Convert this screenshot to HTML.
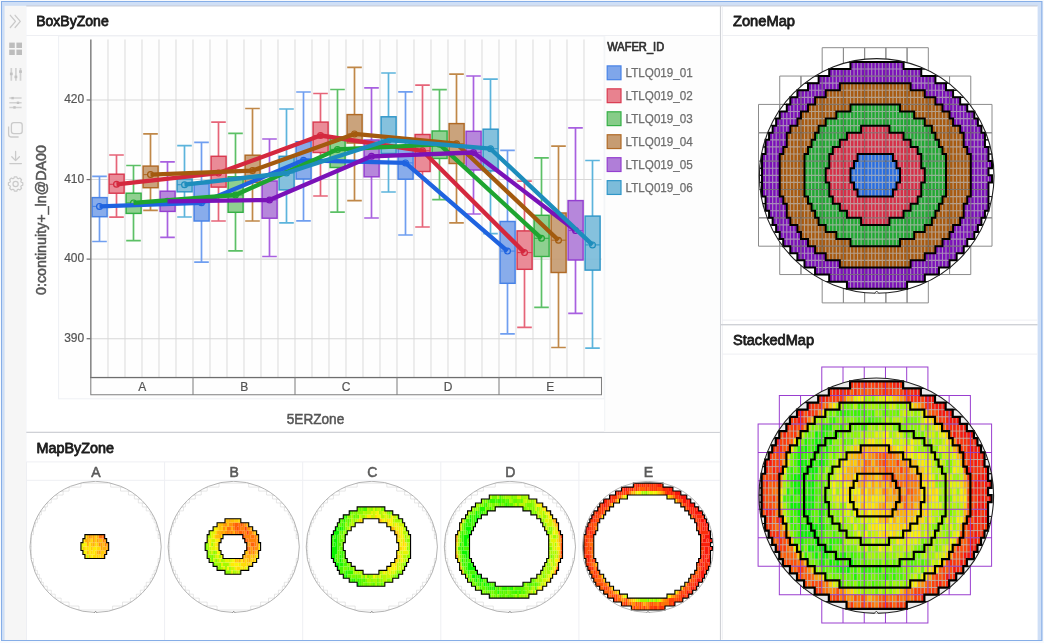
<!DOCTYPE html>
<html><head><meta charset="utf-8"><title>Dashboard</title>
<style>html,body{margin:0;padding:0;background:#f6f9fd;overflow:hidden}svg{display:block;filter:blur(0.4px)}text{font-family:"Liberation Sans",sans-serif}</style></head><body>
<svg width="1044" height="643" viewBox="0 0 1044 643">
<rect x="0" y="0" width="1044" height="643" fill="#f8fafd"/>
<rect x="1" y="1" width="1041.5" height="640" fill="#86aee7"/>
<rect x="2" y="2" width="1039.3" height="638" fill="#cfdff6"/>
<rect x="4.6" y="5.8" width="22" height="634.2" fill="#f6f6f6"/>
<rect x="26.3" y="6" width="1011.3" height="634" fill="#ffffff"/>
<rect x="26.3" y="5.4" width="1011.3" height="1.1" fill="#c9ced8"/>
<rect x="719.9" y="6" width="1.1" height="634" fill="#cfd1d6"/>
<rect x="721.8" y="6.5" width="1" height="633" fill="#eeeff3"/>
<rect x="26.3" y="431.7" width="693.6" height="1.3" fill="#cfd1d6"/>
<rect x="721" y="324" width="316.6" height="1.4" fill="#cfd1d6"/>
<rect x="722" y="319.6" width="315.6" height="1" fill="#eeeff3"/>
<rect x="26.3" y="35" width="693.6" height="1" fill="#eeeff3"/>
<rect x="722" y="35" width="315.6" height="1" fill="#eeeff3"/>
<rect x="722" y="353.6" width="315.6" height="1" fill="#eeeff3"/>
<rect x="26.3" y="461.4" width="693.6" height="1" fill="#eeeff3"/>
<text x="36.2" y="25.8" font-size="14" fill="#1c1c1c" stroke="#1c1c1c" stroke-width="0.8" stroke-linejoin="round" textLength="72.5" lengthAdjust="spacingAndGlyphs">BoxByZone</text>
<text x="733" y="25.8" font-size="14" fill="#1c1c1c" stroke="#1c1c1c" stroke-width="0.8" stroke-linejoin="round" textLength="62" lengthAdjust="spacingAndGlyphs">ZoneMap</text>
<text x="733" y="344.6" font-size="14" fill="#1c1c1c" stroke="#1c1c1c" stroke-width="0.8" stroke-linejoin="round" textLength="81" lengthAdjust="spacingAndGlyphs">StackedMap</text>
<text x="36.5" y="453.2" font-size="14" fill="#1c1c1c" stroke="#1c1c1c" stroke-width="0.8" stroke-linejoin="round" textLength="77.5" lengthAdjust="spacingAndGlyphs">MapByZone</text>
<g fill="none" stroke="#cacaca" stroke-width="1.3" stroke-linecap="round" stroke-linejoin="round"><path d="M10.3 15.3 L15.5 21.4 L10.3 27.5 M15.1 15.3 L20.3 21.4 L15.1 27.5"/></g>
<g fill="#bdbdbd"><rect x="9.2" y="42.6" width="5.6" height="5.4"/><rect x="16.4" y="42.6" width="5.6" height="5.4"/><rect x="9.2" y="49.6" width="5.6" height="5.4"/><rect x="16.4" y="49.6" width="5.6" height="5.4"/></g>
<g stroke="#d2d2d2" stroke-width="1.7" fill="none"><path d="M11.3 68 V80.8 M15.9 68 V80.8 M20.5 68 V80.8"/></g>
<g fill="#c2c2c2"><rect x="9.9" y="72.6" width="2.8" height="2.6"/><rect x="14.5" y="75.6" width="2.8" height="2.6"/><rect x="19.1" y="70.3" width="2.8" height="2.6"/></g>
<g stroke="#d2d2d2" stroke-width="1.5" fill="none"><path d="M9.3 98.1 H21.6 M9.3 102.8 H21.6 M9.3 107.4 H21.6"/></g>
<g fill="#c2c2c2"><rect x="11.4" y="96.9" width="2.4" height="2.4"/><rect x="16.8" y="101.6" width="2.4" height="2.4"/><rect x="13.3" y="106.2" width="2.4" height="2.4"/></g>
<g fill="none" stroke="#cacaca" stroke-width="1.3" stroke-linejoin="round"><rect x="11.4" y="122.6" width="10.8" height="11" rx="2.4"/><path d="M8.6 126.6 V134.6 Q8.6 137 11 137 H18.6"/></g>
<g fill="none" stroke="#cacaca" stroke-width="1.3" stroke-linecap="round" stroke-linejoin="round"><path d="M15.6 151.5 V160.5 M11.8 156.8 L15.6 160.6 L19.4 156.8 M9.8 163.6 H21.4"/></g>
<g fill="none" stroke="#cacaca" stroke-width="1.2" stroke-linejoin="round"><path d="M22.79 182.76 L22.79 185.24 L21.24 185.74 L20.82 186.75 L21.56 188.21 L19.81 189.96 L18.35 189.22 L17.35 189.64 L16.84 191.19 L14.36 191.19 L13.86 189.64 L12.85 189.22 L11.39 189.96 L9.64 188.21 L10.38 186.75 L9.96 185.75 L8.41 185.24 L8.41 182.76 L9.96 182.26 L10.38 181.25 L9.64 179.79 L11.39 178.04 L12.85 178.78 L13.85 178.36 L14.36 176.81 L16.84 176.81 L17.34 178.36 L18.35 178.78 L19.81 178.04 L21.56 179.79 L20.82 181.25 L21.24 182.25Z"/><circle cx="15.6" cy="184" r="2.6"/></g>
<rect x="58.6" y="36" width="545.6" height="362.8" fill="#fefefe" stroke="#eef0f4" stroke-width="1"/>
<rect x="604.2" y="36" width="115.6" height="395.6" fill="#fdfdfd"/>
<rect x="604.2" y="36" width="1" height="395" fill="#f1f3f6"/>
<path d="M108 39.5V377.5M125 39.5V377.5M142 39.5V377.5M159 39.5V377.5M176 39.5V377.5M193 39.5V377.5M210 39.5V377.5M227 39.5V377.5M244 39.5V377.5M261 39.5V377.5M278 39.5V377.5M295 39.5V377.5M312 39.5V377.5M329 39.5V377.5M346 39.5V377.5M363 39.5V377.5M380 39.5V377.5M397 39.5V377.5M414 39.5V377.5M431 39.5V377.5M448 39.5V377.5M465 39.5V377.5M482 39.5V377.5M499 39.5V377.5M516 39.5V377.5M533 39.5V377.5M550 39.5V377.5M567 39.5V377.5M584 39.5V377.5" stroke="#dcdcdc" stroke-width="1.05" fill="none"/>
<path d="M91.0 100H601.5M91.0 179.57H601.5M91.0 259.14H601.5M91.0 338.71H601.5" stroke="#d8d8d8" stroke-width="1.05" fill="none"/>
<path d="M99.5 176.3V197.6M99.5 216.7V241.5M92.2 176.3H106.8M92.2 241.5H106.8" stroke="#6f9ef0" stroke-width="1.7" fill="none"/>
<path d="M116.5 155V174.2M116.5 193.2V217.1M109.2 155H123.8M109.2 217.1H123.8" stroke="#e66478" stroke-width="1.7" fill="none"/>
<path d="M133.5 165.5V193.2M133.5 213.4V240.7M126.2 165.5H140.8M126.2 240.7H140.8" stroke="#5cc066" stroke-width="1.7" fill="none"/>
<path d="M150.5 133.8V166.1M150.5 187.7V210.4M143.2 133.8H157.8M143.2 210.4H157.8" stroke="#c08848" stroke-width="1.7" fill="none"/>
<path d="M167.5 161.9V191.2M167.5 211.4V237.3M160.2 161.9H174.8M160.2 237.3H174.8" stroke="#a860e0" stroke-width="1.7" fill="none"/>
<path d="M184.5 145.7V179M184.5 191.8V217M177.2 145.7H191.8M177.2 217H191.8" stroke="#5cb4dc" stroke-width="1.7" fill="none"/>
<path d="M201.5 142.3V183.8M201.5 221V262.1M194.2 142.3H208.8M194.2 262.1H208.8" stroke="#6f9ef0" stroke-width="1.7" fill="none"/>
<path d="M218.5 122.2V156.3M218.5 187.1V221M211.2 122.2H225.8M211.2 221H225.8" stroke="#e66478" stroke-width="1.7" fill="none"/>
<path d="M235.5 133.4V176.8M235.5 212.3V250.9M228.2 133.4H242.8M228.2 250.9H242.8" stroke="#5cc066" stroke-width="1.7" fill="none"/>
<path d="M252.5 108.5V155.2M252.5 182.4V221M245.2 108.5H259.8M245.2 221H259.8" stroke="#c08848" stroke-width="1.7" fill="none"/>
<path d="M269.5 139V181M269.5 218.2V256.5M262.2 139H276.8M262.2 256.5H276.8" stroke="#a860e0" stroke-width="1.7" fill="none"/>
<path d="M286.5 109V156.3M286.5 189.9V222.9M279.2 109H293.8M279.2 222.9H293.8" stroke="#5cb4dc" stroke-width="1.7" fill="none"/>
<path d="M303.5 92V141.7M303.5 179V220.9M296.2 92H310.8M296.2 220.9H310.8" stroke="#6f9ef0" stroke-width="1.7" fill="none"/>
<path d="M320.5 93.5V122.1M320.5 152.5V196M313.2 93.5H327.8M313.2 196H327.8" stroke="#e66478" stroke-width="1.7" fill="none"/>
<path d="M337.5 89.5V137M337.5 167.5V212.2M330.2 89.5H344.8M330.2 212.2H344.8" stroke="#5cc066" stroke-width="1.7" fill="none"/>
<path d="M354.5 67.4V114.6M354.5 143V200.7M347.2 67.4H361.8M347.2 200.7H361.8" stroke="#c08848" stroke-width="1.7" fill="none"/>
<path d="M371.5 87.9V140M371.5 176.8V218M364.2 87.9H378.8M364.2 218H378.8" stroke="#a860e0" stroke-width="1.7" fill="none"/>
<path d="M388.5 73V116.8M388.5 153.5V192M381.2 73H395.8M381.2 192H395.8" stroke="#5cb4dc" stroke-width="1.7" fill="none"/>
<path d="M405.5 91.9V145.7M405.5 179.2V235M398.2 91.9H412.8M398.2 235H412.8" stroke="#6f9ef0" stroke-width="1.7" fill="none"/>
<path d="M422.5 85.1V134.5M422.5 171.5V227M415.2 85.1H429.8M415.2 227H429.8" stroke="#e66478" stroke-width="1.7" fill="none"/>
<path d="M439.5 89.6V131M439.5 158.5V199.6M432.2 89.6H446.8M432.2 199.6H446.8" stroke="#5cc066" stroke-width="1.7" fill="none"/>
<path d="M456.5 74.2V123.6M456.5 163.5V222.9M449.2 74.2H463.8M449.2 222.9H463.8" stroke="#c08848" stroke-width="1.7" fill="none"/>
<path d="M473.5 76V131.3M473.5 170V214M466.2 76H480.8M466.2 214H480.8" stroke="#a860e0" stroke-width="1.7" fill="none"/>
<path d="M490.5 79.2V129.2M490.5 170.9V233.6M483.2 79.2H497.8M483.2 233.6H497.8" stroke="#5cb4dc" stroke-width="1.7" fill="none"/>
<path d="M507.5 150.4V221.5M507.5 283.3V333.9M500.2 150.4H514.8M500.2 333.9H514.8" stroke="#6f9ef0" stroke-width="1.7" fill="none"/>
<path d="M524.5 181.1V230.9M524.5 269.3V327.3M517.2 181.1H531.8M517.2 327.3H531.8" stroke="#e66478" stroke-width="1.7" fill="none"/>
<path d="M541.5 157.8V215.3M541.5 256.5V307.4M534.2 157.8H548.8M534.2 307.4H548.8" stroke="#5cc066" stroke-width="1.7" fill="none"/>
<path d="M558.5 146.1V213M558.5 272.5V347.5M551.2 146.1H565.8M551.2 347.5H565.8" stroke="#c08848" stroke-width="1.7" fill="none"/>
<path d="M575.5 127.9V200.6M575.5 260V313.3M568.2 127.9H582.8M568.2 313.3H582.8" stroke="#a860e0" stroke-width="1.7" fill="none"/>
<path d="M592.5 160.5V216.1M592.5 270.1V348.2M585.2 160.5H599.8M585.2 348.2H599.8" stroke="#5cb4dc" stroke-width="1.7" fill="none"/>
<rect x="92.1" y="197.6" width="15" height="19.1" fill="#7fa6ea" fill-opacity="0.93" stroke="#4782e6" stroke-width="1.45"/>
<path d="M92.1 206.4H107.1" stroke="#4782e6" stroke-width="1.1"/>
<rect x="109.1" y="174.2" width="15" height="19" fill="#e8828f" fill-opacity="0.93" stroke="#d93a50" stroke-width="1.45"/>
<path d="M109.1 184.3H124.1" stroke="#d93a50" stroke-width="1.1"/>
<rect x="126.1" y="193.2" width="15" height="20.2" fill="#86cc88" fill-opacity="0.93" stroke="#35b046" stroke-width="1.45"/>
<path d="M126.1 202.9H141.1" stroke="#35b046" stroke-width="1.1"/>
<rect x="143.1" y="166.1" width="15" height="21.6" fill="#c69c72" fill-opacity="0.93" stroke="#b06a26" stroke-width="1.45"/>
<path d="M143.1 174.6H158.1" stroke="#b06a26" stroke-width="1.1"/>
<rect x="160.1" y="191.2" width="15" height="20.2" fill="#b07ed8" fill-opacity="0.93" stroke="#943fd0" stroke-width="1.45"/>
<path d="M160.1 201.3H175.1" stroke="#943fd0" stroke-width="1.1"/>
<rect x="177.1" y="179" width="15" height="12.8" fill="#7cbcda" fill-opacity="0.93" stroke="#3096c8" stroke-width="1.45"/>
<path d="M177.1 184.7H192.1" stroke="#3096c8" stroke-width="1.1"/>
<rect x="194.1" y="183.8" width="15" height="37.2" fill="#7fa6ea" fill-opacity="0.93" stroke="#4782e6" stroke-width="1.45"/>
<path d="M194.1 202.8H209.1" stroke="#4782e6" stroke-width="1.1"/>
<rect x="211.1" y="156.3" width="15" height="30.8" fill="#e8828f" fill-opacity="0.93" stroke="#d93a50" stroke-width="1.45"/>
<path d="M211.1 173.1H226.1" stroke="#d93a50" stroke-width="1.1"/>
<rect x="228.1" y="176.8" width="15" height="35.5" fill="#86cc88" fill-opacity="0.93" stroke="#35b046" stroke-width="1.45"/>
<path d="M228.1 195H243.1" stroke="#35b046" stroke-width="1.1"/>
<rect x="245.1" y="155.2" width="15" height="27.2" fill="#c69c72" fill-opacity="0.93" stroke="#b06a26" stroke-width="1.45"/>
<path d="M245.1 170.6H260.1" stroke="#b06a26" stroke-width="1.1"/>
<rect x="262.1" y="181" width="15" height="37.2" fill="#b07ed8" fill-opacity="0.93" stroke="#943fd0" stroke-width="1.45"/>
<path d="M262.1 200H277.1" stroke="#943fd0" stroke-width="1.1"/>
<rect x="279.1" y="156.3" width="15" height="33.6" fill="#7cbcda" fill-opacity="0.93" stroke="#3096c8" stroke-width="1.45"/>
<path d="M279.1 173H294.1" stroke="#3096c8" stroke-width="1.1"/>
<rect x="296.1" y="141.7" width="15" height="37.3" fill="#7fa6ea" fill-opacity="0.93" stroke="#4782e6" stroke-width="1.45"/>
<path d="M296.1 160.3H311.1" stroke="#4782e6" stroke-width="1.1"/>
<rect x="313.1" y="122.1" width="15" height="30.4" fill="#e8828f" fill-opacity="0.93" stroke="#d93a50" stroke-width="1.45"/>
<path d="M313.1 135.5H328.1" stroke="#d93a50" stroke-width="1.1"/>
<rect x="330.1" y="137" width="15" height="30.5" fill="#86cc88" fill-opacity="0.93" stroke="#35b046" stroke-width="1.45"/>
<path d="M330.1 149.4H345.1" stroke="#35b046" stroke-width="1.1"/>
<rect x="347.1" y="114.6" width="15" height="28.4" fill="#c69c72" fill-opacity="0.93" stroke="#b06a26" stroke-width="1.45"/>
<path d="M347.1 133.9H362.1" stroke="#b06a26" stroke-width="1.1"/>
<rect x="364.1" y="140" width="15" height="36.8" fill="#b07ed8" fill-opacity="0.93" stroke="#943fd0" stroke-width="1.45"/>
<path d="M364.1 156.3H379.1" stroke="#943fd0" stroke-width="1.1"/>
<rect x="381.1" y="116.8" width="15" height="36.7" fill="#7cbcda" fill-opacity="0.93" stroke="#3096c8" stroke-width="1.45"/>
<path d="M381.1 140H396.1" stroke="#3096c8" stroke-width="1.1"/>
<rect x="398.1" y="145.7" width="15" height="33.5" fill="#7fa6ea" fill-opacity="0.93" stroke="#4782e6" stroke-width="1.45"/>
<path d="M398.1 162.9H413.1" stroke="#4782e6" stroke-width="1.1"/>
<rect x="415.1" y="134.5" width="15" height="37" fill="#e8828f" fill-opacity="0.93" stroke="#d93a50" stroke-width="1.45"/>
<path d="M415.1 150.8H430.1" stroke="#d93a50" stroke-width="1.1"/>
<rect x="432.1" y="131" width="15" height="27.5" fill="#86cc88" fill-opacity="0.93" stroke="#35b046" stroke-width="1.45"/>
<path d="M432.1 144.3H447.1" stroke="#35b046" stroke-width="1.1"/>
<rect x="449.1" y="123.6" width="15" height="39.9" fill="#c69c72" fill-opacity="0.93" stroke="#b06a26" stroke-width="1.45"/>
<path d="M449.1 143.7H464.1" stroke="#b06a26" stroke-width="1.1"/>
<rect x="466.1" y="131.3" width="15" height="38.7" fill="#b07ed8" fill-opacity="0.93" stroke="#943fd0" stroke-width="1.45"/>
<path d="M466.1 152.5H481.1" stroke="#943fd0" stroke-width="1.1"/>
<rect x="483.1" y="129.2" width="15" height="41.7" fill="#7cbcda" fill-opacity="0.93" stroke="#3096c8" stroke-width="1.45"/>
<path d="M483.1 148.7H498.1" stroke="#3096c8" stroke-width="1.1"/>
<rect x="500.1" y="221.5" width="15" height="61.8" fill="#7fa6ea" fill-opacity="0.93" stroke="#4782e6" stroke-width="1.45"/>
<path d="M500.1 251.1H515.1" stroke="#4782e6" stroke-width="1.1"/>
<rect x="517.1" y="230.9" width="15" height="38.4" fill="#e8828f" fill-opacity="0.93" stroke="#d93a50" stroke-width="1.45"/>
<path d="M517.1 252.6H532.1" stroke="#d93a50" stroke-width="1.1"/>
<rect x="534.1" y="215.3" width="15" height="41.2" fill="#86cc88" fill-opacity="0.93" stroke="#35b046" stroke-width="1.45"/>
<path d="M534.1 238.3H549.1" stroke="#35b046" stroke-width="1.1"/>
<rect x="551.1" y="213" width="15" height="59.5" fill="#c69c72" fill-opacity="0.93" stroke="#b06a26" stroke-width="1.45"/>
<path d="M551.1 240.2H566.1" stroke="#b06a26" stroke-width="1.1"/>
<rect x="568.1" y="200.6" width="15" height="59.4" fill="#b07ed8" fill-opacity="0.93" stroke="#943fd0" stroke-width="1.45"/>
<path d="M568.1 230.5H583.1" stroke="#943fd0" stroke-width="1.1"/>
<rect x="585.1" y="216.1" width="15" height="54" fill="#7cbcda" fill-opacity="0.93" stroke="#3096c8" stroke-width="1.45"/>
<path d="M585.1 244.9H600.1" stroke="#3096c8" stroke-width="1.1"/>
<circle cx="99.5" cy="206.4" r="2.9" fill="#7fa6ea" stroke="#1f63e0" stroke-width="1.2"/>
<circle cx="201.5" cy="202.8" r="2.9" fill="#7fa6ea" stroke="#1f63e0" stroke-width="1.2"/>
<circle cx="303.5" cy="160.3" r="2.9" fill="#7fa6ea" stroke="#1f63e0" stroke-width="1.2"/>
<circle cx="405.5" cy="162.9" r="2.9" fill="#7fa6ea" stroke="#1f63e0" stroke-width="1.2"/>
<circle cx="507.5" cy="251.1" r="2.9" fill="#7fa6ea" stroke="#1f63e0" stroke-width="1.2"/>
<circle cx="116.5" cy="184.3" r="2.9" fill="#e8828f" stroke="#d4283e" stroke-width="1.2"/>
<circle cx="218.5" cy="173.1" r="2.9" fill="#e8828f" stroke="#d4283e" stroke-width="1.2"/>
<circle cx="320.5" cy="135.5" r="2.9" fill="#e8828f" stroke="#d4283e" stroke-width="1.2"/>
<circle cx="422.5" cy="150.8" r="2.9" fill="#e8828f" stroke="#d4283e" stroke-width="1.2"/>
<circle cx="524.5" cy="252.6" r="2.9" fill="#e8828f" stroke="#d4283e" stroke-width="1.2"/>
<circle cx="133.5" cy="202.9" r="2.9" fill="#86cc88" stroke="#1ea530" stroke-width="1.2"/>
<circle cx="235.5" cy="195" r="2.9" fill="#86cc88" stroke="#1ea530" stroke-width="1.2"/>
<circle cx="337.5" cy="149.4" r="2.9" fill="#86cc88" stroke="#1ea530" stroke-width="1.2"/>
<circle cx="439.5" cy="144.3" r="2.9" fill="#86cc88" stroke="#1ea530" stroke-width="1.2"/>
<circle cx="541.5" cy="238.3" r="2.9" fill="#86cc88" stroke="#1ea530" stroke-width="1.2"/>
<circle cx="150.5" cy="174.6" r="2.9" fill="#c69c72" stroke="#a35a0e" stroke-width="1.2"/>
<circle cx="252.5" cy="170.6" r="2.9" fill="#c69c72" stroke="#a35a0e" stroke-width="1.2"/>
<circle cx="354.5" cy="133.9" r="2.9" fill="#c69c72" stroke="#a35a0e" stroke-width="1.2"/>
<circle cx="456.5" cy="143.7" r="2.9" fill="#c69c72" stroke="#a35a0e" stroke-width="1.2"/>
<circle cx="558.5" cy="240.2" r="2.9" fill="#c69c72" stroke="#a35a0e" stroke-width="1.2"/>
<circle cx="167.5" cy="201.3" r="2.9" fill="#b07ed8" stroke="#7a12b8" stroke-width="1.2"/>
<circle cx="269.5" cy="200" r="2.9" fill="#b07ed8" stroke="#7a12b8" stroke-width="1.2"/>
<circle cx="371.5" cy="156.3" r="2.9" fill="#b07ed8" stroke="#7a12b8" stroke-width="1.2"/>
<circle cx="473.5" cy="152.5" r="2.9" fill="#b07ed8" stroke="#7a12b8" stroke-width="1.2"/>
<circle cx="575.5" cy="230.5" r="2.9" fill="#b07ed8" stroke="#7a12b8" stroke-width="1.2"/>
<circle cx="184.5" cy="184.7" r="2.9" fill="#7cbcda" stroke="#1d8dbc" stroke-width="1.2"/>
<circle cx="286.5" cy="173" r="2.9" fill="#7cbcda" stroke="#1d8dbc" stroke-width="1.2"/>
<circle cx="388.5" cy="140" r="2.9" fill="#7cbcda" stroke="#1d8dbc" stroke-width="1.2"/>
<circle cx="490.5" cy="148.7" r="2.9" fill="#7cbcda" stroke="#1d8dbc" stroke-width="1.2"/>
<circle cx="592.5" cy="244.9" r="2.9" fill="#7cbcda" stroke="#1d8dbc" stroke-width="1.2"/>
<path d="M99.5 206.4L201.5 202.8L303.5 160.3L405.5 162.9L507.5 251.1" stroke="#1f63e0" stroke-width="4.3" fill="none" stroke-linejoin="round" stroke-linecap="butt"/>
<path d="M116.5 184.3L218.5 173.1L320.5 135.5L422.5 150.8L524.5 252.6" stroke="#d4283e" stroke-width="4.3" fill="none" stroke-linejoin="round" stroke-linecap="butt"/>
<path d="M133.5 202.9L235.5 195L337.5 149.4L439.5 144.3L541.5 238.3" stroke="#1ea530" stroke-width="4.3" fill="none" stroke-linejoin="round" stroke-linecap="butt"/>
<path d="M150.5 174.6L252.5 170.6L354.5 133.9L456.5 143.7L558.5 240.2" stroke="#a35a0e" stroke-width="4.3" fill="none" stroke-linejoin="round" stroke-linecap="butt"/>
<path d="M167.5 201.3L269.5 200L371.5 156.3L473.5 152.5L575.5 230.5" stroke="#7a12b8" stroke-width="4.3" fill="none" stroke-linejoin="round" stroke-linecap="butt"/>
<path d="M184.5 184.7L286.5 173L388.5 140L490.5 148.7L592.5 244.9" stroke="#1d8dbc" stroke-width="4.3" fill="none" stroke-linejoin="round" stroke-linecap="butt"/>
<rect x="90.2" y="39.5" width="1.3" height="338.5" fill="#6e6e6e"/>
<rect x="90.2" y="376.9" width="511.8" height="1.3" fill="#6e6e6e"/>
<path d="M90.8 377.5V394.7H601.5V377.5M193 377.5V394.7M295 377.5V394.7M397 377.5V394.7M499 377.5V394.7" stroke="#808080" stroke-width="1.05" fill="none"/>
<text x="142.2" y="391" font-size="12" fill="#555" stroke="#555" stroke-width="0.2" text-anchor="middle">A</text>
<text x="244.2" y="391" font-size="12" fill="#555" stroke="#555" stroke-width="0.2" text-anchor="middle">B</text>
<text x="346.2" y="391" font-size="12" fill="#555" stroke="#555" stroke-width="0.2" text-anchor="middle">C</text>
<text x="448.2" y="391" font-size="12" fill="#555" stroke="#555" stroke-width="0.2" text-anchor="middle">D</text>
<text x="550.2" y="391" font-size="12" fill="#555" stroke="#555" stroke-width="0.2" text-anchor="middle">E</text>
<rect x="86.6" y="99.4" width="3.9" height="1.2" fill="#6e6e6e"/>
<text x="84.2" y="103.1" font-size="12" fill="#555" stroke="#555" stroke-width="0.2" text-anchor="end" textLength="20" lengthAdjust="spacingAndGlyphs">420</text>
<rect x="86.6" y="178.97" width="3.9" height="1.2" fill="#6e6e6e"/>
<text x="84.2" y="182.67" font-size="12" fill="#555" stroke="#555" stroke-width="0.2" text-anchor="end" textLength="20" lengthAdjust="spacingAndGlyphs">410</text>
<rect x="86.6" y="258.54" width="3.9" height="1.2" fill="#6e6e6e"/>
<text x="84.2" y="262.24" font-size="12" fill="#555" stroke="#555" stroke-width="0.2" text-anchor="end" textLength="20" lengthAdjust="spacingAndGlyphs">400</text>
<rect x="86.6" y="338.11" width="3.9" height="1.2" fill="#6e6e6e"/>
<text x="84.2" y="341.81" font-size="12" fill="#555" stroke="#555" stroke-width="0.2" text-anchor="end" textLength="20" lengthAdjust="spacingAndGlyphs">390</text>
<text x="315.5" y="424.4" font-size="14" fill="#555" stroke="#555" stroke-width="0.5" text-anchor="middle" textLength="57.5" lengthAdjust="spacingAndGlyphs">5ERZone</text>
<text transform="translate(46.2 220) rotate(-90)" font-size="14" fill="#555" stroke="#555" stroke-width="0.5" text-anchor="middle" textLength="150" lengthAdjust="spacingAndGlyphs">0:continuity+_ln@DA00</text>
<text x="607.2" y="50.8" font-size="12" fill="#303030" stroke="#303030" stroke-width="0.7" stroke-linejoin="round" textLength="57" lengthAdjust="spacingAndGlyphs">WAFER_ID</text>
<rect x="607.2" y="65.9" width="13.8" height="13.8" fill="#7fa6ea" stroke="#4782e6" stroke-width="1.2"/>
<text x="625.6" y="77" font-size="12" fill="#6e6e6e" stroke="#6e6e6e" stroke-width="0.25" textLength="67.2" lengthAdjust="spacingAndGlyphs">LTLQ019_01</text>
<rect x="607.2" y="88.85" width="13.8" height="13.8" fill="#e8828f" stroke="#d93a50" stroke-width="1.2"/>
<text x="625.6" y="99.95" font-size="12" fill="#6e6e6e" stroke="#6e6e6e" stroke-width="0.25" textLength="67.2" lengthAdjust="spacingAndGlyphs">LTLQ019_02</text>
<rect x="607.2" y="111.8" width="13.8" height="13.8" fill="#86cc88" stroke="#35b046" stroke-width="1.2"/>
<text x="625.6" y="122.9" font-size="12" fill="#6e6e6e" stroke="#6e6e6e" stroke-width="0.25" textLength="67.2" lengthAdjust="spacingAndGlyphs">LTLQ019_03</text>
<rect x="607.2" y="134.75" width="13.8" height="13.8" fill="#c69c72" stroke="#b06a26" stroke-width="1.2"/>
<text x="625.6" y="145.85" font-size="12" fill="#6e6e6e" stroke="#6e6e6e" stroke-width="0.25" textLength="67.2" lengthAdjust="spacingAndGlyphs">LTLQ019_04</text>
<rect x="607.2" y="157.7" width="13.8" height="13.8" fill="#b07ed8" stroke="#943fd0" stroke-width="1.2"/>
<text x="625.6" y="168.8" font-size="12" fill="#6e6e6e" stroke="#6e6e6e" stroke-width="0.25" textLength="67.2" lengthAdjust="spacingAndGlyphs">LTLQ019_05</text>
<rect x="607.2" y="180.65" width="13.8" height="13.8" fill="#7cbcda" stroke="#3096c8" stroke-width="1.2"/>
<text x="625.6" y="191.75" font-size="12" fill="#6e6e6e" stroke="#6e6e6e" stroke-width="0.25" textLength="67.2" lengthAdjust="spacingAndGlyphs">LTLQ019_06</text>
<defs>
<clipPath id="cw"><circle cx="876.7" cy="175.9" r="117.3"/></clipPath>
<clipPath id="cd"><path d="M850.48 61.88h53.07v7.09h-53.07zM829.26 68.97h91.98v7.09h-91.98zM818.64 76.06h116.75v7.09h-116.75zM808.03 83.14h137.98v7.09h-137.98zM797.42 90.23h155.67v7.09h-155.67zM790.34 97.32h169.82v7.09h-169.82zM786.8 104.41h180.43v7.09h-180.43zM779.73 111.5h194.58v7.09h-194.58zM776.19 118.59h201.66v7.09h-201.66zM772.65 125.68h208.73v7.09h-208.73zM769.11 132.77h215.81v7.09h-215.81zM765.58 139.86h219.35v7.09h-219.35zM765.58 146.94h222.89v7.09h-222.89zM762.04 154.03h226.42v7.09h-226.42zM762.04 161.12h229.96v7.09h-229.96zM762.04 168.21h226.42v7.09h-226.42zM762.04 175.3h229.96v7.09h-229.96zM762.04 182.39h226.42v7.09h-226.42zM762.04 189.48h226.42v7.09h-226.42zM765.58 196.57h222.89v7.09h-222.89zM765.58 203.66h222.89v7.09h-222.89zM769.11 210.74h215.81v7.09h-215.81zM772.65 217.83h208.73v7.09h-208.73zM776.19 224.92h201.66v7.09h-201.66zM779.73 232.01h194.58v7.09h-194.58zM783.27 239.1h183.97v7.09h-183.97zM790.34 246.19h173.36v7.09h-173.36zM797.42 253.28h159.2v7.09h-159.2zM804.49 260.37h145.05v7.09h-145.05zM815.11 267.46h123.83v7.09h-123.83zM829.26 274.54h95.52v7.09h-95.52zM846.95 281.63h60.14v7.09h-60.14z"/></clipPath>
<path id="outl" d="M850.48 61.88h53.07M829.26 68.97h21.23M903.55 68.97h17.69M818.64 76.06h10.61M921.24 76.06h14.15M808.03 83.14h10.61M839.87 83.14h70.76M935.39 83.14h10.61M797.42 90.23h10.61M825.72 90.23h14.15M910.63 90.23h14.15M946.01 90.23h7.08M790.34 97.32h7.08M815.11 97.32h10.61M924.78 97.32h10.61M953.08 97.32h7.08M786.8 104.41h3.54M808.03 104.41h7.08M850.48 104.41h49.53M935.39 104.41h7.08M960.16 104.41h7.08M779.73 111.5h7.08M800.95 111.5h7.08M836.33 111.5h14.15M900.02 111.5h14.15M942.47 111.5h7.08M967.23 111.5h7.08M776.19 118.59h3.54M797.42 118.59h3.54M825.72 118.59h10.61M914.17 118.59h10.61M949.55 118.59h3.54M974.31 118.59h3.54M772.65 125.68h3.54M790.34 125.68h7.08M818.64 125.68h7.08M861.1 125.68h28.3M924.78 125.68h7.08M953.08 125.68h7.08M977.85 125.68h3.54M769.11 132.77h3.54M786.8 132.77h3.54M815.11 132.77h3.54M846.95 132.77h14.15M889.4 132.77h14.15M931.86 132.77h3.54M960.16 132.77h3.54M981.39 132.77h3.54M765.58 139.86h3.54M811.57 139.86h3.54M839.87 139.86h7.08M903.55 139.86h7.08M935.39 139.86h3.54M783.27 146.94h3.54M808.03 146.94h3.54M832.8 146.94h7.08M910.63 146.94h7.08M938.93 146.94h3.54M963.7 146.94h3.54M984.92 146.94h3.54M762.04 154.03h3.54M779.73 154.03h3.54M804.49 154.03h3.54M829.26 154.03h3.54M857.56 154.03h35.38M917.7 154.03h3.54M942.47 154.03h3.54M967.23 154.03h3.54M854.02 161.12h3.54M892.94 161.12h3.54M988.46 161.12h3.54M825.72 168.21h3.54M850.48 168.21h3.54M896.48 168.21h3.54M921.24 168.21h3.54M988.46 168.21h3.54M988.46 175.3h3.54M825.72 182.39h3.54M850.48 182.39h3.54M896.48 182.39h3.54M921.24 182.39h3.54M988.46 182.39h3.54M854.02 189.48h3.54M892.94 189.48h3.54M762.04 196.57h3.54M779.73 196.57h3.54M804.49 196.57h3.54M829.26 196.57h3.54M857.56 196.57h35.38M917.7 196.57h3.54M942.47 196.57h3.54M967.23 196.57h3.54M783.27 203.66h3.54M808.03 203.66h3.54M832.8 203.66h7.08M910.63 203.66h7.08M938.93 203.66h3.54M963.7 203.66h3.54M765.58 210.74h3.54M811.57 210.74h3.54M839.87 210.74h7.08M903.55 210.74h7.08M935.39 210.74h3.54M984.92 210.74h3.54M769.11 217.83h3.54M786.8 217.83h3.54M815.11 217.83h3.54M846.95 217.83h14.15M889.4 217.83h14.15M931.86 217.83h3.54M960.16 217.83h3.54M981.39 217.83h3.54M772.65 224.92h3.54M790.34 224.92h7.08M818.64 224.92h7.08M861.1 224.92h28.3M924.78 224.92h7.08M953.08 224.92h7.08M977.85 224.92h3.54M776.19 232.01h3.54M797.42 232.01h3.54M825.72 232.01h10.61M914.17 232.01h10.61M949.55 232.01h3.54M974.31 232.01h3.54M779.73 239.1h3.54M800.95 239.1h7.08M836.33 239.1h14.15M900.02 239.1h14.15M942.47 239.1h7.08M967.23 239.1h7.08M783.27 246.19h7.08M808.03 246.19h7.08M850.48 246.19h49.53M935.39 246.19h7.08M963.7 246.19h3.54M790.34 253.28h7.08M815.11 253.28h10.61M924.78 253.28h10.61M956.62 253.28h7.08M797.42 260.37h7.08M825.72 260.37h14.15M910.63 260.37h14.15M949.55 260.37h7.08M804.49 267.46h10.61M839.87 267.46h70.76M938.93 267.46h10.61M815.11 274.54h14.15M924.78 274.54h14.15M829.26 281.63h17.69M907.09 281.63h17.69M846.95 288.72h60.14M762.04 154.03v42.53M765.58 139.86v14.18M765.58 196.57v14.18M769.11 132.77v7.09M769.11 210.74v7.09M772.65 125.68v7.09M772.65 217.83v7.09M776.19 118.59v7.09M776.19 224.92v7.09M779.73 111.5v7.09M779.73 154.03v42.53M779.73 232.01v7.09M783.27 146.94v7.09M783.27 196.57v7.09M783.27 239.1v7.09M786.8 104.41v7.09M786.8 132.77v14.18M786.8 203.66v14.18M790.34 97.32v7.09M790.34 125.68v7.09M790.34 217.83v7.09M790.34 246.19v7.09M797.42 90.23v7.09M797.42 118.59v7.09M797.42 224.92v7.09M797.42 253.28v7.09M800.95 111.5v7.09M800.95 232.01v7.09M804.49 154.03v42.53M804.49 260.37v7.09M808.03 83.14v7.09M808.03 104.41v7.09M808.03 146.94v7.09M808.03 196.57v7.09M808.03 239.1v7.09M811.57 139.86v7.09M811.57 203.66v7.09M815.11 97.32v7.09M815.11 132.77v7.09M815.11 210.74v7.09M815.11 246.19v7.09M815.11 267.46v7.09M818.64 76.06v7.09M818.64 125.68v7.09M818.64 217.83v7.09M825.72 90.23v7.09M825.72 118.59v7.09M825.72 168.21v14.18M825.72 224.92v7.09M825.72 253.28v7.09M829.26 68.97v7.09M829.26 154.03v14.18M829.26 182.39v14.18M829.26 274.54v7.09M832.8 146.94v7.09M832.8 196.57v7.09M836.33 111.5v7.09M836.33 232.01v7.09M839.87 83.14v7.09M839.87 139.86v7.09M839.87 203.66v7.09M839.87 260.37v7.09M846.95 132.77v7.09M846.95 210.74v7.09M846.95 281.63v7.09M850.48 61.88v7.09M850.48 104.41v7.09M850.48 168.21v14.18M850.48 239.1v7.09M854.02 161.12v7.09M854.02 182.39v7.09M857.56 154.03v7.09M857.56 189.48v7.09M861.1 125.68v7.09M861.1 217.83v7.09M889.4 125.68v7.09M889.4 217.83v7.09M892.94 154.03v7.09M892.94 189.48v7.09M896.48 161.12v7.09M896.48 182.39v7.09M900.02 104.41v7.09M900.02 168.21v14.18M900.02 239.1v7.09M903.55 61.88v7.09M903.55 132.77v7.09M903.55 210.74v7.09M907.09 281.63v7.09M910.63 83.14v7.09M910.63 139.86v7.09M910.63 203.66v7.09M910.63 260.37v7.09M914.17 111.5v7.09M914.17 232.01v7.09M917.7 146.94v7.09M917.7 196.57v7.09M921.24 68.97v7.09M921.24 154.03v14.18M921.24 182.39v14.18M924.78 90.23v7.09M924.78 118.59v7.09M924.78 168.21v14.18M924.78 224.92v7.09M924.78 253.28v7.09M924.78 274.54v7.09M931.86 125.68v7.09M931.86 217.83v7.09M935.39 76.06v7.09M935.39 97.32v7.09M935.39 132.77v7.09M935.39 210.74v7.09M935.39 246.19v7.09M938.93 139.86v7.09M938.93 203.66v7.09M938.93 267.46v7.09M942.47 104.41v7.09M942.47 146.94v7.09M942.47 196.57v7.09M942.47 239.1v7.09M946.01 83.14v7.09M946.01 154.03v42.53M949.55 111.5v7.09M949.55 232.01v7.09M949.55 260.37v7.09M953.08 90.23v7.09M953.08 118.59v7.09M953.08 224.92v7.09M956.62 253.28v7.09M960.16 97.32v7.09M960.16 125.68v7.09M960.16 217.83v7.09M963.7 132.77v14.18M963.7 203.66v14.18M963.7 246.19v7.09M967.23 104.41v7.09M967.23 146.94v7.09M967.23 196.57v7.09M967.23 239.1v7.09M970.77 154.03v42.53M974.31 111.5v7.09M974.31 232.01v7.09M977.85 118.59v7.09M977.85 224.92v7.09M981.39 125.68v7.09M981.39 217.83v7.09M984.92 132.77v14.18M984.92 210.74v7.09M988.46 146.94v14.18M988.46 168.21v7.09M988.46 182.39v28.36M992 161.12v7.09M992 175.3v7.09"/>
<path id="grid" d="M758.5 47.7v255.2M762.04 47.7v255.2M765.58 47.7v255.2M769.11 47.7v255.2M772.65 47.7v255.2M776.19 47.7v255.2M779.73 47.7v255.2M783.27 47.7v255.2M786.8 47.7v255.2M790.34 47.7v255.2M793.88 47.7v255.2M797.42 47.7v255.2M800.95 47.7v255.2M804.49 47.7v255.2M808.03 47.7v255.2M811.57 47.7v255.2M815.11 47.7v255.2M818.64 47.7v255.2M822.18 47.7v255.2M825.72 47.7v255.2M829.26 47.7v255.2M832.8 47.7v255.2M836.33 47.7v255.2M839.87 47.7v255.2M843.41 47.7v255.2M846.95 47.7v255.2M850.48 47.7v255.2M854.02 47.7v255.2M857.56 47.7v255.2M861.1 47.7v255.2M864.64 47.7v255.2M868.17 47.7v255.2M871.71 47.7v255.2M875.25 47.7v255.2M878.79 47.7v255.2M882.33 47.7v255.2M885.86 47.7v255.2M889.4 47.7v255.2M892.94 47.7v255.2M896.48 47.7v255.2M900.02 47.7v255.2M903.55 47.7v255.2M907.09 47.7v255.2M910.63 47.7v255.2M914.17 47.7v255.2M917.7 47.7v255.2M921.24 47.7v255.2M924.78 47.7v255.2M928.32 47.7v255.2M931.86 47.7v255.2M935.39 47.7v255.2M938.93 47.7v255.2M942.47 47.7v255.2M946.01 47.7v255.2M949.55 47.7v255.2M953.08 47.7v255.2M956.62 47.7v255.2M960.16 47.7v255.2M963.7 47.7v255.2M967.23 47.7v255.2M970.77 47.7v255.2M974.31 47.7v255.2M977.85 47.7v255.2M981.39 47.7v255.2M984.92 47.7v255.2M988.46 47.7v255.2M992 47.7v255.2M758.5 47.7h233.5M758.5 54.79h233.5M758.5 61.88h233.5M758.5 68.97h233.5M758.5 76.06h233.5M758.5 83.14h233.5M758.5 90.23h233.5M758.5 97.32h233.5M758.5 104.41h233.5M758.5 111.5h233.5M758.5 118.59h233.5M758.5 125.68h233.5M758.5 132.77h233.5M758.5 139.86h233.5M758.5 146.94h233.5M758.5 154.03h233.5M758.5 161.12h233.5M758.5 168.21h233.5M758.5 175.3h233.5M758.5 182.39h233.5M758.5 189.48h233.5M758.5 196.57h233.5M758.5 203.66h233.5M758.5 210.74h233.5M758.5 217.83h233.5M758.5 224.92h233.5M758.5 232.01h233.5M758.5 239.1h233.5M758.5 246.19h233.5M758.5 253.28h233.5M758.5 260.37h233.5M758.5 267.46h233.5M758.5 274.54h233.5M758.5 281.63h233.5M758.5 288.72h233.5M758.5 295.81h233.5M758.5 302.9h233.5"/>
<path id="ret" d="M822.18 47.7h21.23v28.36h-21.23zM843.41 47.7h21.23v28.36h-21.23zM864.64 47.7h21.23v28.36h-21.23zM885.86 47.7h21.23v28.36h-21.23zM907.09 47.7h21.23v28.36h-21.23zM779.73 76.06h21.23v28.36h-21.23zM800.95 76.06h21.23v28.36h-21.23zM822.18 76.06h21.23v28.36h-21.23zM843.41 76.06h21.23v28.36h-21.23zM864.64 76.06h21.23v28.36h-21.23zM885.86 76.06h21.23v28.36h-21.23zM907.09 76.06h21.23v28.36h-21.23zM928.32 76.06h21.23v28.36h-21.23zM949.55 76.06h21.23v28.36h-21.23zM758.5 104.41h21.23v28.36h-21.23zM779.73 104.41h21.23v28.36h-21.23zM800.95 104.41h21.23v28.36h-21.23zM822.18 104.41h21.23v28.36h-21.23zM843.41 104.41h21.23v28.36h-21.23zM864.64 104.41h21.23v28.36h-21.23zM885.86 104.41h21.23v28.36h-21.23zM907.09 104.41h21.23v28.36h-21.23zM928.32 104.41h21.23v28.36h-21.23zM949.55 104.41h21.23v28.36h-21.23zM970.77 104.41h21.23v28.36h-21.23zM758.5 132.77h21.23v28.36h-21.23zM779.73 132.77h21.23v28.36h-21.23zM800.95 132.77h21.23v28.36h-21.23zM822.18 132.77h21.23v28.36h-21.23zM843.41 132.77h21.23v28.36h-21.23zM864.64 132.77h21.23v28.36h-21.23zM885.86 132.77h21.23v28.36h-21.23zM907.09 132.77h21.23v28.36h-21.23zM928.32 132.77h21.23v28.36h-21.23zM949.55 132.77h21.23v28.36h-21.23zM970.77 132.77h21.23v28.36h-21.23zM758.5 161.12h21.23v28.36h-21.23zM779.73 161.12h21.23v28.36h-21.23zM800.95 161.12h21.23v28.36h-21.23zM822.18 161.12h21.23v28.36h-21.23zM843.41 161.12h21.23v28.36h-21.23zM864.64 161.12h21.23v28.36h-21.23zM885.86 161.12h21.23v28.36h-21.23zM907.09 161.12h21.23v28.36h-21.23zM928.32 161.12h21.23v28.36h-21.23zM949.55 161.12h21.23v28.36h-21.23zM970.77 161.12h21.23v28.36h-21.23zM758.5 189.48h21.23v28.36h-21.23zM779.73 189.48h21.23v28.36h-21.23zM800.95 189.48h21.23v28.36h-21.23zM822.18 189.48h21.23v28.36h-21.23zM843.41 189.48h21.23v28.36h-21.23zM864.64 189.48h21.23v28.36h-21.23zM885.86 189.48h21.23v28.36h-21.23zM907.09 189.48h21.23v28.36h-21.23zM928.32 189.48h21.23v28.36h-21.23zM949.55 189.48h21.23v28.36h-21.23zM970.77 189.48h21.23v28.36h-21.23zM758.5 217.83h21.23v28.36h-21.23zM779.73 217.83h21.23v28.36h-21.23zM800.95 217.83h21.23v28.36h-21.23zM822.18 217.83h21.23v28.36h-21.23zM843.41 217.83h21.23v28.36h-21.23zM864.64 217.83h21.23v28.36h-21.23zM885.86 217.83h21.23v28.36h-21.23zM907.09 217.83h21.23v28.36h-21.23zM928.32 217.83h21.23v28.36h-21.23zM949.55 217.83h21.23v28.36h-21.23zM970.77 217.83h21.23v28.36h-21.23zM779.73 246.19h21.23v28.36h-21.23zM800.95 246.19h21.23v28.36h-21.23zM822.18 246.19h21.23v28.36h-21.23zM843.41 246.19h21.23v28.36h-21.23zM864.64 246.19h21.23v28.36h-21.23zM885.86 246.19h21.23v28.36h-21.23zM907.09 246.19h21.23v28.36h-21.23zM928.32 246.19h21.23v28.36h-21.23zM949.55 246.19h21.23v28.36h-21.23zM822.18 274.54h21.23v28.36h-21.23zM843.41 274.54h21.23v28.36h-21.23zM864.64 274.54h21.23v28.36h-21.23zM885.86 274.54h21.23v28.36h-21.23zM907.09 274.54h21.23v28.36h-21.23z"/>
<path id="part" d="M846.95 54.79h60.14v7.09h-60.14zM825.72 61.88h24.77v7.09h-24.77zM903.55 61.88h24.77v7.09h-24.77zM815.11 68.97h14.15v7.09h-14.15zM921.24 68.97h17.69v7.09h-17.69zM804.49 76.06h14.15v7.09h-14.15zM935.39 76.06h14.15v7.09h-14.15zM793.88 83.14h14.15v7.09h-14.15zM946.01 83.14h14.15v7.09h-14.15zM786.8 90.23h10.61v7.09h-10.61zM953.08 90.23h14.15v7.09h-14.15zM783.27 97.32h7.08v7.09h-7.08zM960.16 97.32h10.61v7.09h-10.61zM776.19 104.41h10.61v7.09h-10.61zM967.23 104.41h10.61v7.09h-10.61zM772.65 111.5h7.08v7.09h-7.08zM974.31 111.5h7.08v7.09h-7.08zM769.11 118.59h7.08v7.09h-7.08zM977.85 118.59h7.08v7.09h-7.08zM765.58 125.68h7.08v7.09h-7.08zM981.39 125.68h7.08v7.09h-7.08zM762.04 132.77h7.08v7.09h-7.08zM984.92 132.77h3.54v7.09h-3.54zM762.04 139.86h3.54v7.09h-3.54zM984.92 139.86h7.08v7.09h-7.08zM758.5 146.94h7.08v7.09h-7.08zM988.46 146.94h3.54v7.09h-3.54zM758.5 154.03h3.54v7.09h-3.54zM988.46 154.03h3.54v7.09h-3.54zM758.5 161.12h3.54v7.09h-3.54zM758.5 168.21h3.54v7.09h-3.54zM758.5 175.3h3.54v7.09h-3.54zM758.5 182.39h3.54v7.09h-3.54zM758.5 189.48h3.54v7.09h-3.54zM758.5 196.57h7.08v7.09h-7.08zM988.46 196.57h3.54v7.09h-3.54zM762.04 203.66h3.54v7.09h-3.54zM988.46 203.66h3.54v7.09h-3.54zM762.04 210.74h7.08v7.09h-7.08zM984.92 210.74h7.08v7.09h-7.08zM765.58 217.83h7.08v7.09h-7.08zM981.39 217.83h7.08v7.09h-7.08zM769.11 224.92h7.08v7.09h-7.08zM977.85 224.92h7.08v7.09h-7.08zM772.65 232.01h7.08v7.09h-7.08zM974.31 232.01h7.08v7.09h-7.08zM776.19 239.1h7.08v7.09h-7.08zM967.23 239.1h10.61v7.09h-10.61zM779.73 246.19h10.61v7.09h-10.61zM963.7 246.19h7.08v7.09h-7.08zM786.8 253.28h10.61v7.09h-10.61zM956.62 253.28h10.61v7.09h-10.61zM793.88 260.37h10.61v7.09h-10.61zM949.55 260.37h10.61v7.09h-10.61zM800.95 267.46h14.15v7.09h-14.15zM938.93 267.46h14.15v7.09h-14.15zM811.57 274.54h17.69v7.09h-17.69zM924.78 274.54h17.69v7.09h-17.69zM825.72 281.63h21.23v7.09h-21.23zM907.09 281.63h21.23v7.09h-21.23zM843.41 288.72h67.22v7.09h-67.22z"/>
<path id="notch" d="M874.5 293.5 L876.7 291 L878.9 293.5"/>
</defs>
<g>
<use href="#ret" fill="none" stroke="#8c8c8c" stroke-width="1"/>
<circle cx="876.7" cy="175.9" r="117.3" fill="#fff"/>
<g clip-path="url(#cw)"><use href="#part" fill="#fff" stroke="#000" stroke-width="0.9"/></g>
<path d="M857.56 154.03h35.38v7.09h-35.38zM854.02 161.12h42.45v7.09h-42.45zM850.48 168.21h49.53v7.09h-49.53zM850.48 175.3h49.53v7.09h-49.53zM854.02 182.39h42.45v7.09h-42.45zM857.56 189.48h35.38v7.09h-35.38z" fill="#2a6ee0"/>
<path d="M861.1 125.68h28.3v7.09h-28.3zM846.95 132.77h56.61v7.09h-56.61zM839.87 139.86h70.76v7.09h-70.76zM832.8 146.94h84.91v7.09h-84.91zM829.26 154.03h28.3v7.09h-28.3zM892.94 154.03h28.3v7.09h-28.3zM829.26 161.12h24.77v7.09h-24.77zM896.48 161.12h24.77v7.09h-24.77zM825.72 168.21h24.77v7.09h-24.77zM900.02 168.21h24.77v7.09h-24.77zM825.72 175.3h24.77v7.09h-24.77zM900.02 175.3h24.77v7.09h-24.77zM829.26 182.39h24.77v7.09h-24.77zM896.48 182.39h24.77v7.09h-24.77zM829.26 189.48h28.3v7.09h-28.3zM892.94 189.48h28.3v7.09h-28.3zM832.8 196.57h84.91v7.09h-84.91zM839.87 203.66h70.76v7.09h-70.76zM846.95 210.74h56.61v7.09h-56.61zM861.1 217.83h28.3v7.09h-28.3z" fill="#d62f47"/>
<path d="M850.48 104.41h49.53v7.09h-49.53zM836.33 111.5h77.83v7.09h-77.83zM825.72 118.59h99.06v7.09h-99.06zM818.64 125.68h42.45v7.09h-42.45zM889.4 125.68h42.45v7.09h-42.45zM815.11 132.77h31.84v7.09h-31.84zM903.55 132.77h31.84v7.09h-31.84zM811.57 139.86h28.3v7.09h-28.3zM910.63 139.86h28.3v7.09h-28.3zM808.03 146.94h24.77v7.09h-24.77zM917.7 146.94h24.77v7.09h-24.77zM804.49 154.03h24.77v7.09h-24.77zM921.24 154.03h24.77v7.09h-24.77zM804.49 161.12h24.77v7.09h-24.77zM921.24 161.12h24.77v7.09h-24.77zM804.49 168.21h21.23v7.09h-21.23zM924.78 168.21h21.23v7.09h-21.23zM804.49 175.3h21.23v7.09h-21.23zM924.78 175.3h21.23v7.09h-21.23zM804.49 182.39h24.77v7.09h-24.77zM921.24 182.39h24.77v7.09h-24.77zM804.49 189.48h24.77v7.09h-24.77zM921.24 189.48h24.77v7.09h-24.77zM808.03 196.57h24.77v7.09h-24.77zM917.7 196.57h24.77v7.09h-24.77zM811.57 203.66h28.3v7.09h-28.3zM910.63 203.66h28.3v7.09h-28.3zM815.11 210.74h31.84v7.09h-31.84zM903.55 210.74h31.84v7.09h-31.84zM818.64 217.83h42.45v7.09h-42.45zM889.4 217.83h42.45v7.09h-42.45zM825.72 224.92h99.06v7.09h-99.06zM836.33 232.01h77.83v7.09h-77.83zM850.48 239.1h49.53v7.09h-49.53z" fill="#22a833"/>
<path d="M839.87 83.14h70.76v7.09h-70.76zM825.72 90.23h99.06v7.09h-99.06zM815.11 97.32h120.29v7.09h-120.29zM808.03 104.41h42.45v7.09h-42.45zM900.02 104.41h42.45v7.09h-42.45zM800.95 111.5h35.38v7.09h-35.38zM914.17 111.5h35.38v7.09h-35.38zM797.42 118.59h28.3v7.09h-28.3zM924.78 118.59h28.3v7.09h-28.3zM790.34 125.68h28.3v7.09h-28.3zM931.86 125.68h28.3v7.09h-28.3zM786.8 132.77h28.3v7.09h-28.3zM935.39 132.77h28.3v7.09h-28.3zM786.8 139.86h24.77v7.09h-24.77zM938.93 139.86h24.77v7.09h-24.77zM783.27 146.94h24.77v7.09h-24.77zM942.47 146.94h24.77v7.09h-24.77zM779.73 154.03h24.77v7.09h-24.77zM946.01 154.03h24.77v7.09h-24.77zM779.73 161.12h24.77v7.09h-24.77zM946.01 161.12h24.77v7.09h-24.77zM779.73 168.21h24.77v7.09h-24.77zM946.01 168.21h24.77v7.09h-24.77zM779.73 175.3h24.77v7.09h-24.77zM946.01 175.3h24.77v7.09h-24.77zM779.73 182.39h24.77v7.09h-24.77zM946.01 182.39h24.77v7.09h-24.77zM779.73 189.48h24.77v7.09h-24.77zM946.01 189.48h24.77v7.09h-24.77zM783.27 196.57h24.77v7.09h-24.77zM942.47 196.57h24.77v7.09h-24.77zM786.8 203.66h24.77v7.09h-24.77zM938.93 203.66h24.77v7.09h-24.77zM786.8 210.74h28.3v7.09h-28.3zM935.39 210.74h28.3v7.09h-28.3zM790.34 217.83h28.3v7.09h-28.3zM931.86 217.83h28.3v7.09h-28.3zM797.42 224.92h28.3v7.09h-28.3zM924.78 224.92h28.3v7.09h-28.3zM800.95 232.01h35.38v7.09h-35.38zM914.17 232.01h35.38v7.09h-35.38zM808.03 239.1h42.45v7.09h-42.45zM900.02 239.1h42.45v7.09h-42.45zM815.11 246.19h120.29v7.09h-120.29zM825.72 253.28h99.06v7.09h-99.06zM839.87 260.37h70.76v7.09h-70.76z" fill="#a85a10"/>
<path d="M850.48 61.88h53.07v7.09h-53.07zM829.26 68.97h91.98v7.09h-91.98zM818.64 76.06h116.75v7.09h-116.75zM808.03 83.14h31.84v7.09h-31.84zM910.63 83.14h35.38v7.09h-35.38zM797.42 90.23h28.3v7.09h-28.3zM924.78 90.23h28.3v7.09h-28.3zM790.34 97.32h24.77v7.09h-24.77zM935.39 97.32h24.77v7.09h-24.77zM786.8 104.41h21.23v7.09h-21.23zM942.47 104.41h24.77v7.09h-24.77zM779.73 111.5h21.23v7.09h-21.23zM949.55 111.5h24.77v7.09h-24.77zM776.19 118.59h21.23v7.09h-21.23zM953.08 118.59h24.77v7.09h-24.77zM772.65 125.68h17.69v7.09h-17.69zM960.16 125.68h21.23v7.09h-21.23zM769.11 132.77h17.69v7.09h-17.69zM963.7 132.77h21.23v7.09h-21.23zM765.58 139.86h21.23v7.09h-21.23zM963.7 139.86h21.23v7.09h-21.23zM765.58 146.94h17.69v7.09h-17.69zM967.23 146.94h21.23v7.09h-21.23zM762.04 154.03h17.69v7.09h-17.69zM970.77 154.03h17.69v7.09h-17.69zM762.04 161.12h17.69v7.09h-17.69zM970.77 161.12h21.23v7.09h-21.23zM762.04 168.21h17.69v7.09h-17.69zM970.77 168.21h17.69v7.09h-17.69zM762.04 175.3h17.69v7.09h-17.69zM970.77 175.3h21.23v7.09h-21.23zM762.04 182.39h17.69v7.09h-17.69zM970.77 182.39h17.69v7.09h-17.69zM762.04 189.48h17.69v7.09h-17.69zM970.77 189.48h17.69v7.09h-17.69zM765.58 196.57h17.69v7.09h-17.69zM967.23 196.57h21.23v7.09h-21.23zM765.58 203.66h21.23v7.09h-21.23zM963.7 203.66h24.77v7.09h-24.77zM769.11 210.74h17.69v7.09h-17.69zM963.7 210.74h21.23v7.09h-21.23zM772.65 217.83h17.69v7.09h-17.69zM960.16 217.83h21.23v7.09h-21.23zM776.19 224.92h21.23v7.09h-21.23zM953.08 224.92h24.77v7.09h-24.77zM779.73 232.01h21.23v7.09h-21.23zM949.55 232.01h24.77v7.09h-24.77zM783.27 239.1h24.77v7.09h-24.77zM942.47 239.1h24.77v7.09h-24.77zM790.34 246.19h24.77v7.09h-24.77zM935.39 246.19h28.3v7.09h-28.3zM797.42 253.28h28.3v7.09h-28.3zM924.78 253.28h31.84v7.09h-31.84zM804.49 260.37h35.38v7.09h-35.38zM910.63 260.37h38.92v7.09h-38.92zM815.11 267.46h123.83v7.09h-123.83zM829.26 274.54h95.52v7.09h-95.52zM846.95 281.63h60.14v7.09h-60.14z" fill="#7b10b8"/>
<g clip-path="url(#cd)"><use href="#grid" fill="none" stroke="#bcbcbc" stroke-opacity="0.70" stroke-width="1.15"/><use href="#ret" fill="none" stroke="#303030" stroke-opacity="0.25" stroke-width="0.9"/></g>
<use href="#outl" fill="none" stroke="#000" stroke-width="2" stroke-linecap="square"/>
<circle cx="876.7" cy="175.9" r="117.3" fill="none" stroke="#222" stroke-width="1.1"/>
<use href="#notch" fill="#fff" stroke="#333" stroke-width="0.9"/>
</g>
<g transform="translate(-0.4 319.35) translate(758.5 47.7) scale(1 1.0033) translate(-758.5 -47.7)">
<use href="#ret" fill="none" stroke="#9a3fd0" stroke-width="1"/>
<circle cx="876.7" cy="175.9" r="117.3" fill="#fff"/>
<g clip-path="url(#cw)"><use href="#part" fill="#ececec" stroke="#000" stroke-width="0.9"/></g>
<path d="M815.11 111.5h3.54v7.09h-3.54zM815.11 118.59h3.54v7.09h-3.54zM804.49 125.68h3.54v7.09h-3.54zM815.11 125.68h3.54v7.09h-3.54zM797.42 139.86h10.61v7.09h-10.61zM811.57 139.86h3.54v7.09h-3.54zM818.64 139.86h3.54v7.09h-3.54zM800.95 146.94h3.54v7.09h-3.54zM808.03 146.94h10.61v7.09h-10.61zM793.88 154.03h14.15v7.09h-14.15zM811.57 154.03h3.54v7.09h-3.54zM793.88 161.12h7.08v7.09h-7.08zM808.03 161.12h7.08v7.09h-7.08zM793.88 168.21h7.08v7.09h-7.08zM811.57 168.21h3.54v7.09h-3.54zM804.49 175.3h10.61v7.09h-10.61zM790.34 182.39h10.61v7.09h-10.61zM804.49 182.39h10.61v7.09h-10.61zM797.42 189.48h3.54v7.09h-3.54zM804.49 189.48h7.08v7.09h-7.08zM808.03 196.57h3.54v7.09h-3.54zM818.64 196.57h3.54v7.09h-3.54zM800.95 203.66h7.08v7.09h-7.08zM811.57 203.66h7.08v7.09h-7.08zM800.95 210.74h17.69v7.09h-17.69zM815.11 217.83h3.54v7.09h-3.54zM808.03 224.92h7.08v7.09h-7.08zM822.18 224.92h3.54v7.09h-3.54zM829.26 224.92h3.54v7.09h-3.54zM815.11 232.01h3.54v7.09h-3.54zM822.18 232.01h3.54v7.09h-3.54zM829.26 239.1h3.54v7.09h-3.54zM836.33 239.1h3.54v7.09h-3.54zM850.48 239.1h3.54v7.09h-3.54zM846.95 246.19h3.54v7.09h-3.54z" fill="#0bf400"/>
<path d="M822.18 104.41h10.61v7.09h-10.61zM822.18 111.5h3.54v7.09h-3.54zM804.49 118.59h3.54v7.09h-3.54zM818.64 118.59h3.54v7.09h-3.54zM829.26 118.59h3.54v7.09h-3.54zM825.72 125.68h3.54v7.09h-3.54zM797.42 132.77h3.54v7.09h-3.54zM822.18 139.86h3.54v7.09h-3.54zM804.49 146.94h3.54v7.09h-3.54zM786.8 168.21h3.54v7.09h-3.54zM808.03 168.21h3.54v7.09h-3.54zM790.34 175.3h3.54v7.09h-3.54zM818.64 189.48h3.54v7.09h-3.54zM790.34 196.57h3.54v7.09h-3.54zM797.42 196.57h3.54v7.09h-3.54zM808.03 203.66h3.54v7.09h-3.54zM818.64 203.66h7.08v7.09h-7.08zM800.95 217.83h3.54v7.09h-3.54zM829.26 217.83h3.54v7.09h-3.54zM818.64 224.92h3.54v7.09h-3.54zM825.72 232.01h3.54v7.09h-3.54zM843.41 232.01h3.54v7.09h-3.54zM822.18 239.1h3.54v7.09h-3.54zM839.87 246.19h3.54v7.09h-3.54zM878.79 246.19h3.54v7.09h-3.54zM854.02 253.28h3.54v7.09h-3.54z" fill="#21f500"/>
<path d="M839.87 90.23h10.61v7.09h-10.61zM854.02 90.23h7.08v7.09h-7.08zM832.8 97.32h3.54v7.09h-3.54zM868.17 97.32h3.54v7.09h-3.54zM839.87 104.41h3.54v7.09h-3.54zM825.72 111.5h3.54v7.09h-3.54zM811.57 118.59h3.54v7.09h-3.54zM797.42 125.68h7.08v7.09h-7.08zM811.57 125.68h3.54v7.09h-3.54zM818.64 125.68h3.54v7.09h-3.54zM800.95 132.77h7.08v7.09h-7.08zM811.57 132.77h3.54v7.09h-3.54zM822.18 132.77h3.54v7.09h-3.54zM815.11 139.86h3.54v7.09h-3.54zM790.34 146.94h3.54v7.09h-3.54zM797.42 146.94h3.54v7.09h-3.54zM790.34 154.03h3.54v7.09h-3.54zM790.34 161.12h3.54v7.09h-3.54zM804.49 161.12h3.54v7.09h-3.54zM800.95 168.21h7.08v7.09h-7.08zM800.95 182.39h3.54v7.09h-3.54zM822.18 182.39h3.54v7.09h-3.54zM793.88 189.48h3.54v7.09h-3.54zM800.95 189.48h3.54v7.09h-3.54zM822.18 189.48h3.54v7.09h-3.54zM811.57 196.57h3.54v7.09h-3.54zM793.88 203.66h3.54v7.09h-3.54zM797.42 210.74h3.54v7.09h-3.54zM832.8 217.83h10.61v7.09h-10.61zM800.95 224.92h3.54v7.09h-3.54zM815.11 224.92h3.54v7.09h-3.54zM825.72 224.92h3.54v7.09h-3.54zM804.49 232.01h3.54v7.09h-3.54zM839.87 232.01h3.54v7.09h-3.54zM850.48 232.01h3.54v7.09h-3.54zM818.64 239.1h3.54v7.09h-3.54zM832.8 239.1h3.54v7.09h-3.54zM846.95 239.1h3.54v7.09h-3.54zM836.33 246.19h3.54v7.09h-3.54zM843.41 246.19h3.54v7.09h-3.54zM854.02 246.19h3.54v7.09h-3.54zM861.1 246.19h10.61v7.09h-10.61zM875.25 246.19h3.54v7.09h-3.54zM885.86 253.28h3.54v7.09h-3.54zM892.94 253.28h3.54v7.09h-3.54z" fill="#37f600"/>
<path d="M857.56 83.14h3.54v7.09h-3.54zM836.33 90.23h3.54v7.09h-3.54zM850.48 90.23h3.54v7.09h-3.54zM861.1 90.23h7.08v7.09h-7.08zM871.71 90.23h3.54v7.09h-3.54zM829.26 97.32h3.54v7.09h-3.54zM857.56 97.32h3.54v7.09h-3.54zM871.71 97.32h3.54v7.09h-3.54zM861.1 104.41h7.08v7.09h-7.08zM818.64 111.5h3.54v7.09h-3.54zM832.8 111.5h7.08v7.09h-7.08zM808.03 118.59h3.54v7.09h-3.54zM822.18 118.59h7.08v7.09h-7.08zM808.03 125.68h3.54v7.09h-3.54zM793.88 132.77h3.54v7.09h-3.54zM808.03 132.77h3.54v7.09h-3.54zM815.11 132.77h3.54v7.09h-3.54zM825.72 132.77h3.54v7.09h-3.54zM793.88 139.86h3.54v7.09h-3.54zM808.03 139.86h3.54v7.09h-3.54zM825.72 139.86h3.54v7.09h-3.54zM822.18 146.94h3.54v7.09h-3.54zM786.8 154.03h3.54v7.09h-3.54zM808.03 154.03h3.54v7.09h-3.54zM815.11 154.03h3.54v7.09h-3.54zM800.95 161.12h3.54v7.09h-3.54zM815.11 161.12h3.54v7.09h-3.54zM815.11 168.21h7.08v7.09h-7.08zM783.27 175.3h7.08v7.09h-7.08zM793.88 175.3h10.61v7.09h-10.61zM815.11 175.3h3.54v7.09h-3.54zM818.64 182.39h3.54v7.09h-3.54zM825.72 182.39h3.54v7.09h-3.54zM790.34 189.48h3.54v7.09h-3.54zM811.57 189.48h3.54v7.09h-3.54zM800.95 196.57h7.08v7.09h-7.08zM822.18 196.57h3.54v7.09h-3.54zM829.26 196.57h3.54v7.09h-3.54zM790.34 203.66h3.54v7.09h-3.54zM797.42 203.66h3.54v7.09h-3.54zM825.72 203.66h7.08v7.09h-7.08zM818.64 210.74h7.08v7.09h-7.08zM832.8 210.74h3.54v7.09h-3.54zM804.49 217.83h10.61v7.09h-10.61zM818.64 217.83h7.08v7.09h-7.08zM811.57 232.01h3.54v7.09h-3.54zM832.8 232.01h7.08v7.09h-7.08zM854.02 232.01h3.54v7.09h-3.54zM861.1 232.01h3.54v7.09h-3.54zM839.87 239.1h3.54v7.09h-3.54zM854.02 239.1h3.54v7.09h-3.54zM900.02 239.1h3.54v7.09h-3.54zM910.63 239.1h3.54v7.09h-3.54zM921.24 239.1h3.54v7.09h-3.54zM822.18 246.19h3.54v7.09h-3.54zM832.8 246.19h3.54v7.09h-3.54zM871.71 246.19h3.54v7.09h-3.54zM885.86 246.19h10.61v7.09h-10.61zM861.1 253.28h3.54v7.09h-3.54zM868.17 253.28h3.54v7.09h-3.54zM878.79 253.28h7.08v7.09h-7.08zM900.02 253.28h3.54v7.09h-3.54zM839.87 260.37h3.54v7.09h-3.54zM857.56 260.37h3.54v7.09h-3.54zM871.71 260.37h3.54v7.09h-3.54z" fill="#4df700"/>
<path d="M829.26 90.23h3.54v7.09h-3.54zM868.17 90.23h3.54v7.09h-3.54zM882.33 90.23h7.08v7.09h-7.08zM896.48 90.23h3.54v7.09h-3.54zM864.64 97.32h3.54v7.09h-3.54zM875.25 97.32h7.08v7.09h-7.08zM854.02 104.41h3.54v7.09h-3.54zM808.03 111.5h3.54v7.09h-3.54zM829.26 111.5h3.54v7.09h-3.54zM843.41 118.59h3.54v7.09h-3.54zM850.48 118.59h3.54v7.09h-3.54zM822.18 125.68h3.54v7.09h-3.54zM832.8 125.68h3.54v7.09h-3.54zM818.64 132.77h3.54v7.09h-3.54zM832.8 132.77h3.54v7.09h-3.54zM786.8 146.94h3.54v7.09h-3.54zM793.88 146.94h3.54v7.09h-3.54zM829.26 146.94h3.54v7.09h-3.54zM818.64 154.03h3.54v7.09h-3.54zM825.72 154.03h3.54v7.09h-3.54zM818.64 161.12h7.08v7.09h-7.08zM790.34 168.21h3.54v7.09h-3.54zM818.64 175.3h7.08v7.09h-7.08zM786.8 182.39h3.54v7.09h-3.54zM815.11 182.39h3.54v7.09h-3.54zM815.11 189.48h3.54v7.09h-3.54zM825.72 189.48h3.54v7.09h-3.54zM793.88 196.57h3.54v7.09h-3.54zM815.11 196.57h3.54v7.09h-3.54zM839.87 203.66h3.54v7.09h-3.54zM793.88 210.74h3.54v7.09h-3.54zM793.88 217.83h7.08v7.09h-7.08zM825.72 217.83h3.54v7.09h-3.54zM832.8 224.92h7.08v7.09h-7.08zM846.95 224.92h3.54v7.09h-3.54zM921.24 224.92h3.54v7.09h-3.54zM818.64 232.01h3.54v7.09h-3.54zM829.26 232.01h3.54v7.09h-3.54zM846.95 232.01h3.54v7.09h-3.54zM857.56 232.01h3.54v7.09h-3.54zM917.7 232.01h3.54v7.09h-3.54zM815.11 239.1h3.54v7.09h-3.54zM825.72 239.1h3.54v7.09h-3.54zM843.41 239.1h3.54v7.09h-3.54zM857.56 239.1h3.54v7.09h-3.54zM864.64 239.1h3.54v7.09h-3.54zM878.79 239.1h3.54v7.09h-3.54zM885.86 239.1h3.54v7.09h-3.54zM892.94 239.1h3.54v7.09h-3.54zM907.09 239.1h3.54v7.09h-3.54zM914.17 239.1h3.54v7.09h-3.54zM825.72 246.19h7.08v7.09h-7.08zM850.48 246.19h3.54v7.09h-3.54zM896.48 246.19h7.08v7.09h-7.08zM910.63 246.19h3.54v7.09h-3.54zM921.24 246.19h3.54v7.09h-3.54zM825.72 253.28h3.54v7.09h-3.54zM832.8 253.28h3.54v7.09h-3.54zM839.87 253.28h3.54v7.09h-3.54zM846.95 253.28h7.08v7.09h-7.08zM857.56 253.28h3.54v7.09h-3.54zM864.64 253.28h3.54v7.09h-3.54zM875.25 253.28h3.54v7.09h-3.54zM889.4 253.28h3.54v7.09h-3.54zM896.48 253.28h3.54v7.09h-3.54zM850.48 260.37h3.54v7.09h-3.54zM861.1 260.37h7.08v7.09h-7.08zM875.25 260.37h7.08v7.09h-7.08zM889.4 260.37h3.54v7.09h-3.54z" fill="#63f800"/>
<path d="M843.41 83.14h10.61v7.09h-10.61zM861.1 83.14h3.54v7.09h-3.54zM878.79 83.14h3.54v7.09h-3.54zM889.4 90.23h7.08v7.09h-7.08zM822.18 97.32h3.54v7.09h-3.54zM836.33 97.32h3.54v7.09h-3.54zM843.41 97.32h7.08v7.09h-7.08zM854.02 97.32h3.54v7.09h-3.54zM861.1 97.32h3.54v7.09h-3.54zM889.4 97.32h3.54v7.09h-3.54zM907.09 97.32h10.61v7.09h-10.61zM811.57 104.41h3.54v7.09h-3.54zM818.64 104.41h3.54v7.09h-3.54zM832.8 104.41h7.08v7.09h-7.08zM843.41 104.41h3.54v7.09h-3.54zM850.48 104.41h3.54v7.09h-3.54zM857.56 104.41h3.54v7.09h-3.54zM892.94 104.41h14.15v7.09h-14.15zM910.63 104.41h3.54v7.09h-3.54zM917.7 104.41h3.54v7.09h-3.54zM804.49 111.5h3.54v7.09h-3.54zM811.57 111.5h3.54v7.09h-3.54zM839.87 111.5h3.54v7.09h-3.54zM846.95 111.5h3.54v7.09h-3.54zM907.09 111.5h3.54v7.09h-3.54zM914.17 111.5h3.54v7.09h-3.54zM921.24 111.5h3.54v7.09h-3.54zM800.95 118.59h3.54v7.09h-3.54zM846.95 118.59h3.54v7.09h-3.54zM921.24 118.59h3.54v7.09h-3.54zM928.32 118.59h3.54v7.09h-3.54zM829.26 125.68h3.54v7.09h-3.54zM836.33 125.68h3.54v7.09h-3.54zM790.34 132.77h3.54v7.09h-3.54zM938.93 132.77h3.54v7.09h-3.54zM790.34 139.86h3.54v7.09h-3.54zM946.01 139.86h3.54v7.09h-3.54zM818.64 146.94h3.54v7.09h-3.54zM786.8 161.12h3.54v7.09h-3.54zM825.72 168.21h3.54v7.09h-3.54zM825.72 175.3h3.54v7.09h-3.54zM786.8 189.48h3.54v7.09h-3.54zM836.33 189.48h3.54v7.09h-3.54zM949.55 189.48h3.54v7.09h-3.54zM825.72 196.57h3.54v7.09h-3.54zM836.33 196.57h3.54v7.09h-3.54zM832.8 203.66h3.54v7.09h-3.54zM935.39 203.66h3.54v7.09h-3.54zM942.47 203.66h3.54v7.09h-3.54zM825.72 210.74h7.08v7.09h-7.08zM836.33 210.74h7.08v7.09h-7.08zM921.24 217.83h3.54v7.09h-3.54zM804.49 224.92h3.54v7.09h-3.54zM839.87 224.92h7.08v7.09h-7.08zM850.48 224.92h7.08v7.09h-7.08zM861.1 224.92h3.54v7.09h-3.54zM868.17 224.92h3.54v7.09h-3.54zM917.7 224.92h3.54v7.09h-3.54zM935.39 224.92h3.54v7.09h-3.54zM808.03 232.01h3.54v7.09h-3.54zM864.64 232.01h3.54v7.09h-3.54zM885.86 232.01h3.54v7.09h-3.54zM914.17 232.01h3.54v7.09h-3.54zM808.03 239.1h7.08v7.09h-7.08zM861.1 239.1h3.54v7.09h-3.54zM868.17 239.1h3.54v7.09h-3.54zM875.25 239.1h3.54v7.09h-3.54zM917.7 239.1h3.54v7.09h-3.54zM924.78 239.1h3.54v7.09h-3.54zM857.56 246.19h3.54v7.09h-3.54zM882.33 246.19h3.54v7.09h-3.54zM836.33 253.28h3.54v7.09h-3.54zM843.41 253.28h3.54v7.09h-3.54zM871.71 253.28h3.54v7.09h-3.54zM903.55 253.28h3.54v7.09h-3.54zM917.7 253.28h3.54v7.09h-3.54zM846.95 260.37h3.54v7.09h-3.54zM868.17 260.37h3.54v7.09h-3.54zM882.33 260.37h3.54v7.09h-3.54zM875.25 267.46h3.54v7.09h-3.54z" fill="#79f900"/>
<path d="M871.71 76.06h3.54v7.09h-3.54zM864.64 83.14h3.54v7.09h-3.54zM882.33 83.14h7.08v7.09h-7.08zM896.48 83.14h3.54v7.09h-3.54zM832.8 90.23h3.54v7.09h-3.54zM878.79 90.23h3.54v7.09h-3.54zM914.17 90.23h3.54v7.09h-3.54zM825.72 97.32h3.54v7.09h-3.54zM839.87 97.32h3.54v7.09h-3.54zM850.48 97.32h3.54v7.09h-3.54zM882.33 97.32h3.54v7.09h-3.54zM903.55 97.32h3.54v7.09h-3.54zM917.7 97.32h3.54v7.09h-3.54zM815.11 104.41h3.54v7.09h-3.54zM846.95 104.41h3.54v7.09h-3.54zM875.25 104.41h3.54v7.09h-3.54zM882.33 104.41h3.54v7.09h-3.54zM914.17 104.41h3.54v7.09h-3.54zM924.78 104.41h3.54v7.09h-3.54zM843.41 111.5h3.54v7.09h-3.54zM850.48 111.5h10.61v7.09h-10.61zM903.55 111.5h3.54v7.09h-3.54zM910.63 111.5h3.54v7.09h-3.54zM917.7 111.5h3.54v7.09h-3.54zM832.8 118.59h7.08v7.09h-7.08zM793.88 125.68h3.54v7.09h-3.54zM843.41 125.68h3.54v7.09h-3.54zM928.32 125.68h3.54v7.09h-3.54zM935.39 125.68h3.54v7.09h-3.54zM829.26 139.86h3.54v7.09h-3.54zM935.39 139.86h3.54v7.09h-3.54zM949.55 139.86h3.54v7.09h-3.54zM942.47 146.94h10.61v7.09h-10.61zM822.18 154.03h3.54v7.09h-3.54zM935.39 154.03h3.54v7.09h-3.54zM825.72 161.12h3.54v7.09h-3.54zM938.93 161.12h7.08v7.09h-7.08zM822.18 168.21h3.54v7.09h-3.54zM938.93 175.3h3.54v7.09h-3.54zM946.01 175.3h7.08v7.09h-7.08zM829.26 182.39h3.54v7.09h-3.54zM839.87 182.39h3.54v7.09h-3.54zM942.47 182.39h3.54v7.09h-3.54zM829.26 189.48h7.08v7.09h-7.08zM938.93 189.48h7.08v7.09h-7.08zM786.8 196.57h3.54v7.09h-3.54zM843.41 196.57h3.54v7.09h-3.54zM942.47 196.57h3.54v7.09h-3.54zM836.33 203.66h3.54v7.09h-3.54zM850.48 203.66h3.54v7.09h-3.54zM931.86 203.66h3.54v7.09h-3.54zM790.34 210.74h3.54v7.09h-3.54zM846.95 210.74h7.08v7.09h-7.08zM946.01 210.74h3.54v7.09h-3.54zM861.1 217.83h10.61v7.09h-10.61zM924.78 217.83h7.08v7.09h-7.08zM935.39 217.83h3.54v7.09h-3.54zM914.17 224.92h3.54v7.09h-3.54zM875.25 232.01h3.54v7.09h-3.54zM892.94 232.01h3.54v7.09h-3.54zM903.55 232.01h7.08v7.09h-7.08zM871.71 239.1h3.54v7.09h-3.54zM889.4 239.1h3.54v7.09h-3.54zM896.48 239.1h3.54v7.09h-3.54zM928.32 239.1h3.54v7.09h-3.54zM815.11 246.19h3.54v7.09h-3.54zM903.55 246.19h7.08v7.09h-7.08zM829.26 253.28h3.54v7.09h-3.54zM907.09 253.28h3.54v7.09h-3.54zM843.41 260.37h3.54v7.09h-3.54zM854.02 260.37h3.54v7.09h-3.54zM896.48 260.37h3.54v7.09h-3.54zM903.55 260.37h3.54v7.09h-3.54zM882.33 267.46h3.54v7.09h-3.54zM889.4 267.46h3.54v7.09h-3.54z" fill="#8efa00"/>
<path d="M864.64 76.06h3.54v7.09h-3.54zM868.17 83.14h10.61v7.09h-10.61zM900.02 83.14h7.08v7.09h-7.08zM825.72 90.23h3.54v7.09h-3.54zM875.25 90.23h3.54v7.09h-3.54zM907.09 90.23h3.54v7.09h-3.54zM917.7 90.23h3.54v7.09h-3.54zM815.11 97.32h7.08v7.09h-7.08zM871.71 104.41h3.54v7.09h-3.54zM907.09 104.41h3.54v7.09h-3.54zM864.64 111.5h3.54v7.09h-3.54zM889.4 111.5h3.54v7.09h-3.54zM935.39 111.5h3.54v7.09h-3.54zM797.42 118.59h3.54v7.09h-3.54zM839.87 118.59h3.54v7.09h-3.54zM857.56 118.59h7.08v7.09h-7.08zM907.09 118.59h3.54v7.09h-3.54zM935.39 118.59h7.08v7.09h-7.08zM917.7 125.68h10.61v7.09h-10.61zM931.86 125.68h3.54v7.09h-3.54zM829.26 132.77h3.54v7.09h-3.54zM836.33 132.77h3.54v7.09h-3.54zM832.8 139.86h3.54v7.09h-3.54zM825.72 146.94h3.54v7.09h-3.54zM938.93 146.94h3.54v7.09h-3.54zM829.26 154.03h3.54v7.09h-3.54zM942.47 154.03h3.54v7.09h-3.54zM953.08 154.03h7.08v7.09h-7.08zM783.27 161.12h3.54v7.09h-3.54zM935.39 161.12h3.54v7.09h-3.54zM946.01 161.12h3.54v7.09h-3.54zM829.26 168.21h3.54v7.09h-3.54zM836.33 168.21h3.54v7.09h-3.54zM942.47 168.21h3.54v7.09h-3.54zM956.62 168.21h3.54v7.09h-3.54zM829.26 175.3h3.54v7.09h-3.54zM942.47 175.3h3.54v7.09h-3.54zM783.27 182.39h3.54v7.09h-3.54zM832.8 182.39h3.54v7.09h-3.54zM843.41 182.39h3.54v7.09h-3.54zM949.55 182.39h3.54v7.09h-3.54zM956.62 182.39h3.54v7.09h-3.54zM839.87 189.48h3.54v7.09h-3.54zM850.48 189.48h3.54v7.09h-3.54zM946.01 189.48h3.54v7.09h-3.54zM953.08 189.48h3.54v7.09h-3.54zM832.8 196.57h3.54v7.09h-3.54zM854.02 196.57h3.54v7.09h-3.54zM935.39 196.57h3.54v7.09h-3.54zM953.08 196.57h3.54v7.09h-3.54zM843.41 203.66h7.08v7.09h-7.08zM857.56 203.66h10.61v7.09h-10.61zM946.01 203.66h3.54v7.09h-3.54zM953.08 203.66h3.54v7.09h-3.54zM843.41 210.74h3.54v7.09h-3.54zM861.1 210.74h3.54v7.09h-3.54zM868.17 210.74h3.54v7.09h-3.54zM935.39 210.74h3.54v7.09h-3.54zM942.47 210.74h3.54v7.09h-3.54zM949.55 210.74h3.54v7.09h-3.54zM843.41 217.83h3.54v7.09h-3.54zM850.48 217.83h3.54v7.09h-3.54zM857.56 217.83h3.54v7.09h-3.54zM875.25 217.83h3.54v7.09h-3.54zM885.86 217.83h3.54v7.09h-3.54zM942.47 217.83h7.08v7.09h-7.08zM871.71 224.92h7.08v7.09h-7.08zM892.94 224.92h3.54v7.09h-3.54zM928.32 224.92h3.54v7.09h-3.54zM938.93 224.92h3.54v7.09h-3.54zM868.17 232.01h7.08v7.09h-7.08zM878.79 232.01h7.08v7.09h-7.08zM889.4 232.01h3.54v7.09h-3.54zM910.63 232.01h3.54v7.09h-3.54zM921.24 232.01h3.54v7.09h-3.54zM928.32 232.01h7.08v7.09h-7.08zM882.33 239.1h3.54v7.09h-3.54zM903.55 239.1h3.54v7.09h-3.54zM818.64 246.19h3.54v7.09h-3.54zM914.17 246.19h3.54v7.09h-3.54zM910.63 253.28h3.54v7.09h-3.54zM885.86 260.37h3.54v7.09h-3.54zM892.94 260.37h3.54v7.09h-3.54zM900.02 260.37h3.54v7.09h-3.54zM861.1 267.46h14.15v7.09h-14.15z" fill="#a4f901"/>
<path d="M868.17 76.06h3.54v7.09h-3.54zM836.33 83.14h7.08v7.09h-7.08zM854.02 83.14h3.54v7.09h-3.54zM907.09 83.14h3.54v7.09h-3.54zM900.02 90.23h3.54v7.09h-3.54zM910.63 90.23h3.54v7.09h-3.54zM885.86 97.32h3.54v7.09h-3.54zM892.94 97.32h10.61v7.09h-10.61zM808.03 104.41h3.54v7.09h-3.54zM868.17 104.41h3.54v7.09h-3.54zM885.86 104.41h7.08v7.09h-7.08zM928.32 104.41h3.54v7.09h-3.54zM861.1 111.5h3.54v7.09h-3.54zM868.17 111.5h7.08v7.09h-7.08zM892.94 111.5h3.54v7.09h-3.54zM924.78 111.5h3.54v7.09h-3.54zM892.94 118.59h7.08v7.09h-7.08zM839.87 125.68h3.54v7.09h-3.54zM846.95 125.68h3.54v7.09h-3.54zM914.17 125.68h3.54v7.09h-3.54zM839.87 132.77h7.08v7.09h-7.08zM935.39 132.77h3.54v7.09h-3.54zM942.47 139.86h3.54v7.09h-3.54zM832.8 146.94h3.54v7.09h-3.54zM931.86 146.94h7.08v7.09h-7.08zM783.27 154.03h3.54v7.09h-3.54zM832.8 154.03h3.54v7.09h-3.54zM783.27 168.21h3.54v7.09h-3.54zM938.93 168.21h3.54v7.09h-3.54zM946.01 168.21h7.08v7.09h-7.08zM946.01 182.39h3.54v7.09h-3.54zM953.08 182.39h3.54v7.09h-3.54zM783.27 189.48h3.54v7.09h-3.54zM931.86 189.48h7.08v7.09h-7.08zM960.16 189.48h3.54v7.09h-3.54zM846.95 196.57h3.54v7.09h-3.54zM857.56 196.57h3.54v7.09h-3.54zM924.78 196.57h3.54v7.09h-3.54zM949.55 196.57h3.54v7.09h-3.54zM921.24 203.66h3.54v7.09h-3.54zM928.32 203.66h3.54v7.09h-3.54zM854.02 210.74h3.54v7.09h-3.54zM921.24 210.74h3.54v7.09h-3.54zM928.32 210.74h3.54v7.09h-3.54zM938.93 210.74h3.54v7.09h-3.54zM846.95 217.83h3.54v7.09h-3.54zM854.02 217.83h3.54v7.09h-3.54zM878.79 217.83h3.54v7.09h-3.54zM889.4 217.83h7.08v7.09h-7.08zM917.7 217.83h3.54v7.09h-3.54zM931.86 217.83h3.54v7.09h-3.54zM938.93 217.83h3.54v7.09h-3.54zM857.56 224.92h3.54v7.09h-3.54zM885.86 224.92h3.54v7.09h-3.54zM896.48 224.92h7.08v7.09h-7.08zM910.63 224.92h3.54v7.09h-3.54zM924.78 224.92h3.54v7.09h-3.54zM931.86 224.92h3.54v7.09h-3.54zM800.95 232.01h3.54v7.09h-3.54zM896.48 232.01h7.08v7.09h-7.08zM924.78 232.01h3.54v7.09h-3.54zM935.39 239.1h3.54v7.09h-3.54zM917.7 246.19h3.54v7.09h-3.54zM907.09 260.37h3.54v7.09h-3.54zM857.56 267.46h3.54v7.09h-3.54zM878.79 267.46h3.54v7.09h-3.54zM885.86 267.46h3.54v7.09h-3.54zM892.94 267.46h3.54v7.09h-3.54z" fill="#b9f702"/>
<path d="M875.25 76.06h3.54v7.09h-3.54zM889.4 83.14h7.08v7.09h-7.08zM903.55 90.23h3.54v7.09h-3.54zM921.24 97.32h3.54v7.09h-3.54zM878.79 104.41h3.54v7.09h-3.54zM921.24 104.41h3.54v7.09h-3.54zM931.86 104.41h3.54v7.09h-3.54zM800.95 111.5h3.54v7.09h-3.54zM878.79 111.5h3.54v7.09h-3.54zM900.02 111.5h3.54v7.09h-3.54zM928.32 111.5h7.08v7.09h-7.08zM854.02 118.59h3.54v7.09h-3.54zM864.64 118.59h3.54v7.09h-3.54zM875.25 118.59h7.08v7.09h-7.08zM903.55 118.59h3.54v7.09h-3.54zM914.17 118.59h7.08v7.09h-7.08zM924.78 118.59h3.54v7.09h-3.54zM931.86 118.59h3.54v7.09h-3.54zM942.47 118.59h3.54v7.09h-3.54zM850.48 125.68h3.54v7.09h-3.54zM946.01 125.68h7.08v7.09h-7.08zM914.17 132.77h3.54v7.09h-3.54zM924.78 132.77h10.61v7.09h-10.61zM942.47 132.77h10.61v7.09h-10.61zM931.86 139.86h3.54v7.09h-3.54zM953.08 139.86h3.54v7.09h-3.54zM938.93 154.03h3.54v7.09h-3.54zM949.55 154.03h3.54v7.09h-3.54zM960.16 154.03h3.54v7.09h-3.54zM829.26 161.12h3.54v7.09h-3.54zM836.33 161.12h7.08v7.09h-7.08zM832.8 175.3h3.54v7.09h-3.54zM956.62 175.3h3.54v7.09h-3.54zM836.33 182.39h3.54v7.09h-3.54zM928.32 182.39h3.54v7.09h-3.54zM960.16 182.39h3.54v7.09h-3.54zM843.41 189.48h3.54v7.09h-3.54zM861.1 189.48h3.54v7.09h-3.54zM956.62 189.48h3.54v7.09h-3.54zM839.87 196.57h3.54v7.09h-3.54zM868.17 196.57h3.54v7.09h-3.54zM931.86 196.57h3.54v7.09h-3.54zM938.93 196.57h3.54v7.09h-3.54zM786.8 203.66h3.54v7.09h-3.54zM924.78 203.66h3.54v7.09h-3.54zM938.93 203.66h3.54v7.09h-3.54zM956.62 203.66h3.54v7.09h-3.54zM871.71 210.74h7.08v7.09h-7.08zM900.02 210.74h3.54v7.09h-3.54zM931.86 210.74h3.54v7.09h-3.54zM882.33 217.83h3.54v7.09h-3.54zM903.55 217.83h3.54v7.09h-3.54zM910.63 217.83h3.54v7.09h-3.54zM797.42 224.92h3.54v7.09h-3.54zM864.64 224.92h3.54v7.09h-3.54zM882.33 224.92h3.54v7.09h-3.54zM903.55 224.92h7.08v7.09h-7.08zM942.47 224.92h3.54v7.09h-3.54zM935.39 232.01h7.08v7.09h-7.08zM931.86 239.1h3.54v7.09h-3.54zM924.78 246.19h3.54v7.09h-3.54zM914.17 253.28h3.54v7.09h-3.54zM836.33 260.37h3.54v7.09h-3.54zM854.02 267.46h3.54v7.09h-3.54zM896.48 267.46h3.54v7.09h-3.54z" fill="#cff603"/>
<path d="M854.02 76.06h3.54v7.09h-3.54zM878.79 76.06h7.08v7.09h-7.08zM889.4 76.06h3.54v7.09h-3.54zM921.24 90.23h3.54v7.09h-3.54zM875.25 111.5h3.54v7.09h-3.54zM882.33 111.5h3.54v7.09h-3.54zM896.48 111.5h3.54v7.09h-3.54zM938.93 111.5h3.54v7.09h-3.54zM900.02 118.59h3.54v7.09h-3.54zM900.02 125.68h3.54v7.09h-3.54zM938.93 125.68h7.08v7.09h-7.08zM921.24 132.77h3.54v7.09h-3.54zM953.08 132.77h3.54v7.09h-3.54zM786.8 139.86h3.54v7.09h-3.54zM836.33 139.86h7.08v7.09h-7.08zM917.7 139.86h3.54v7.09h-3.54zM924.78 139.86h3.54v7.09h-3.54zM938.93 139.86h3.54v7.09h-3.54zM956.62 139.86h3.54v7.09h-3.54zM836.33 146.94h7.08v7.09h-7.08zM924.78 146.94h3.54v7.09h-3.54zM956.62 146.94h7.08v7.09h-7.08zM836.33 154.03h3.54v7.09h-3.54zM931.86 154.03h3.54v7.09h-3.54zM946.01 154.03h3.54v7.09h-3.54zM928.32 161.12h3.54v7.09h-3.54zM949.55 161.12h10.61v7.09h-10.61zM839.87 168.21h3.54v7.09h-3.54zM850.48 168.21h3.54v7.09h-3.54zM953.08 168.21h3.54v7.09h-3.54zM836.33 175.3h7.08v7.09h-7.08zM850.48 175.3h3.54v7.09h-3.54zM953.08 175.3h3.54v7.09h-3.54zM850.48 182.39h3.54v7.09h-3.54zM924.78 182.39h3.54v7.09h-3.54zM931.86 182.39h10.61v7.09h-10.61zM846.95 189.48h3.54v7.09h-3.54zM928.32 189.48h3.54v7.09h-3.54zM850.48 196.57h3.54v7.09h-3.54zM861.1 196.57h7.08v7.09h-7.08zM871.71 196.57h3.54v7.09h-3.54zM946.01 196.57h3.54v7.09h-3.54zM854.02 203.66h3.54v7.09h-3.54zM868.17 203.66h3.54v7.09h-3.54zM885.86 203.66h3.54v7.09h-3.54zM949.55 203.66h3.54v7.09h-3.54zM857.56 210.74h3.54v7.09h-3.54zM896.48 210.74h3.54v7.09h-3.54zM924.78 210.74h3.54v7.09h-3.54zM953.08 210.74h3.54v7.09h-3.54zM871.71 217.83h3.54v7.09h-3.54zM900.02 217.83h3.54v7.09h-3.54zM914.17 217.83h3.54v7.09h-3.54zM953.08 217.83h3.54v7.09h-3.54zM889.4 224.92h3.54v7.09h-3.54zM946.01 224.92h3.54v7.09h-3.54zM942.47 232.01h3.54v7.09h-3.54zM832.8 260.37h3.54v7.09h-3.54z" fill="#e4f504"/>
<path d="M857.56 76.06h7.08v7.09h-7.08zM924.78 97.32h7.08v7.09h-7.08zM885.86 111.5h3.54v7.09h-3.54zM942.47 111.5h3.54v7.09h-3.54zM885.86 118.59h7.08v7.09h-7.08zM910.63 118.59h3.54v7.09h-3.54zM896.48 125.68h3.54v7.09h-3.54zM910.63 125.68h3.54v7.09h-3.54zM907.09 132.77h7.08v7.09h-7.08zM928.32 139.86h3.54v7.09h-3.54zM783.27 146.94h3.54v7.09h-3.54zM928.32 146.94h3.54v7.09h-3.54zM953.08 146.94h3.54v7.09h-3.54zM928.32 154.03h3.54v7.09h-3.54zM832.8 161.12h3.54v7.09h-3.54zM843.41 161.12h3.54v7.09h-3.54zM832.8 168.21h3.54v7.09h-3.54zM854.02 168.21h7.08v7.09h-7.08zM928.32 168.21h3.54v7.09h-3.54zM960.16 168.21h3.54v7.09h-3.54zM779.73 175.3h3.54v7.09h-3.54zM843.41 175.3h3.54v7.09h-3.54zM921.24 175.3h3.54v7.09h-3.54zM935.39 175.3h3.54v7.09h-3.54zM846.95 182.39h3.54v7.09h-3.54zM854.02 182.39h7.08v7.09h-7.08zM854.02 189.48h3.54v7.09h-3.54zM868.17 189.48h3.54v7.09h-3.54zM917.7 189.48h3.54v7.09h-3.54zM875.25 196.57h3.54v7.09h-3.54zM956.62 196.57h7.08v7.09h-7.08zM878.79 203.66h7.08v7.09h-7.08zM914.17 203.66h3.54v7.09h-3.54zM864.64 210.74h3.54v7.09h-3.54zM889.4 210.74h3.54v7.09h-3.54zM910.63 210.74h7.08v7.09h-7.08zM956.62 210.74h3.54v7.09h-3.54zM949.55 217.83h3.54v7.09h-3.54zM878.79 224.92h3.54v7.09h-3.54zM949.55 224.92h3.54v7.09h-3.54zM938.93 239.1h3.54v7.09h-3.54zM928.32 246.19h3.54v7.09h-3.54zM822.18 253.28h3.54v7.09h-3.54zM921.24 253.28h7.08v7.09h-7.08zM910.63 260.37h3.54v7.09h-3.54z" fill="#f9f405"/>
<path d="M885.86 76.06h3.54v7.09h-3.54zM832.8 83.14h3.54v7.09h-3.54zM910.63 83.14h3.54v7.09h-3.54zM822.18 90.23h3.54v7.09h-3.54zM935.39 104.41h3.54v7.09h-3.54zM793.88 118.59h3.54v7.09h-3.54zM868.17 118.59h7.08v7.09h-7.08zM946.01 118.59h7.08v7.09h-7.08zM790.34 125.68h3.54v7.09h-3.54zM857.56 125.68h3.54v7.09h-3.54zM907.09 125.68h3.54v7.09h-3.54zM786.8 132.77h3.54v7.09h-3.54zM917.7 132.77h3.54v7.09h-3.54zM843.41 139.86h3.54v7.09h-3.54zM921.24 139.86h3.54v7.09h-3.54zM839.87 154.03h3.54v7.09h-3.54zM854.02 154.03h3.54v7.09h-3.54zM846.95 161.12h3.54v7.09h-3.54zM854.02 161.12h3.54v7.09h-3.54zM921.24 161.12h7.08v7.09h-7.08zM779.73 168.21h3.54v7.09h-3.54zM843.41 168.21h3.54v7.09h-3.54zM864.64 168.21h3.54v7.09h-3.54zM921.24 168.21h7.08v7.09h-7.08zM935.39 168.21h3.54v7.09h-3.54zM846.95 175.3h3.54v7.09h-3.54zM857.56 175.3h3.54v7.09h-3.54zM864.64 175.3h3.54v7.09h-3.54zM871.71 175.3h7.08v7.09h-7.08zM931.86 175.3h3.54v7.09h-3.54zM960.16 175.3h7.08v7.09h-7.08zM864.64 182.39h3.54v7.09h-3.54zM871.71 182.39h3.54v7.09h-3.54zM921.24 182.39h3.54v7.09h-3.54zM783.27 196.57h3.54v7.09h-3.54zM889.4 196.57h3.54v7.09h-3.54zM914.17 196.57h3.54v7.09h-3.54zM928.32 196.57h3.54v7.09h-3.54zM871.71 203.66h7.08v7.09h-7.08zM903.55 203.66h3.54v7.09h-3.54zM910.63 203.66h3.54v7.09h-3.54zM878.79 210.74h3.54v7.09h-3.54zM903.55 210.74h7.08v7.09h-7.08zM917.7 210.74h3.54v7.09h-3.54zM896.48 217.83h3.54v7.09h-3.54zM907.09 217.83h3.54v7.09h-3.54zM793.88 224.92h3.54v7.09h-3.54zM935.39 246.19h3.54v7.09h-3.54zM914.17 260.37h3.54v7.09h-3.54z" fill="#ffea05"/>
<path d="M924.78 90.23h3.54v7.09h-3.54zM931.86 97.32h3.54v7.09h-3.54zM938.93 104.41h3.54v7.09h-3.54zM882.33 118.59h3.54v7.09h-3.54zM885.86 125.68h3.54v7.09h-3.54zM892.94 125.68h3.54v7.09h-3.54zM903.55 125.68h3.54v7.09h-3.54zM903.55 132.77h3.54v7.09h-3.54zM846.95 139.86h3.54v7.09h-3.54zM843.41 146.94h3.54v7.09h-3.54zM857.56 154.03h3.54v7.09h-3.54zM924.78 154.03h3.54v7.09h-3.54zM868.17 161.12h3.54v7.09h-3.54zM931.86 161.12h3.54v7.09h-3.54zM960.16 161.12h3.54v7.09h-3.54zM846.95 168.21h3.54v7.09h-3.54zM875.25 168.21h3.54v7.09h-3.54zM931.86 168.21h3.54v7.09h-3.54zM861.1 175.3h3.54v7.09h-3.54zM878.79 175.3h7.08v7.09h-7.08zM924.78 175.3h7.08v7.09h-7.08zM779.73 182.39h3.54v7.09h-3.54zM868.17 182.39h3.54v7.09h-3.54zM875.25 182.39h3.54v7.09h-3.54zM857.56 189.48h3.54v7.09h-3.54zM871.71 189.48h7.08v7.09h-7.08zM882.33 189.48h3.54v7.09h-3.54zM924.78 189.48h3.54v7.09h-3.54zM896.48 196.57h3.54v7.09h-3.54zM907.09 196.57h3.54v7.09h-3.54zM917.7 196.57h7.08v7.09h-7.08zM889.4 203.66h10.61v7.09h-10.61zM917.7 203.66h3.54v7.09h-3.54zM882.33 210.74h7.08v7.09h-7.08zM892.94 210.74h3.54v7.09h-3.54zM811.57 246.19h3.54v7.09h-3.54zM931.86 246.19h3.54v7.09h-3.54zM850.48 267.46h3.54v7.09h-3.54z" fill="#ffdb06"/>
<path d="M892.94 76.06h3.54v7.09h-3.54zM811.57 97.32h3.54v7.09h-3.54zM946.01 111.5h3.54v7.09h-3.54zM854.02 125.68h3.54v7.09h-3.54zM878.79 125.68h7.08v7.09h-7.08zM846.95 132.77h3.54v7.09h-3.54zM854.02 139.86h3.54v7.09h-3.54zM914.17 146.94h3.54v7.09h-3.54zM921.24 146.94h3.54v7.09h-3.54zM875.25 154.03h3.54v7.09h-3.54zM921.24 154.03h3.54v7.09h-3.54zM850.48 161.12h3.54v7.09h-3.54zM875.25 161.12h3.54v7.09h-3.54zM878.79 168.21h3.54v7.09h-3.54zM963.7 168.21h3.54v7.09h-3.54zM854.02 175.3h3.54v7.09h-3.54zM868.17 175.3h3.54v7.09h-3.54zM885.86 182.39h7.08v7.09h-7.08zM963.7 182.39h3.54v7.09h-3.54zM864.64 189.48h3.54v7.09h-3.54zM878.79 189.48h3.54v7.09h-3.54zM885.86 189.48h3.54v7.09h-3.54zM907.09 189.48h3.54v7.09h-3.54zM914.17 189.48h3.54v7.09h-3.54zM921.24 189.48h3.54v7.09h-3.54zM882.33 196.57h3.54v7.09h-3.54zM783.27 203.66h3.54v7.09h-3.54zM900.02 203.66h3.54v7.09h-3.54zM907.09 203.66h3.54v7.09h-3.54zM790.34 217.83h3.54v7.09h-3.54zM797.42 232.01h3.54v7.09h-3.54zM946.01 232.01h3.54v7.09h-3.54zM942.47 239.1h3.54v7.09h-3.54zM829.26 260.37h3.54v7.09h-3.54zM846.95 267.46h3.54v7.09h-3.54z" fill="#ffcd06"/>
<path d="M846.95 76.06h3.54v7.09h-3.54zM896.48 76.06h3.54v7.09h-3.54zM829.26 83.14h3.54v7.09h-3.54zM914.17 83.14h3.54v7.09h-3.54zM861.1 125.68h7.08v7.09h-7.08zM871.71 125.68h7.08v7.09h-7.08zM953.08 125.68h3.54v7.09h-3.54zM850.48 132.77h7.08v7.09h-7.08zM864.64 132.77h3.54v7.09h-3.54zM900.02 132.77h3.54v7.09h-3.54zM956.62 132.77h3.54v7.09h-3.54zM850.48 139.86h3.54v7.09h-3.54zM861.1 139.86h3.54v7.09h-3.54zM907.09 139.86h10.61v7.09h-10.61zM960.16 139.86h3.54v7.09h-3.54zM917.7 146.94h3.54v7.09h-3.54zM843.41 154.03h7.08v7.09h-7.08zM864.64 161.12h3.54v7.09h-3.54zM882.33 161.12h7.08v7.09h-7.08zM868.17 168.21h3.54v7.09h-3.54zM889.4 168.21h3.54v7.09h-3.54zM861.1 182.39h3.54v7.09h-3.54zM896.48 182.39h7.08v7.09h-7.08zM914.17 182.39h3.54v7.09h-3.54zM892.94 189.48h3.54v7.09h-3.54zM878.79 196.57h3.54v7.09h-3.54zM900.02 196.57h3.54v7.09h-3.54zM910.63 196.57h3.54v7.09h-3.54zM786.8 210.74h3.54v7.09h-3.54zM804.49 239.1h3.54v7.09h-3.54zM900.02 267.46h3.54v7.09h-3.54z" fill="#ffbf07"/>
<path d="M850.48 76.06h3.54v7.09h-3.54zM868.17 125.68h3.54v7.09h-3.54zM889.4 125.68h3.54v7.09h-3.54zM871.71 139.86h3.54v7.09h-3.54zM846.95 146.94h7.08v7.09h-7.08zM857.56 146.94h3.54v7.09h-3.54zM875.25 146.94h3.54v7.09h-3.54zM910.63 146.94h3.54v7.09h-3.54zM850.48 154.03h3.54v7.09h-3.54zM861.1 154.03h3.54v7.09h-3.54zM868.17 154.03h3.54v7.09h-3.54zM878.79 154.03h3.54v7.09h-3.54zM917.7 154.03h3.54v7.09h-3.54zM963.7 154.03h3.54v7.09h-3.54zM779.73 161.12h3.54v7.09h-3.54zM857.56 161.12h7.08v7.09h-7.08zM963.7 161.12h3.54v7.09h-3.54zM861.1 168.21h3.54v7.09h-3.54zM871.71 168.21h3.54v7.09h-3.54zM889.4 175.3h7.08v7.09h-7.08zM878.79 182.39h3.54v7.09h-3.54zM917.7 182.39h3.54v7.09h-3.54zM889.4 189.48h3.54v7.09h-3.54zM900.02 189.48h7.08v7.09h-7.08zM910.63 189.48h3.54v7.09h-3.54zM963.7 189.48h3.54v7.09h-3.54zM885.86 196.57h3.54v7.09h-3.54zM892.94 196.57h3.54v7.09h-3.54zM903.55 196.57h3.54v7.09h-3.54zM960.16 203.66h3.54v7.09h-3.54zM818.64 253.28h3.54v7.09h-3.54zM928.32 253.28h3.54v7.09h-3.54zM843.41 267.46h3.54v7.09h-3.54zM868.17 274.54h3.54v7.09h-3.54z" fill="#ffb108"/>
<path d="M900.02 76.06h3.54v7.09h-3.54zM917.7 83.14h3.54v7.09h-3.54zM857.56 132.77h3.54v7.09h-3.54zM783.27 139.86h3.54v7.09h-3.54zM854.02 146.94h3.54v7.09h-3.54zM779.73 154.03h3.54v7.09h-3.54zM871.71 154.03h3.54v7.09h-3.54zM871.71 161.12h3.54v7.09h-3.54zM878.79 161.12h3.54v7.09h-3.54zM892.94 161.12h3.54v7.09h-3.54zM885.86 168.21h3.54v7.09h-3.54zM896.48 168.21h3.54v7.09h-3.54zM903.55 168.21h3.54v7.09h-3.54zM885.86 175.3h3.54v7.09h-3.54zM896.48 175.3h3.54v7.09h-3.54zM907.09 175.3h3.54v7.09h-3.54zM882.33 182.39h3.54v7.09h-3.54zM892.94 182.39h3.54v7.09h-3.54zM907.09 182.39h3.54v7.09h-3.54zM896.48 189.48h3.54v7.09h-3.54zM963.7 196.57h3.54v7.09h-3.54zM949.55 232.01h3.54v7.09h-3.54zM815.11 253.28h3.54v7.09h-3.54zM917.7 260.37h3.54v7.09h-3.54z" fill="#ffa308"/>
<path d="M818.64 90.23h3.54v7.09h-3.54zM935.39 97.32h3.54v7.09h-3.54zM804.49 104.41h3.54v7.09h-3.54zM953.08 118.59h3.54v7.09h-3.54zM956.62 125.68h3.54v7.09h-3.54zM861.1 132.77h3.54v7.09h-3.54zM868.17 132.77h7.08v7.09h-7.08zM896.48 132.77h3.54v7.09h-3.54zM960.16 132.77h3.54v7.09h-3.54zM857.56 139.86h3.54v7.09h-3.54zM900.02 139.86h7.08v7.09h-7.08zM861.1 146.94h3.54v7.09h-3.54zM868.17 146.94h3.54v7.09h-3.54zM864.64 154.03h3.54v7.09h-3.54zM917.7 161.12h3.54v7.09h-3.54zM882.33 168.21h3.54v7.09h-3.54zM900.02 168.21h3.54v7.09h-3.54zM917.7 168.21h3.54v7.09h-3.54zM914.17 175.3h7.08v7.09h-7.08zM779.73 189.48h3.54v7.09h-3.54zM808.03 246.19h3.54v7.09h-3.54zM921.24 260.37h3.54v7.09h-3.54zM829.26 267.46h3.54v7.09h-3.54zM839.87 267.46h3.54v7.09h-3.54zM903.55 267.46h3.54v7.09h-3.54zM846.95 274.54h7.08v7.09h-7.08zM871.71 274.54h3.54v7.09h-3.54z" fill="#ff9208"/>
<path d="M843.41 76.06h3.54v7.09h-3.54zM903.55 76.06h3.54v7.09h-3.54zM808.03 97.32h3.54v7.09h-3.54zM797.42 111.5h3.54v7.09h-3.54zM892.94 132.77h3.54v7.09h-3.54zM875.25 139.86h3.54v7.09h-3.54zM889.4 139.86h7.08v7.09h-7.08zM864.64 146.94h3.54v7.09h-3.54zM871.71 146.94h3.54v7.09h-3.54zM882.33 146.94h3.54v7.09h-3.54zM896.48 146.94h3.54v7.09h-3.54zM903.55 146.94h7.08v7.09h-7.08zM896.48 154.03h10.61v7.09h-10.61zM914.17 154.03h3.54v7.09h-3.54zM889.4 161.12h3.54v7.09h-3.54zM903.55 161.12h14.15v7.09h-14.15zM892.94 168.21h3.54v7.09h-3.54zM914.17 168.21h3.54v7.09h-3.54zM903.55 175.3h3.54v7.09h-3.54zM910.63 182.39h3.54v7.09h-3.54zM776.19 189.48h3.54v7.09h-3.54zM779.73 203.66h3.54v7.09h-3.54zM779.73 210.74h3.54v7.09h-3.54zM953.08 224.92h3.54v7.09h-3.54zM822.18 260.37h3.54v7.09h-3.54zM832.8 267.46h3.54v7.09h-3.54zM907.09 267.46h3.54v7.09h-3.54zM839.87 274.54h3.54v7.09h-3.54zM864.64 274.54h3.54v7.09h-3.54zM875.25 274.54h3.54v7.09h-3.54zM892.94 274.54h3.54v7.09h-3.54zM875.25 281.63h3.54v7.09h-3.54z" fill="#ff8108"/>
<path d="M822.18 83.14h3.54v7.09h-3.54zM921.24 83.14h3.54v7.09h-3.54zM928.32 90.23h3.54v7.09h-3.54zM942.47 104.41h3.54v7.09h-3.54zM875.25 132.77h3.54v7.09h-3.54zM885.86 132.77h3.54v7.09h-3.54zM864.64 139.86h7.08v7.09h-7.08zM885.86 139.86h3.54v7.09h-3.54zM878.79 146.94h3.54v7.09h-3.54zM892.94 146.94h3.54v7.09h-3.54zM882.33 154.03h7.08v7.09h-7.08zM907.09 154.03h7.08v7.09h-7.08zM900.02 161.12h3.54v7.09h-3.54zM967.23 161.12h3.54v7.09h-3.54zM772.65 168.21h7.08v7.09h-7.08zM776.19 175.3h3.54v7.09h-3.54zM910.63 175.3h3.54v7.09h-3.54zM776.19 182.39h3.54v7.09h-3.54zM903.55 182.39h3.54v7.09h-3.54zM776.19 203.66h3.54v7.09h-3.54zM956.62 217.83h3.54v7.09h-3.54zM786.8 224.92h7.08v7.09h-7.08zM793.88 232.01h3.54v7.09h-3.54zM797.42 239.1h7.08v7.09h-7.08zM811.57 253.28h3.54v7.09h-3.54zM808.03 260.37h3.54v7.09h-3.54zM825.72 260.37h3.54v7.09h-3.54zM924.78 260.37h3.54v7.09h-3.54zM822.18 267.46h7.08v7.09h-7.08zM910.63 267.46h3.54v7.09h-3.54zM857.56 274.54h3.54v7.09h-3.54zM885.86 274.54h7.08v7.09h-7.08zM900.02 274.54h14.15v7.09h-14.15zM846.95 281.63h3.54v7.09h-3.54zM854.02 281.63h7.08v7.09h-7.08zM864.64 281.63h3.54v7.09h-3.54zM871.71 281.63h3.54v7.09h-3.54z" fill="#ff7108"/>
<path d="M850.48 68.97h3.54v7.09h-3.54zM861.1 68.97h10.61v7.09h-10.61zM875.25 68.97h3.54v7.09h-3.54zM825.72 83.14h3.54v7.09h-3.54zM790.34 118.59h3.54v7.09h-3.54zM779.73 132.77h7.08v7.09h-7.08zM878.79 132.77h7.08v7.09h-7.08zM889.4 132.77h3.54v7.09h-3.54zM878.79 139.86h3.54v7.09h-3.54zM963.7 139.86h3.54v7.09h-3.54zM885.86 146.94h7.08v7.09h-7.08zM963.7 146.94h3.54v7.09h-3.54zM889.4 154.03h3.54v7.09h-3.54zM769.11 161.12h3.54v7.09h-3.54zM776.19 161.12h3.54v7.09h-3.54zM907.09 168.21h7.08v7.09h-7.08zM900.02 175.3h3.54v7.09h-3.54zM772.65 182.39h3.54v7.09h-3.54zM967.23 189.48h3.54v7.09h-3.54zM772.65 196.57h3.54v7.09h-3.54zM963.7 210.74h3.54v7.09h-3.54zM772.65 217.83h7.08v7.09h-7.08zM786.8 217.83h3.54v7.09h-3.54zM960.16 217.83h7.08v7.09h-7.08zM779.73 232.01h14.15v7.09h-14.15zM790.34 246.19h7.08v7.09h-7.08zM804.49 246.19h3.54v7.09h-3.54zM938.93 246.19h3.54v7.09h-3.54zM946.01 246.19h3.54v7.09h-3.54zM797.42 253.28h10.61v7.09h-10.61zM931.86 253.28h3.54v7.09h-3.54zM928.32 260.37h3.54v7.09h-3.54zM843.41 274.54h3.54v7.09h-3.54zM878.79 274.54h3.54v7.09h-3.54zM892.94 281.63h3.54v7.09h-3.54z" fill="#ff6008"/>
<path d="M857.56 68.97h3.54v7.09h-3.54zM892.94 68.97h7.08v7.09h-7.08zM804.49 90.23h3.54v7.09h-3.54zM931.86 90.23h7.08v7.09h-7.08zM797.42 104.41h3.54v7.09h-3.54zM779.73 111.5h3.54v7.09h-3.54zM949.55 111.5h3.54v7.09h-3.54zM783.27 125.68h7.08v7.09h-7.08zM772.65 132.77h3.54v7.09h-3.54zM779.73 139.86h3.54v7.09h-3.54zM882.33 139.86h3.54v7.09h-3.54zM769.11 146.94h3.54v7.09h-3.54zM762.04 154.03h3.54v7.09h-3.54zM892.94 154.03h3.54v7.09h-3.54zM772.65 161.12h3.54v7.09h-3.54zM896.48 161.12h3.54v7.09h-3.54zM769.11 168.21h3.54v7.09h-3.54zM967.23 168.21h3.54v7.09h-3.54zM765.58 175.3h7.08v7.09h-7.08zM967.23 175.3h3.54v7.09h-3.54zM765.58 182.39h3.54v7.09h-3.54zM970.77 182.39h3.54v7.09h-3.54zM762.04 189.48h3.54v7.09h-3.54zM970.77 196.57h3.54v7.09h-3.54zM772.65 203.66h3.54v7.09h-3.54zM963.7 203.66h3.54v7.09h-3.54zM783.27 210.74h3.54v7.09h-3.54zM960.16 210.74h3.54v7.09h-3.54zM967.23 210.74h3.54v7.09h-3.54zM783.27 217.83h3.54v7.09h-3.54zM960.16 224.92h3.54v7.09h-3.54zM956.62 232.01h3.54v7.09h-3.54zM783.27 239.1h14.15v7.09h-14.15zM946.01 239.1h3.54v7.09h-3.54zM949.55 246.19h3.54v7.09h-3.54zM808.03 253.28h3.54v7.09h-3.54zM938.93 253.28h3.54v7.09h-3.54zM815.11 260.37h3.54v7.09h-3.54zM942.47 260.37h3.54v7.09h-3.54zM836.33 267.46h3.54v7.09h-3.54zM924.78 267.46h3.54v7.09h-3.54zM829.26 274.54h3.54v7.09h-3.54zM854.02 274.54h3.54v7.09h-3.54zM861.1 274.54h3.54v7.09h-3.54zM882.33 274.54h3.54v7.09h-3.54zM896.48 274.54h3.54v7.09h-3.54zM917.7 274.54h3.54v7.09h-3.54z" fill="#ff5008"/>
<path d="M861.1 61.88h3.54v7.09h-3.54zM871.71 61.88h3.54v7.09h-3.54zM878.79 61.88h3.54v7.09h-3.54zM885.86 61.88h3.54v7.09h-3.54zM878.79 68.97h3.54v7.09h-3.54zM885.86 68.97h3.54v7.09h-3.54zM900.02 68.97h3.54v7.09h-3.54zM829.26 76.06h3.54v7.09h-3.54zM836.33 76.06h7.08v7.09h-7.08zM907.09 76.06h3.54v7.09h-3.54zM921.24 76.06h3.54v7.09h-3.54zM815.11 90.23h3.54v7.09h-3.54zM790.34 97.32h3.54v7.09h-3.54zM942.47 97.32h3.54v7.09h-3.54zM790.34 104.41h3.54v7.09h-3.54zM800.95 104.41h3.54v7.09h-3.54zM786.8 111.5h7.08v7.09h-7.08zM779.73 118.59h3.54v7.09h-3.54zM786.8 118.59h3.54v7.09h-3.54zM963.7 125.68h3.54v7.09h-3.54zM776.19 132.77h3.54v7.09h-3.54zM776.19 139.86h3.54v7.09h-3.54zM896.48 139.86h3.54v7.09h-3.54zM779.73 146.94h3.54v7.09h-3.54zM900.02 146.94h3.54v7.09h-3.54zM765.58 154.03h7.08v7.09h-7.08zM970.77 154.03h3.54v7.09h-3.54zM762.04 161.12h3.54v7.09h-3.54zM970.77 161.12h3.54v7.09h-3.54zM762.04 168.21h7.08v7.09h-7.08zM769.11 182.39h3.54v7.09h-3.54zM967.23 182.39h3.54v7.09h-3.54zM772.65 189.48h3.54v7.09h-3.54zM765.58 196.57h3.54v7.09h-3.54zM779.73 196.57h3.54v7.09h-3.54zM776.19 224.92h7.08v7.09h-7.08zM963.7 224.92h3.54v7.09h-3.54zM953.08 232.01h3.54v7.09h-3.54zM956.62 239.1h3.54v7.09h-3.54zM800.95 246.19h3.54v7.09h-3.54zM942.47 246.19h3.54v7.09h-3.54zM942.47 253.28h3.54v7.09h-3.54zM949.55 253.28h3.54v7.09h-3.54zM804.49 260.37h3.54v7.09h-3.54zM811.57 260.37h3.54v7.09h-3.54zM818.64 260.37h3.54v7.09h-3.54zM931.86 260.37h3.54v7.09h-3.54zM818.64 267.46h3.54v7.09h-3.54zM914.17 267.46h10.61v7.09h-10.61zM928.32 267.46h3.54v7.09h-3.54zM935.39 267.46h3.54v7.09h-3.54zM832.8 274.54h3.54v7.09h-3.54zM861.1 281.63h3.54v7.09h-3.54zM868.17 281.63h3.54v7.09h-3.54zM878.79 281.63h7.08v7.09h-7.08zM903.55 281.63h3.54v7.09h-3.54z" fill="#fe4208"/>
<path d="M854.02 61.88h3.54v7.09h-3.54zM868.17 61.88h3.54v7.09h-3.54zM889.4 61.88h3.54v7.09h-3.54zM900.02 61.88h3.54v7.09h-3.54zM829.26 68.97h3.54v7.09h-3.54zM843.41 68.97h3.54v7.09h-3.54zM871.71 68.97h3.54v7.09h-3.54zM882.33 68.97h3.54v7.09h-3.54zM889.4 68.97h3.54v7.09h-3.54zM818.64 76.06h3.54v7.09h-3.54zM832.8 76.06h3.54v7.09h-3.54zM914.17 76.06h3.54v7.09h-3.54zM811.57 83.14h10.61v7.09h-10.61zM924.78 83.14h7.08v7.09h-7.08zM811.57 90.23h3.54v7.09h-3.54zM804.49 97.32h3.54v7.09h-3.54zM938.93 97.32h3.54v7.09h-3.54zM946.01 104.41h3.54v7.09h-3.54zM793.88 111.5h3.54v7.09h-3.54zM956.62 111.5h3.54v7.09h-3.54zM783.27 118.59h3.54v7.09h-3.54zM960.16 118.59h3.54v7.09h-3.54zM772.65 125.68h7.08v7.09h-7.08zM960.16 125.68h3.54v7.09h-3.54zM967.23 132.77h3.54v7.09h-3.54zM772.65 139.86h3.54v7.09h-3.54zM967.23 139.86h3.54v7.09h-3.54zM776.19 146.94h3.54v7.09h-3.54zM772.65 154.03h7.08v7.09h-7.08zM967.23 154.03h3.54v7.09h-3.54zM974.31 154.03h3.54v7.09h-3.54zM772.65 175.3h3.54v7.09h-3.54zM970.77 175.3h7.08v7.09h-7.08zM981.39 189.48h3.54v7.09h-3.54zM776.19 196.57h3.54v7.09h-3.54zM765.58 203.66h7.08v7.09h-7.08zM974.31 203.66h3.54v7.09h-3.54zM984.92 203.66h3.54v7.09h-3.54zM776.19 210.74h3.54v7.09h-3.54zM970.77 210.74h3.54v7.09h-3.54zM779.73 217.83h3.54v7.09h-3.54zM967.23 217.83h3.54v7.09h-3.54zM977.85 217.83h3.54v7.09h-3.54zM783.27 224.92h3.54v7.09h-3.54zM967.23 224.92h3.54v7.09h-3.54zM960.16 232.01h3.54v7.09h-3.54zM953.08 239.1h3.54v7.09h-3.54zM797.42 246.19h3.54v7.09h-3.54zM960.16 246.19h3.54v7.09h-3.54zM935.39 253.28h3.54v7.09h-3.54zM935.39 260.37h3.54v7.09h-3.54zM815.11 267.46h3.54v7.09h-3.54zM931.86 267.46h3.54v7.09h-3.54zM836.33 274.54h3.54v7.09h-3.54zM914.17 274.54h3.54v7.09h-3.54zM850.48 281.63h3.54v7.09h-3.54zM885.86 281.63h7.08v7.09h-7.08zM896.48 281.63h7.08v7.09h-7.08z" fill="#fc3709"/>
<path d="M850.48 61.88h3.54v7.09h-3.54zM864.64 61.88h3.54v7.09h-3.54zM875.25 61.88h3.54v7.09h-3.54zM882.33 61.88h3.54v7.09h-3.54zM839.87 68.97h3.54v7.09h-3.54zM854.02 68.97h3.54v7.09h-3.54zM907.09 68.97h7.08v7.09h-7.08zM825.72 76.06h3.54v7.09h-3.54zM946.01 90.23h3.54v7.09h-3.54zM793.88 97.32h3.54v7.09h-3.54zM800.95 97.32h3.54v7.09h-3.54zM786.8 104.41h3.54v7.09h-3.54zM793.88 104.41h3.54v7.09h-3.54zM949.55 104.41h3.54v7.09h-3.54zM956.62 104.41h3.54v7.09h-3.54zM956.62 118.59h3.54v7.09h-3.54zM963.7 118.59h10.61v7.09h-10.61zM779.73 125.68h3.54v7.09h-3.54zM769.11 132.77h3.54v7.09h-3.54zM970.77 132.77h3.54v7.09h-3.54zM970.77 139.86h3.54v7.09h-3.54zM977.85 139.86h3.54v7.09h-3.54zM970.77 146.94h14.15v7.09h-14.15zM765.58 161.12h3.54v7.09h-3.54zM981.39 161.12h3.54v7.09h-3.54zM762.04 175.3h3.54v7.09h-3.54zM984.92 175.3h3.54v7.09h-3.54zM762.04 182.39h3.54v7.09h-3.54zM974.31 182.39h3.54v7.09h-3.54zM984.92 182.39h3.54v7.09h-3.54zM970.77 189.48h3.54v7.09h-3.54zM967.23 196.57h3.54v7.09h-3.54zM977.85 196.57h3.54v7.09h-3.54zM967.23 203.66h3.54v7.09h-3.54zM977.85 203.66h7.08v7.09h-7.08zM769.11 210.74h7.08v7.09h-7.08zM977.85 210.74h7.08v7.09h-7.08zM956.62 224.92h3.54v7.09h-3.54zM949.55 239.1h3.54v7.09h-3.54zM963.7 239.1h3.54v7.09h-3.54z" fill="#fa2d0a"/>
<path d="M857.56 61.88h3.54v7.09h-3.54zM892.94 61.88h3.54v7.09h-3.54zM832.8 68.97h3.54v7.09h-3.54zM846.95 68.97h3.54v7.09h-3.54zM903.55 68.97h3.54v7.09h-3.54zM917.7 68.97h3.54v7.09h-3.54zM822.18 76.06h3.54v7.09h-3.54zM910.63 76.06h3.54v7.09h-3.54zM917.7 76.06h3.54v7.09h-3.54zM931.86 83.14h3.54v7.09h-3.54zM797.42 90.23h7.08v7.09h-7.08zM808.03 90.23h3.54v7.09h-3.54zM946.01 97.32h3.54v7.09h-3.54zM953.08 104.41h3.54v7.09h-3.54zM963.7 104.41h3.54v7.09h-3.54zM783.27 111.5h3.54v7.09h-3.54zM776.19 118.59h3.54v7.09h-3.54zM974.31 118.59h3.54v7.09h-3.54zM967.23 125.68h3.54v7.09h-3.54zM977.85 125.68h3.54v7.09h-3.54zM963.7 132.77h3.54v7.09h-3.54zM974.31 132.77h3.54v7.09h-3.54zM981.39 132.77h3.54v7.09h-3.54zM765.58 139.86h3.54v7.09h-3.54zM765.58 146.94h3.54v7.09h-3.54zM772.65 146.94h3.54v7.09h-3.54zM970.77 168.21h17.69v7.09h-17.69zM765.58 189.48h7.08v7.09h-7.08zM977.85 189.48h3.54v7.09h-3.54zM769.11 196.57h3.54v7.09h-3.54zM970.77 232.01h3.54v7.09h-3.54zM956.62 246.19h3.54v7.09h-3.54zM953.08 253.28h3.54v7.09h-3.54zM938.93 260.37h3.54v7.09h-3.54zM946.01 260.37h3.54v7.09h-3.54zM921.24 274.54h3.54v7.09h-3.54z" fill="#f9220b"/>
<path d="M896.48 61.88h3.54v7.09h-3.54zM836.33 68.97h3.54v7.09h-3.54zM914.17 68.97h3.54v7.09h-3.54zM924.78 76.06h10.61v7.09h-10.61zM808.03 83.14h3.54v7.09h-3.54zM935.39 83.14h10.61v7.09h-10.61zM938.93 90.23h7.08v7.09h-7.08zM949.55 90.23h3.54v7.09h-3.54zM797.42 97.32h3.54v7.09h-3.54zM949.55 97.32h10.61v7.09h-10.61zM960.16 104.41h3.54v7.09h-3.54zM953.08 111.5h3.54v7.09h-3.54zM960.16 111.5h14.15v7.09h-14.15zM970.77 125.68h7.08v7.09h-7.08zM977.85 132.77h3.54v7.09h-3.54zM769.11 139.86h3.54v7.09h-3.54zM974.31 139.86h3.54v7.09h-3.54zM981.39 139.86h3.54v7.09h-3.54zM967.23 146.94h3.54v7.09h-3.54zM984.92 146.94h3.54v7.09h-3.54zM977.85 154.03h10.61v7.09h-10.61zM974.31 161.12h7.08v7.09h-7.08zM984.92 161.12h7.08v7.09h-7.08zM977.85 175.3h7.08v7.09h-7.08zM988.46 175.3h3.54v7.09h-3.54zM977.85 182.39h7.08v7.09h-7.08zM974.31 189.48h3.54v7.09h-3.54zM984.92 189.48h3.54v7.09h-3.54zM974.31 196.57h3.54v7.09h-3.54zM981.39 196.57h7.08v7.09h-7.08zM970.77 203.66h3.54v7.09h-3.54zM974.31 210.74h3.54v7.09h-3.54zM970.77 217.83h7.08v7.09h-7.08zM970.77 224.92h7.08v7.09h-7.08zM963.7 232.01h7.08v7.09h-7.08zM960.16 239.1h3.54v7.09h-3.54zM953.08 246.19h3.54v7.09h-3.54zM946.01 253.28h3.54v7.09h-3.54z" fill="#f7170c"/>
<g clip-path="url(#cd)"><use href="#grid" fill="none" stroke="#b4b4b4" stroke-opacity="0.75" stroke-width="0.95"/><use href="#ret" fill="none" stroke="#8a22c4" stroke-opacity="0.8" stroke-width="1"/></g>
<use href="#outl" fill="none" stroke="#000" stroke-width="2.2" stroke-linecap="square"/>
<circle cx="876.7" cy="175.9" r="117.3" fill="none" stroke="#222" stroke-width="1.1"/>
<use href="#notch" fill="#fff" stroke="#333" stroke-width="0.9"/>
</g>
<text x="96" y="477.3" font-size="14" fill="#5a5a5a" stroke="#5a5a5a" stroke-width="0.55" text-anchor="middle">A</text>
<g transform="translate(-394.69 448.53) scale(0.55925)">
<circle cx="876.7" cy="175.9" r="117.3" fill="#fff"/>
<g clip-path="url(#cw)"><use href="#part" fill="none" stroke="#d6d6d6" stroke-width="1.07"/></g>
<path d="M861.1 189.48h3.54v7.09h-3.54z" fill="#cff603"/>
<path d="M850.48 168.21h3.54v7.09h-3.54zM850.48 175.3h3.54v7.09h-3.54z" fill="#e4f504"/>
<path d="M854.02 168.21h7.08v7.09h-7.08zM854.02 182.39h7.08v7.09h-7.08zM868.17 189.48h3.54v7.09h-3.54z" fill="#f9f405"/>
<path d="M854.02 161.12h3.54v7.09h-3.54zM864.64 168.21h3.54v7.09h-3.54zM857.56 175.3h3.54v7.09h-3.54zM864.64 175.3h3.54v7.09h-3.54zM871.71 175.3h7.08v7.09h-7.08zM864.64 182.39h3.54v7.09h-3.54zM871.71 182.39h3.54v7.09h-3.54z" fill="#ffea05"/>
<path d="M857.56 154.03h3.54v7.09h-3.54zM868.17 161.12h3.54v7.09h-3.54zM875.25 168.21h3.54v7.09h-3.54zM861.1 175.3h3.54v7.09h-3.54zM878.79 175.3h7.08v7.09h-7.08zM868.17 182.39h3.54v7.09h-3.54zM875.25 182.39h3.54v7.09h-3.54zM857.56 189.48h3.54v7.09h-3.54zM871.71 189.48h7.08v7.09h-7.08zM882.33 189.48h3.54v7.09h-3.54z" fill="#ffdb06"/>
<path d="M875.25 154.03h3.54v7.09h-3.54zM875.25 161.12h3.54v7.09h-3.54zM878.79 168.21h3.54v7.09h-3.54zM854.02 175.3h3.54v7.09h-3.54zM868.17 175.3h3.54v7.09h-3.54zM885.86 182.39h7.08v7.09h-7.08zM864.64 189.48h3.54v7.09h-3.54zM878.79 189.48h3.54v7.09h-3.54zM885.86 189.48h3.54v7.09h-3.54z" fill="#ffcd06"/>
<path d="M864.64 161.12h3.54v7.09h-3.54zM882.33 161.12h7.08v7.09h-7.08zM868.17 168.21h3.54v7.09h-3.54zM889.4 168.21h3.54v7.09h-3.54zM861.1 182.39h3.54v7.09h-3.54z" fill="#ffbf07"/>
<path d="M861.1 154.03h3.54v7.09h-3.54zM868.17 154.03h3.54v7.09h-3.54zM878.79 154.03h3.54v7.09h-3.54zM857.56 161.12h7.08v7.09h-7.08zM861.1 168.21h3.54v7.09h-3.54zM871.71 168.21h3.54v7.09h-3.54zM889.4 175.3h7.08v7.09h-7.08zM878.79 182.39h3.54v7.09h-3.54zM889.4 189.48h3.54v7.09h-3.54z" fill="#ffb108"/>
<path d="M871.71 154.03h3.54v7.09h-3.54zM871.71 161.12h3.54v7.09h-3.54zM878.79 161.12h3.54v7.09h-3.54zM892.94 161.12h3.54v7.09h-3.54zM885.86 168.21h3.54v7.09h-3.54zM896.48 168.21h3.54v7.09h-3.54zM885.86 175.3h3.54v7.09h-3.54zM896.48 175.3h3.54v7.09h-3.54zM882.33 182.39h3.54v7.09h-3.54zM892.94 182.39h3.54v7.09h-3.54z" fill="#ffa308"/>
<path d="M864.64 154.03h3.54v7.09h-3.54zM882.33 168.21h3.54v7.09h-3.54z" fill="#ff9208"/>
<path d="M889.4 161.12h3.54v7.09h-3.54zM892.94 168.21h3.54v7.09h-3.54z" fill="#ff8108"/>
<path d="M882.33 154.03h7.08v7.09h-7.08z" fill="#ff7108"/>
<path d="M889.4 154.03h3.54v7.09h-3.54z" fill="#ff6008"/>
<path d="M857.56 154.03h35.38M854.02 161.12h3.54M892.94 161.12h3.54M850.48 168.21h3.54M896.48 168.21h3.54M850.48 182.39h3.54M896.48 182.39h3.54M854.02 189.48h3.54M892.94 189.48h3.54M857.56 196.57h35.38M850.48 168.21v14.18M854.02 161.12v7.09M854.02 182.39v7.09M857.56 154.03v7.09M857.56 189.48v7.09M892.94 154.03v7.09M892.94 189.48v7.09M896.48 161.12v7.09M896.48 182.39v7.09M900.02 168.21v14.18" fill="none" stroke="#000" stroke-width="1.97" stroke-linecap="square"/>
<circle cx="876.7" cy="175.9" r="117.3" fill="none" stroke="#b0b0b0" stroke-width="1.7"/>
<use href="#notch" fill="#fff" stroke="#777" stroke-width="1.61"/>
</g>
<rect x="164.1" y="462" width="1" height="178" fill="#eeeff3"/>
<text x="234.1" y="477.3" font-size="14" fill="#5a5a5a" stroke="#5a5a5a" stroke-width="0.55" text-anchor="middle">B</text>
<g transform="translate(-256.59 448.53) scale(0.55925)">
<circle cx="876.7" cy="175.9" r="117.3" fill="#fff"/>
<g clip-path="url(#cw)"><use href="#part" fill="none" stroke="#d6d6d6" stroke-width="1.07"/></g>
<path d="M839.87 203.66h3.54v7.09h-3.54z" fill="#63f800"/>
<path d="M825.72 168.21h3.54v7.09h-3.54zM825.72 175.3h3.54v7.09h-3.54zM836.33 189.48h3.54v7.09h-3.54zM836.33 196.57h3.54v7.09h-3.54z" fill="#79f900"/>
<path d="M829.26 182.39h3.54v7.09h-3.54zM839.87 182.39h3.54v7.09h-3.54zM829.26 189.48h7.08v7.09h-7.08zM843.41 196.57h3.54v7.09h-3.54zM850.48 203.66h3.54v7.09h-3.54zM846.95 210.74h7.08v7.09h-7.08zM861.1 217.83h10.61v7.09h-10.61z" fill="#8efa00"/>
<path d="M829.26 154.03h3.54v7.09h-3.54zM829.26 168.21h3.54v7.09h-3.54zM836.33 168.21h3.54v7.09h-3.54zM829.26 175.3h3.54v7.09h-3.54zM832.8 182.39h3.54v7.09h-3.54zM843.41 182.39h3.54v7.09h-3.54zM839.87 189.48h3.54v7.09h-3.54zM850.48 189.48h3.54v7.09h-3.54zM832.8 196.57h3.54v7.09h-3.54zM854.02 196.57h3.54v7.09h-3.54zM843.41 203.66h7.08v7.09h-7.08zM857.56 203.66h10.61v7.09h-10.61zM861.1 210.74h3.54v7.09h-3.54zM868.17 210.74h3.54v7.09h-3.54zM875.25 217.83h3.54v7.09h-3.54zM885.86 217.83h3.54v7.09h-3.54z" fill="#a4f901"/>
<path d="M832.8 146.94h3.54v7.09h-3.54zM832.8 154.03h3.54v7.09h-3.54zM846.95 196.57h3.54v7.09h-3.54zM857.56 196.57h3.54v7.09h-3.54zM854.02 210.74h3.54v7.09h-3.54zM878.79 217.83h3.54v7.09h-3.54z" fill="#b9f702"/>
<path d="M829.26 161.12h3.54v7.09h-3.54zM836.33 161.12h7.08v7.09h-7.08zM832.8 175.3h3.54v7.09h-3.54zM836.33 182.39h3.54v7.09h-3.54zM843.41 189.48h3.54v7.09h-3.54zM839.87 196.57h3.54v7.09h-3.54zM868.17 196.57h3.54v7.09h-3.54zM871.71 210.74h7.08v7.09h-7.08zM900.02 210.74h3.54v7.09h-3.54zM882.33 217.83h3.54v7.09h-3.54z" fill="#cff603"/>
<path d="M839.87 139.86h3.54v7.09h-3.54zM836.33 146.94h7.08v7.09h-7.08zM836.33 154.03h3.54v7.09h-3.54zM839.87 168.21h3.54v7.09h-3.54zM836.33 175.3h7.08v7.09h-7.08zM850.48 182.39h3.54v7.09h-3.54zM846.95 189.48h3.54v7.09h-3.54zM850.48 196.57h3.54v7.09h-3.54zM861.1 196.57h7.08v7.09h-7.08zM871.71 196.57h3.54v7.09h-3.54zM854.02 203.66h3.54v7.09h-3.54zM868.17 203.66h3.54v7.09h-3.54zM885.86 203.66h3.54v7.09h-3.54zM857.56 210.74h3.54v7.09h-3.54zM896.48 210.74h3.54v7.09h-3.54zM871.71 217.83h3.54v7.09h-3.54z" fill="#e4f504"/>
<path d="M832.8 161.12h3.54v7.09h-3.54zM843.41 161.12h3.54v7.09h-3.54zM832.8 168.21h3.54v7.09h-3.54zM843.41 175.3h3.54v7.09h-3.54zM921.24 175.3h3.54v7.09h-3.54zM846.95 182.39h3.54v7.09h-3.54zM854.02 189.48h3.54v7.09h-3.54zM917.7 189.48h3.54v7.09h-3.54zM875.25 196.57h3.54v7.09h-3.54zM878.79 203.66h7.08v7.09h-7.08zM864.64 210.74h3.54v7.09h-3.54zM889.4 210.74h3.54v7.09h-3.54z" fill="#f9f405"/>
<path d="M843.41 139.86h3.54v7.09h-3.54zM839.87 154.03h3.54v7.09h-3.54zM854.02 154.03h3.54v7.09h-3.54zM846.95 161.12h3.54v7.09h-3.54zM843.41 168.21h3.54v7.09h-3.54zM921.24 168.21h3.54v7.09h-3.54zM846.95 175.3h3.54v7.09h-3.54zM889.4 196.57h3.54v7.09h-3.54zM914.17 196.57h3.54v7.09h-3.54zM871.71 203.66h7.08v7.09h-7.08zM903.55 203.66h3.54v7.09h-3.54zM878.79 210.74h3.54v7.09h-3.54z" fill="#ffea05"/>
<path d="M885.86 125.68h3.54v7.09h-3.54zM846.95 139.86h3.54v7.09h-3.54zM843.41 146.94h3.54v7.09h-3.54zM846.95 168.21h3.54v7.09h-3.54zM896.48 196.57h3.54v7.09h-3.54zM907.09 196.57h3.54v7.09h-3.54zM889.4 203.66h10.61v7.09h-10.61zM882.33 210.74h7.08v7.09h-7.08zM892.94 210.74h3.54v7.09h-3.54z" fill="#ffdb06"/>
<path d="M878.79 125.68h7.08v7.09h-7.08zM846.95 132.77h3.54v7.09h-3.54zM854.02 139.86h3.54v7.09h-3.54zM914.17 146.94h3.54v7.09h-3.54zM850.48 161.12h3.54v7.09h-3.54zM907.09 189.48h3.54v7.09h-3.54zM914.17 189.48h3.54v7.09h-3.54zM882.33 196.57h3.54v7.09h-3.54zM900.02 203.66h3.54v7.09h-3.54zM907.09 203.66h3.54v7.09h-3.54z" fill="#ffcd06"/>
<path d="M861.1 125.68h7.08v7.09h-7.08zM871.71 125.68h7.08v7.09h-7.08zM850.48 132.77h7.08v7.09h-7.08zM864.64 132.77h3.54v7.09h-3.54zM900.02 132.77h3.54v7.09h-3.54zM850.48 139.86h3.54v7.09h-3.54zM861.1 139.86h3.54v7.09h-3.54zM907.09 139.86h3.54v7.09h-3.54zM843.41 154.03h7.08v7.09h-7.08zM896.48 182.39h7.08v7.09h-7.08zM914.17 182.39h3.54v7.09h-3.54zM892.94 189.48h3.54v7.09h-3.54zM878.79 196.57h3.54v7.09h-3.54zM900.02 196.57h3.54v7.09h-3.54zM910.63 196.57h3.54v7.09h-3.54z" fill="#ffbf07"/>
<path d="M868.17 125.68h3.54v7.09h-3.54zM871.71 139.86h3.54v7.09h-3.54zM846.95 146.94h7.08v7.09h-7.08zM857.56 146.94h3.54v7.09h-3.54zM875.25 146.94h3.54v7.09h-3.54zM910.63 146.94h3.54v7.09h-3.54zM850.48 154.03h3.54v7.09h-3.54zM917.7 154.03h3.54v7.09h-3.54zM917.7 182.39h3.54v7.09h-3.54zM900.02 189.48h7.08v7.09h-7.08zM910.63 189.48h3.54v7.09h-3.54zM885.86 196.57h3.54v7.09h-3.54zM892.94 196.57h3.54v7.09h-3.54zM903.55 196.57h3.54v7.09h-3.54z" fill="#ffb108"/>
<path d="M857.56 132.77h3.54v7.09h-3.54zM854.02 146.94h3.54v7.09h-3.54zM903.55 168.21h3.54v7.09h-3.54zM907.09 175.3h3.54v7.09h-3.54zM907.09 182.39h3.54v7.09h-3.54zM896.48 189.48h3.54v7.09h-3.54z" fill="#ffa308"/>
<path d="M861.1 132.77h3.54v7.09h-3.54zM868.17 132.77h7.08v7.09h-7.08zM896.48 132.77h3.54v7.09h-3.54zM857.56 139.86h3.54v7.09h-3.54zM900.02 139.86h7.08v7.09h-7.08zM861.1 146.94h3.54v7.09h-3.54zM868.17 146.94h3.54v7.09h-3.54zM917.7 161.12h3.54v7.09h-3.54zM900.02 168.21h3.54v7.09h-3.54zM917.7 168.21h3.54v7.09h-3.54zM914.17 175.3h7.08v7.09h-7.08z" fill="#ff9208"/>
<path d="M892.94 132.77h3.54v7.09h-3.54zM875.25 139.86h3.54v7.09h-3.54zM889.4 139.86h7.08v7.09h-7.08zM864.64 146.94h3.54v7.09h-3.54zM871.71 146.94h3.54v7.09h-3.54zM882.33 146.94h3.54v7.09h-3.54zM896.48 146.94h3.54v7.09h-3.54zM903.55 146.94h7.08v7.09h-7.08zM896.48 154.03h10.61v7.09h-10.61zM914.17 154.03h3.54v7.09h-3.54zM903.55 161.12h14.15v7.09h-14.15zM914.17 168.21h3.54v7.09h-3.54zM903.55 175.3h3.54v7.09h-3.54zM910.63 182.39h3.54v7.09h-3.54z" fill="#ff8108"/>
<path d="M875.25 132.77h3.54v7.09h-3.54zM885.86 132.77h3.54v7.09h-3.54zM864.64 139.86h7.08v7.09h-7.08zM885.86 139.86h3.54v7.09h-3.54zM878.79 146.94h3.54v7.09h-3.54zM892.94 146.94h3.54v7.09h-3.54zM907.09 154.03h7.08v7.09h-7.08zM900.02 161.12h3.54v7.09h-3.54zM910.63 175.3h3.54v7.09h-3.54zM903.55 182.39h3.54v7.09h-3.54z" fill="#ff7108"/>
<path d="M878.79 132.77h7.08v7.09h-7.08zM889.4 132.77h3.54v7.09h-3.54zM878.79 139.86h3.54v7.09h-3.54zM885.86 146.94h7.08v7.09h-7.08zM907.09 168.21h7.08v7.09h-7.08zM900.02 175.3h3.54v7.09h-3.54z" fill="#ff6008"/>
<path d="M882.33 139.86h3.54v7.09h-3.54zM892.94 154.03h3.54v7.09h-3.54zM896.48 161.12h3.54v7.09h-3.54z" fill="#ff5008"/>
<path d="M896.48 139.86h3.54v7.09h-3.54zM900.02 146.94h3.54v7.09h-3.54z" fill="#fe4208"/>
<path d="M861.1 125.68h28.3M846.95 132.77h14.15M889.4 132.77h14.15M839.87 139.86h7.08M903.55 139.86h7.08M832.8 146.94h7.08M910.63 146.94h7.08M829.26 154.03h3.54M857.56 154.03h35.38M917.7 154.03h3.54M854.02 161.12h3.54M892.94 161.12h3.54M825.72 168.21h3.54M850.48 168.21h3.54M896.48 168.21h3.54M921.24 168.21h3.54M825.72 182.39h3.54M850.48 182.39h3.54M896.48 182.39h3.54M921.24 182.39h3.54M854.02 189.48h3.54M892.94 189.48h3.54M829.26 196.57h3.54M857.56 196.57h35.38M917.7 196.57h3.54M832.8 203.66h7.08M910.63 203.66h7.08M839.87 210.74h7.08M903.55 210.74h7.08M846.95 217.83h14.15M889.4 217.83h14.15M861.1 224.92h28.3M825.72 168.21v14.18M829.26 154.03v14.18M829.26 182.39v14.18M832.8 146.94v7.09M832.8 196.57v7.09M839.87 139.86v7.09M839.87 203.66v7.09M846.95 132.77v7.09M846.95 210.74v7.09M850.48 168.21v14.18M854.02 161.12v7.09M854.02 182.39v7.09M857.56 154.03v7.09M857.56 189.48v7.09M861.1 125.68v7.09M861.1 217.83v7.09M889.4 125.68v7.09M889.4 217.83v7.09M892.94 154.03v7.09M892.94 189.48v7.09M896.48 161.12v7.09M896.48 182.39v7.09M900.02 168.21v14.18M903.55 132.77v7.09M903.55 210.74v7.09M910.63 139.86v7.09M910.63 203.66v7.09M917.7 146.94v7.09M917.7 196.57v7.09M921.24 154.03v14.18M921.24 182.39v14.18M924.78 168.21v14.18" fill="none" stroke="#000" stroke-width="1.97" stroke-linecap="square"/>
<circle cx="876.7" cy="175.9" r="117.3" fill="none" stroke="#b0b0b0" stroke-width="1.7"/>
<use href="#notch" fill="#fff" stroke="#777" stroke-width="1.61"/>
</g>
<rect x="302.2" y="462" width="1" height="178" fill="#eeeff3"/>
<text x="372.2" y="477.3" font-size="14" fill="#5a5a5a" stroke="#5a5a5a" stroke-width="0.55" text-anchor="middle">C</text>
<g transform="translate(-118.49 448.53) scale(0.55925)">
<circle cx="876.7" cy="175.9" r="117.3" fill="#fff"/>
<g clip-path="url(#cw)"><use href="#part" fill="none" stroke="#d6d6d6" stroke-width="1.07"/></g>
<path d="M811.57 139.86h3.54v7.09h-3.54zM818.64 139.86h3.54v7.09h-3.54zM808.03 146.94h10.61v7.09h-10.61zM804.49 154.03h3.54v7.09h-3.54zM811.57 154.03h3.54v7.09h-3.54zM808.03 161.12h7.08v7.09h-7.08zM811.57 168.21h3.54v7.09h-3.54zM804.49 175.3h10.61v7.09h-10.61zM804.49 182.39h10.61v7.09h-10.61zM804.49 189.48h7.08v7.09h-7.08zM808.03 196.57h3.54v7.09h-3.54zM818.64 196.57h3.54v7.09h-3.54zM811.57 203.66h7.08v7.09h-7.08zM815.11 210.74h3.54v7.09h-3.54zM829.26 224.92h3.54v7.09h-3.54zM850.48 239.1h3.54v7.09h-3.54z" fill="#0bf400"/>
<path d="M829.26 118.59h3.54v7.09h-3.54zM825.72 125.68h3.54v7.09h-3.54zM822.18 139.86h3.54v7.09h-3.54zM808.03 168.21h3.54v7.09h-3.54zM818.64 189.48h3.54v7.09h-3.54zM818.64 203.66h7.08v7.09h-7.08zM829.26 217.83h3.54v7.09h-3.54zM843.41 232.01h3.54v7.09h-3.54z" fill="#21f500"/>
<path d="M818.64 125.68h3.54v7.09h-3.54zM822.18 132.77h3.54v7.09h-3.54zM815.11 139.86h3.54v7.09h-3.54zM804.49 161.12h3.54v7.09h-3.54zM804.49 168.21h3.54v7.09h-3.54zM822.18 182.39h3.54v7.09h-3.54zM822.18 189.48h3.54v7.09h-3.54zM811.57 196.57h3.54v7.09h-3.54zM832.8 217.83h10.61v7.09h-10.61zM825.72 224.92h3.54v7.09h-3.54zM839.87 232.01h3.54v7.09h-3.54zM850.48 232.01h3.54v7.09h-3.54z" fill="#37f600"/>
<path d="M861.1 104.41h7.08v7.09h-7.08zM836.33 111.5h3.54v7.09h-3.54zM825.72 118.59h3.54v7.09h-3.54zM815.11 132.77h3.54v7.09h-3.54zM825.72 132.77h3.54v7.09h-3.54zM825.72 139.86h3.54v7.09h-3.54zM822.18 146.94h3.54v7.09h-3.54zM808.03 154.03h3.54v7.09h-3.54zM815.11 154.03h3.54v7.09h-3.54zM815.11 161.12h3.54v7.09h-3.54zM815.11 168.21h7.08v7.09h-7.08zM815.11 175.3h3.54v7.09h-3.54zM818.64 182.39h3.54v7.09h-3.54zM825.72 182.39h3.54v7.09h-3.54zM811.57 189.48h3.54v7.09h-3.54zM822.18 196.57h3.54v7.09h-3.54zM829.26 196.57h3.54v7.09h-3.54zM825.72 203.66h7.08v7.09h-7.08zM818.64 210.74h7.08v7.09h-7.08zM832.8 210.74h3.54v7.09h-3.54zM818.64 217.83h7.08v7.09h-7.08zM836.33 232.01h3.54v7.09h-3.54zM854.02 232.01h3.54v7.09h-3.54zM861.1 232.01h3.54v7.09h-3.54zM854.02 239.1h3.54v7.09h-3.54z" fill="#4df700"/>
<path d="M854.02 104.41h3.54v7.09h-3.54zM843.41 118.59h3.54v7.09h-3.54zM850.48 118.59h3.54v7.09h-3.54zM822.18 125.68h3.54v7.09h-3.54zM832.8 125.68h3.54v7.09h-3.54zM818.64 132.77h3.54v7.09h-3.54zM832.8 132.77h3.54v7.09h-3.54zM829.26 146.94h3.54v7.09h-3.54zM818.64 154.03h3.54v7.09h-3.54zM825.72 154.03h3.54v7.09h-3.54zM818.64 161.12h7.08v7.09h-7.08zM818.64 175.3h7.08v7.09h-7.08zM815.11 182.39h3.54v7.09h-3.54zM815.11 189.48h3.54v7.09h-3.54zM825.72 189.48h3.54v7.09h-3.54zM815.11 196.57h3.54v7.09h-3.54zM825.72 217.83h3.54v7.09h-3.54zM832.8 224.92h7.08v7.09h-7.08zM846.95 224.92h3.54v7.09h-3.54zM921.24 224.92h3.54v7.09h-3.54zM846.95 232.01h3.54v7.09h-3.54zM857.56 232.01h3.54v7.09h-3.54zM857.56 239.1h3.54v7.09h-3.54zM864.64 239.1h3.54v7.09h-3.54zM878.79 239.1h3.54v7.09h-3.54zM885.86 239.1h3.54v7.09h-3.54zM892.94 239.1h3.54v7.09h-3.54z" fill="#63f800"/>
<path d="M850.48 104.41h3.54v7.09h-3.54zM857.56 104.41h3.54v7.09h-3.54zM892.94 104.41h7.08v7.09h-7.08zM839.87 111.5h3.54v7.09h-3.54zM846.95 111.5h3.54v7.09h-3.54zM907.09 111.5h3.54v7.09h-3.54zM846.95 118.59h3.54v7.09h-3.54zM921.24 118.59h3.54v7.09h-3.54zM829.26 125.68h3.54v7.09h-3.54zM836.33 125.68h3.54v7.09h-3.54zM818.64 146.94h3.54v7.09h-3.54zM825.72 196.57h3.54v7.09h-3.54zM832.8 203.66h3.54v7.09h-3.54zM935.39 203.66h3.54v7.09h-3.54zM825.72 210.74h7.08v7.09h-7.08zM836.33 210.74h7.08v7.09h-7.08zM921.24 217.83h3.54v7.09h-3.54zM839.87 224.92h7.08v7.09h-7.08zM850.48 224.92h7.08v7.09h-7.08zM861.1 224.92h3.54v7.09h-3.54zM868.17 224.92h3.54v7.09h-3.54zM917.7 224.92h3.54v7.09h-3.54zM864.64 232.01h3.54v7.09h-3.54zM885.86 232.01h3.54v7.09h-3.54zM861.1 239.1h3.54v7.09h-3.54zM868.17 239.1h3.54v7.09h-3.54zM875.25 239.1h3.54v7.09h-3.54z" fill="#79f900"/>
<path d="M875.25 104.41h3.54v7.09h-3.54zM882.33 104.41h3.54v7.09h-3.54zM843.41 111.5h3.54v7.09h-3.54zM850.48 111.5h10.61v7.09h-10.61zM903.55 111.5h3.54v7.09h-3.54zM910.63 111.5h3.54v7.09h-3.54zM832.8 118.59h7.08v7.09h-7.08zM843.41 125.68h3.54v7.09h-3.54zM928.32 125.68h3.54v7.09h-3.54zM829.26 139.86h3.54v7.09h-3.54zM935.39 139.86h3.54v7.09h-3.54zM822.18 154.03h3.54v7.09h-3.54zM935.39 154.03h3.54v7.09h-3.54zM825.72 161.12h3.54v7.09h-3.54zM938.93 161.12h7.08v7.09h-7.08zM822.18 168.21h3.54v7.09h-3.54zM938.93 175.3h3.54v7.09h-3.54zM942.47 182.39h3.54v7.09h-3.54zM938.93 189.48h7.08v7.09h-7.08zM836.33 203.66h3.54v7.09h-3.54zM931.86 203.66h3.54v7.09h-3.54zM924.78 217.83h7.08v7.09h-7.08zM914.17 224.92h3.54v7.09h-3.54zM875.25 232.01h3.54v7.09h-3.54zM892.94 232.01h3.54v7.09h-3.54zM903.55 232.01h7.08v7.09h-7.08zM871.71 239.1h3.54v7.09h-3.54zM889.4 239.1h3.54v7.09h-3.54zM896.48 239.1h3.54v7.09h-3.54z" fill="#8efa00"/>
<path d="M871.71 104.41h3.54v7.09h-3.54zM864.64 111.5h3.54v7.09h-3.54zM889.4 111.5h3.54v7.09h-3.54zM839.87 118.59h3.54v7.09h-3.54zM857.56 118.59h7.08v7.09h-7.08zM907.09 118.59h3.54v7.09h-3.54zM917.7 125.68h10.61v7.09h-10.61zM829.26 132.77h3.54v7.09h-3.54zM836.33 132.77h3.54v7.09h-3.54zM832.8 139.86h3.54v7.09h-3.54zM825.72 146.94h3.54v7.09h-3.54zM938.93 146.94h3.54v7.09h-3.54zM942.47 154.03h3.54v7.09h-3.54zM935.39 161.12h3.54v7.09h-3.54zM942.47 168.21h3.54v7.09h-3.54zM942.47 175.3h3.54v7.09h-3.54zM935.39 196.57h3.54v7.09h-3.54zM843.41 210.74h3.54v7.09h-3.54zM843.41 217.83h3.54v7.09h-3.54zM850.48 217.83h3.54v7.09h-3.54zM857.56 217.83h3.54v7.09h-3.54zM871.71 224.92h7.08v7.09h-7.08zM892.94 224.92h3.54v7.09h-3.54zM868.17 232.01h7.08v7.09h-7.08zM878.79 232.01h7.08v7.09h-7.08zM889.4 232.01h3.54v7.09h-3.54zM910.63 232.01h3.54v7.09h-3.54zM882.33 239.1h3.54v7.09h-3.54z" fill="#a4f901"/>
<path d="M868.17 104.41h3.54v7.09h-3.54zM885.86 104.41h7.08v7.09h-7.08zM861.1 111.5h3.54v7.09h-3.54zM868.17 111.5h7.08v7.09h-7.08zM892.94 111.5h3.54v7.09h-3.54zM892.94 118.59h7.08v7.09h-7.08zM839.87 125.68h3.54v7.09h-3.54zM846.95 125.68h3.54v7.09h-3.54zM914.17 125.68h3.54v7.09h-3.54zM839.87 132.77h7.08v7.09h-7.08zM931.86 146.94h7.08v7.09h-7.08zM938.93 168.21h3.54v7.09h-3.54zM931.86 189.48h7.08v7.09h-7.08zM924.78 196.57h3.54v7.09h-3.54zM921.24 203.66h3.54v7.09h-3.54zM928.32 203.66h3.54v7.09h-3.54zM921.24 210.74h3.54v7.09h-3.54zM928.32 210.74h3.54v7.09h-3.54zM846.95 217.83h3.54v7.09h-3.54zM854.02 217.83h3.54v7.09h-3.54zM889.4 217.83h7.08v7.09h-7.08zM917.7 217.83h3.54v7.09h-3.54zM857.56 224.92h3.54v7.09h-3.54zM885.86 224.92h3.54v7.09h-3.54zM896.48 224.92h7.08v7.09h-7.08zM910.63 224.92h3.54v7.09h-3.54zM896.48 232.01h7.08v7.09h-7.08z" fill="#b9f702"/>
<path d="M878.79 104.41h3.54v7.09h-3.54zM878.79 111.5h3.54v7.09h-3.54zM900.02 111.5h3.54v7.09h-3.54zM854.02 118.59h3.54v7.09h-3.54zM864.64 118.59h3.54v7.09h-3.54zM875.25 118.59h7.08v7.09h-7.08zM903.55 118.59h3.54v7.09h-3.54zM914.17 118.59h7.08v7.09h-7.08zM850.48 125.68h3.54v7.09h-3.54zM914.17 132.77h3.54v7.09h-3.54zM924.78 132.77h10.61v7.09h-10.61zM931.86 139.86h3.54v7.09h-3.54zM938.93 154.03h3.54v7.09h-3.54zM928.32 182.39h3.54v7.09h-3.54zM931.86 196.57h3.54v7.09h-3.54zM938.93 196.57h3.54v7.09h-3.54zM924.78 203.66h3.54v7.09h-3.54zM931.86 210.74h3.54v7.09h-3.54zM903.55 217.83h3.54v7.09h-3.54zM910.63 217.83h3.54v7.09h-3.54zM864.64 224.92h3.54v7.09h-3.54zM882.33 224.92h3.54v7.09h-3.54zM903.55 224.92h7.08v7.09h-7.08z" fill="#cff603"/>
<path d="M875.25 111.5h3.54v7.09h-3.54zM882.33 111.5h3.54v7.09h-3.54zM896.48 111.5h3.54v7.09h-3.54zM900.02 118.59h3.54v7.09h-3.54zM900.02 125.68h3.54v7.09h-3.54zM921.24 132.77h3.54v7.09h-3.54zM836.33 139.86h3.54v7.09h-3.54zM917.7 139.86h3.54v7.09h-3.54zM924.78 139.86h3.54v7.09h-3.54zM924.78 146.94h3.54v7.09h-3.54zM931.86 154.03h3.54v7.09h-3.54zM928.32 161.12h3.54v7.09h-3.54zM924.78 182.39h3.54v7.09h-3.54zM931.86 182.39h10.61v7.09h-10.61zM928.32 189.48h3.54v7.09h-3.54zM924.78 210.74h3.54v7.09h-3.54zM900.02 217.83h3.54v7.09h-3.54zM914.17 217.83h3.54v7.09h-3.54zM889.4 224.92h3.54v7.09h-3.54z" fill="#e4f504"/>
<path d="M885.86 111.5h3.54v7.09h-3.54zM885.86 118.59h7.08v7.09h-7.08zM910.63 118.59h3.54v7.09h-3.54zM896.48 125.68h3.54v7.09h-3.54zM910.63 125.68h3.54v7.09h-3.54zM907.09 132.77h7.08v7.09h-7.08zM928.32 139.86h3.54v7.09h-3.54zM928.32 146.94h3.54v7.09h-3.54zM928.32 154.03h3.54v7.09h-3.54zM928.32 168.21h3.54v7.09h-3.54zM935.39 175.3h3.54v7.09h-3.54zM914.17 203.66h3.54v7.09h-3.54zM910.63 210.74h7.08v7.09h-7.08zM878.79 224.92h3.54v7.09h-3.54z" fill="#f9f405"/>
<path d="M868.17 118.59h7.08v7.09h-7.08zM857.56 125.68h3.54v7.09h-3.54zM907.09 125.68h3.54v7.09h-3.54zM917.7 132.77h3.54v7.09h-3.54zM921.24 139.86h3.54v7.09h-3.54zM921.24 161.12h7.08v7.09h-7.08zM924.78 168.21h3.54v7.09h-3.54zM935.39 168.21h3.54v7.09h-3.54zM931.86 175.3h3.54v7.09h-3.54zM921.24 182.39h3.54v7.09h-3.54zM928.32 196.57h3.54v7.09h-3.54zM910.63 203.66h3.54v7.09h-3.54zM903.55 210.74h7.08v7.09h-7.08zM917.7 210.74h3.54v7.09h-3.54zM896.48 217.83h3.54v7.09h-3.54zM907.09 217.83h3.54v7.09h-3.54z" fill="#ffea05"/>
<path d="M882.33 118.59h3.54v7.09h-3.54zM892.94 125.68h3.54v7.09h-3.54zM903.55 125.68h3.54v7.09h-3.54zM903.55 132.77h3.54v7.09h-3.54zM924.78 154.03h3.54v7.09h-3.54zM931.86 161.12h3.54v7.09h-3.54zM931.86 168.21h3.54v7.09h-3.54zM924.78 175.3h7.08v7.09h-7.08zM924.78 189.48h3.54v7.09h-3.54zM917.7 196.57h7.08v7.09h-7.08zM917.7 203.66h3.54v7.09h-3.54z" fill="#ffdb06"/>
<path d="M854.02 125.68h3.54v7.09h-3.54zM921.24 146.94h3.54v7.09h-3.54zM921.24 154.03h3.54v7.09h-3.54zM921.24 189.48h3.54v7.09h-3.54z" fill="#ffcd06"/>
<path d="M910.63 139.86h7.08v7.09h-7.08zM917.7 146.94h3.54v7.09h-3.54z" fill="#ffbf07"/>
<path d="M889.4 125.68h3.54v7.09h-3.54z" fill="#ffb108"/>
<path d="M850.48 104.41h49.53M836.33 111.5h14.15M900.02 111.5h14.15M825.72 118.59h10.61M914.17 118.59h10.61M818.64 125.68h7.08M861.1 125.68h28.3M924.78 125.68h7.08M815.11 132.77h3.54M846.95 132.77h14.15M889.4 132.77h14.15M931.86 132.77h3.54M811.57 139.86h3.54M839.87 139.86h7.08M903.55 139.86h7.08M935.39 139.86h3.54M808.03 146.94h3.54M832.8 146.94h7.08M910.63 146.94h7.08M938.93 146.94h3.54M804.49 154.03h3.54M829.26 154.03h3.54M917.7 154.03h3.54M942.47 154.03h3.54M825.72 168.21h3.54M921.24 168.21h3.54M825.72 182.39h3.54M921.24 182.39h3.54M804.49 196.57h3.54M829.26 196.57h3.54M917.7 196.57h3.54M942.47 196.57h3.54M808.03 203.66h3.54M832.8 203.66h7.08M910.63 203.66h7.08M938.93 203.66h3.54M811.57 210.74h3.54M839.87 210.74h7.08M903.55 210.74h7.08M935.39 210.74h3.54M815.11 217.83h3.54M846.95 217.83h14.15M889.4 217.83h14.15M931.86 217.83h3.54M818.64 224.92h7.08M861.1 224.92h28.3M924.78 224.92h7.08M825.72 232.01h10.61M914.17 232.01h10.61M836.33 239.1h14.15M900.02 239.1h14.15M850.48 246.19h49.53M804.49 154.03v42.53M808.03 146.94v7.09M808.03 196.57v7.09M811.57 139.86v7.09M811.57 203.66v7.09M815.11 132.77v7.09M815.11 210.74v7.09M818.64 125.68v7.09M818.64 217.83v7.09M825.72 118.59v7.09M825.72 168.21v14.18M825.72 224.92v7.09M829.26 154.03v14.18M829.26 182.39v14.18M832.8 146.94v7.09M832.8 196.57v7.09M836.33 111.5v7.09M836.33 232.01v7.09M839.87 139.86v7.09M839.87 203.66v7.09M846.95 132.77v7.09M846.95 210.74v7.09M850.48 104.41v7.09M850.48 239.1v7.09M861.1 125.68v7.09M861.1 217.83v7.09M889.4 125.68v7.09M889.4 217.83v7.09M900.02 104.41v7.09M900.02 239.1v7.09M903.55 132.77v7.09M903.55 210.74v7.09M910.63 139.86v7.09M910.63 203.66v7.09M914.17 111.5v7.09M914.17 232.01v7.09M917.7 146.94v7.09M917.7 196.57v7.09M921.24 154.03v14.18M921.24 182.39v14.18M924.78 118.59v7.09M924.78 168.21v14.18M924.78 224.92v7.09M931.86 125.68v7.09M931.86 217.83v7.09M935.39 132.77v7.09M935.39 210.74v7.09M938.93 139.86v7.09M938.93 203.66v7.09M942.47 146.94v7.09M942.47 196.57v7.09M946.01 154.03v42.53" fill="none" stroke="#000" stroke-width="1.97" stroke-linecap="square"/>
<circle cx="876.7" cy="175.9" r="117.3" fill="none" stroke="#b0b0b0" stroke-width="1.7"/>
<use href="#notch" fill="#fff" stroke="#777" stroke-width="1.61"/>
</g>
<rect x="440.3" y="462" width="1" height="178" fill="#eeeff3"/>
<text x="510.3" y="477.3" font-size="14" fill="#5a5a5a" stroke="#5a5a5a" stroke-width="0.55" text-anchor="middle">D</text>
<g transform="translate(19.61 448.53) scale(0.55925)">
<circle cx="876.7" cy="175.9" r="117.3" fill="#fff"/>
<g clip-path="url(#cw)"><use href="#part" fill="none" stroke="#d6d6d6" stroke-width="1.07"/></g>
<path d="M815.11 111.5h3.54v7.09h-3.54zM815.11 118.59h3.54v7.09h-3.54zM804.49 125.68h3.54v7.09h-3.54zM815.11 125.68h3.54v7.09h-3.54zM797.42 139.86h10.61v7.09h-10.61zM800.95 146.94h3.54v7.09h-3.54zM793.88 154.03h10.61v7.09h-10.61zM793.88 161.12h7.08v7.09h-7.08zM793.88 168.21h7.08v7.09h-7.08zM790.34 182.39h10.61v7.09h-10.61zM797.42 189.48h3.54v7.09h-3.54zM800.95 203.66h7.08v7.09h-7.08zM800.95 210.74h14.15v7.09h-14.15zM815.11 217.83h3.54v7.09h-3.54zM808.03 224.92h7.08v7.09h-7.08zM822.18 224.92h3.54v7.09h-3.54zM815.11 232.01h3.54v7.09h-3.54zM822.18 232.01h3.54v7.09h-3.54zM829.26 239.1h3.54v7.09h-3.54zM836.33 239.1h3.54v7.09h-3.54zM846.95 246.19h3.54v7.09h-3.54z" fill="#0bf400"/>
<path d="M822.18 104.41h10.61v7.09h-10.61zM822.18 111.5h3.54v7.09h-3.54zM804.49 118.59h3.54v7.09h-3.54zM818.64 118.59h3.54v7.09h-3.54zM797.42 132.77h3.54v7.09h-3.54zM804.49 146.94h3.54v7.09h-3.54zM786.8 168.21h3.54v7.09h-3.54zM790.34 175.3h3.54v7.09h-3.54zM790.34 196.57h3.54v7.09h-3.54zM797.42 196.57h3.54v7.09h-3.54zM808.03 203.66h3.54v7.09h-3.54zM800.95 217.83h3.54v7.09h-3.54zM818.64 224.92h3.54v7.09h-3.54zM825.72 232.01h3.54v7.09h-3.54zM822.18 239.1h3.54v7.09h-3.54zM839.87 246.19h3.54v7.09h-3.54zM878.79 246.19h3.54v7.09h-3.54zM854.02 253.28h3.54v7.09h-3.54z" fill="#21f500"/>
<path d="M839.87 90.23h10.61v7.09h-10.61zM854.02 90.23h7.08v7.09h-7.08zM832.8 97.32h3.54v7.09h-3.54zM868.17 97.32h3.54v7.09h-3.54zM839.87 104.41h3.54v7.09h-3.54zM825.72 111.5h3.54v7.09h-3.54zM811.57 118.59h3.54v7.09h-3.54zM797.42 125.68h7.08v7.09h-7.08zM811.57 125.68h3.54v7.09h-3.54zM800.95 132.77h7.08v7.09h-7.08zM811.57 132.77h3.54v7.09h-3.54zM790.34 146.94h3.54v7.09h-3.54zM797.42 146.94h3.54v7.09h-3.54zM790.34 154.03h3.54v7.09h-3.54zM790.34 161.12h3.54v7.09h-3.54zM800.95 168.21h3.54v7.09h-3.54zM800.95 182.39h3.54v7.09h-3.54zM793.88 189.48h3.54v7.09h-3.54zM800.95 189.48h3.54v7.09h-3.54zM793.88 203.66h3.54v7.09h-3.54zM797.42 210.74h3.54v7.09h-3.54zM800.95 224.92h3.54v7.09h-3.54zM815.11 224.92h3.54v7.09h-3.54zM804.49 232.01h3.54v7.09h-3.54zM818.64 239.1h3.54v7.09h-3.54zM832.8 239.1h3.54v7.09h-3.54zM846.95 239.1h3.54v7.09h-3.54zM836.33 246.19h3.54v7.09h-3.54zM843.41 246.19h3.54v7.09h-3.54zM854.02 246.19h3.54v7.09h-3.54zM861.1 246.19h10.61v7.09h-10.61zM875.25 246.19h3.54v7.09h-3.54zM885.86 253.28h3.54v7.09h-3.54zM892.94 253.28h3.54v7.09h-3.54z" fill="#37f600"/>
<path d="M857.56 83.14h3.54v7.09h-3.54zM836.33 90.23h3.54v7.09h-3.54zM850.48 90.23h3.54v7.09h-3.54zM861.1 90.23h7.08v7.09h-7.08zM871.71 90.23h3.54v7.09h-3.54zM829.26 97.32h3.54v7.09h-3.54zM857.56 97.32h3.54v7.09h-3.54zM871.71 97.32h3.54v7.09h-3.54zM818.64 111.5h3.54v7.09h-3.54zM832.8 111.5h3.54v7.09h-3.54zM808.03 118.59h3.54v7.09h-3.54zM822.18 118.59h3.54v7.09h-3.54zM808.03 125.68h3.54v7.09h-3.54zM793.88 132.77h3.54v7.09h-3.54zM808.03 132.77h3.54v7.09h-3.54zM793.88 139.86h3.54v7.09h-3.54zM808.03 139.86h3.54v7.09h-3.54zM786.8 154.03h3.54v7.09h-3.54zM800.95 161.12h3.54v7.09h-3.54zM783.27 175.3h7.08v7.09h-7.08zM793.88 175.3h10.61v7.09h-10.61zM790.34 189.48h3.54v7.09h-3.54zM800.95 196.57h7.08v7.09h-7.08zM790.34 203.66h3.54v7.09h-3.54zM797.42 203.66h3.54v7.09h-3.54zM804.49 217.83h10.61v7.09h-10.61zM811.57 232.01h3.54v7.09h-3.54zM832.8 232.01h3.54v7.09h-3.54zM839.87 239.1h3.54v7.09h-3.54zM900.02 239.1h3.54v7.09h-3.54zM910.63 239.1h3.54v7.09h-3.54zM921.24 239.1h3.54v7.09h-3.54zM822.18 246.19h3.54v7.09h-3.54zM832.8 246.19h3.54v7.09h-3.54zM871.71 246.19h3.54v7.09h-3.54zM885.86 246.19h10.61v7.09h-10.61zM861.1 253.28h3.54v7.09h-3.54zM868.17 253.28h3.54v7.09h-3.54zM878.79 253.28h7.08v7.09h-7.08zM900.02 253.28h3.54v7.09h-3.54zM839.87 260.37h3.54v7.09h-3.54zM857.56 260.37h3.54v7.09h-3.54zM871.71 260.37h3.54v7.09h-3.54z" fill="#4df700"/>
<path d="M829.26 90.23h3.54v7.09h-3.54zM868.17 90.23h3.54v7.09h-3.54zM882.33 90.23h7.08v7.09h-7.08zM896.48 90.23h3.54v7.09h-3.54zM864.64 97.32h3.54v7.09h-3.54zM875.25 97.32h7.08v7.09h-7.08zM808.03 111.5h3.54v7.09h-3.54zM829.26 111.5h3.54v7.09h-3.54zM786.8 146.94h3.54v7.09h-3.54zM793.88 146.94h3.54v7.09h-3.54zM790.34 168.21h3.54v7.09h-3.54zM786.8 182.39h3.54v7.09h-3.54zM793.88 196.57h3.54v7.09h-3.54zM793.88 210.74h3.54v7.09h-3.54zM793.88 217.83h7.08v7.09h-7.08zM818.64 232.01h3.54v7.09h-3.54zM829.26 232.01h3.54v7.09h-3.54zM917.7 232.01h3.54v7.09h-3.54zM815.11 239.1h3.54v7.09h-3.54zM825.72 239.1h3.54v7.09h-3.54zM843.41 239.1h3.54v7.09h-3.54zM907.09 239.1h3.54v7.09h-3.54zM914.17 239.1h3.54v7.09h-3.54zM825.72 246.19h7.08v7.09h-7.08zM850.48 246.19h3.54v7.09h-3.54zM896.48 246.19h7.08v7.09h-7.08zM910.63 246.19h3.54v7.09h-3.54zM921.24 246.19h3.54v7.09h-3.54zM825.72 253.28h3.54v7.09h-3.54zM832.8 253.28h3.54v7.09h-3.54zM839.87 253.28h3.54v7.09h-3.54zM846.95 253.28h7.08v7.09h-7.08zM857.56 253.28h3.54v7.09h-3.54zM864.64 253.28h3.54v7.09h-3.54zM875.25 253.28h3.54v7.09h-3.54zM889.4 253.28h3.54v7.09h-3.54zM896.48 253.28h3.54v7.09h-3.54zM850.48 260.37h3.54v7.09h-3.54zM861.1 260.37h7.08v7.09h-7.08zM875.25 260.37h7.08v7.09h-7.08zM889.4 260.37h3.54v7.09h-3.54z" fill="#63f800"/>
<path d="M843.41 83.14h10.61v7.09h-10.61zM861.1 83.14h3.54v7.09h-3.54zM878.79 83.14h3.54v7.09h-3.54zM889.4 90.23h7.08v7.09h-7.08zM822.18 97.32h3.54v7.09h-3.54zM836.33 97.32h3.54v7.09h-3.54zM843.41 97.32h7.08v7.09h-7.08zM854.02 97.32h3.54v7.09h-3.54zM861.1 97.32h3.54v7.09h-3.54zM889.4 97.32h3.54v7.09h-3.54zM907.09 97.32h10.61v7.09h-10.61zM811.57 104.41h3.54v7.09h-3.54zM818.64 104.41h3.54v7.09h-3.54zM832.8 104.41h7.08v7.09h-7.08zM843.41 104.41h3.54v7.09h-3.54zM900.02 104.41h7.08v7.09h-7.08zM910.63 104.41h3.54v7.09h-3.54zM917.7 104.41h3.54v7.09h-3.54zM804.49 111.5h3.54v7.09h-3.54zM811.57 111.5h3.54v7.09h-3.54zM914.17 111.5h3.54v7.09h-3.54zM921.24 111.5h3.54v7.09h-3.54zM800.95 118.59h3.54v7.09h-3.54zM928.32 118.59h3.54v7.09h-3.54zM790.34 132.77h3.54v7.09h-3.54zM938.93 132.77h3.54v7.09h-3.54zM790.34 139.86h3.54v7.09h-3.54zM946.01 139.86h3.54v7.09h-3.54zM786.8 161.12h3.54v7.09h-3.54zM786.8 189.48h3.54v7.09h-3.54zM949.55 189.48h3.54v7.09h-3.54zM942.47 203.66h3.54v7.09h-3.54zM804.49 224.92h3.54v7.09h-3.54zM935.39 224.92h3.54v7.09h-3.54zM808.03 232.01h3.54v7.09h-3.54zM914.17 232.01h3.54v7.09h-3.54zM808.03 239.1h7.08v7.09h-7.08zM917.7 239.1h3.54v7.09h-3.54zM924.78 239.1h3.54v7.09h-3.54zM857.56 246.19h3.54v7.09h-3.54zM882.33 246.19h3.54v7.09h-3.54zM836.33 253.28h3.54v7.09h-3.54zM843.41 253.28h3.54v7.09h-3.54zM871.71 253.28h3.54v7.09h-3.54zM903.55 253.28h3.54v7.09h-3.54zM917.7 253.28h3.54v7.09h-3.54zM846.95 260.37h3.54v7.09h-3.54zM868.17 260.37h3.54v7.09h-3.54zM882.33 260.37h3.54v7.09h-3.54z" fill="#79f900"/>
<path d="M864.64 83.14h3.54v7.09h-3.54zM882.33 83.14h7.08v7.09h-7.08zM896.48 83.14h3.54v7.09h-3.54zM832.8 90.23h3.54v7.09h-3.54zM878.79 90.23h3.54v7.09h-3.54zM914.17 90.23h3.54v7.09h-3.54zM825.72 97.32h3.54v7.09h-3.54zM839.87 97.32h3.54v7.09h-3.54zM850.48 97.32h3.54v7.09h-3.54zM882.33 97.32h3.54v7.09h-3.54zM903.55 97.32h3.54v7.09h-3.54zM917.7 97.32h3.54v7.09h-3.54zM815.11 104.41h3.54v7.09h-3.54zM846.95 104.41h3.54v7.09h-3.54zM914.17 104.41h3.54v7.09h-3.54zM924.78 104.41h3.54v7.09h-3.54zM917.7 111.5h3.54v7.09h-3.54zM793.88 125.68h3.54v7.09h-3.54zM935.39 125.68h3.54v7.09h-3.54zM949.55 139.86h3.54v7.09h-3.54zM942.47 146.94h10.61v7.09h-10.61zM946.01 175.3h7.08v7.09h-7.08zM786.8 196.57h3.54v7.09h-3.54zM942.47 196.57h3.54v7.09h-3.54zM790.34 210.74h3.54v7.09h-3.54zM946.01 210.74h3.54v7.09h-3.54zM935.39 217.83h3.54v7.09h-3.54zM928.32 239.1h3.54v7.09h-3.54zM815.11 246.19h3.54v7.09h-3.54zM903.55 246.19h7.08v7.09h-7.08zM829.26 253.28h3.54v7.09h-3.54zM907.09 253.28h3.54v7.09h-3.54zM843.41 260.37h3.54v7.09h-3.54zM854.02 260.37h3.54v7.09h-3.54zM896.48 260.37h3.54v7.09h-3.54zM903.55 260.37h3.54v7.09h-3.54z" fill="#8efa00"/>
<path d="M868.17 83.14h10.61v7.09h-10.61zM900.02 83.14h7.08v7.09h-7.08zM825.72 90.23h3.54v7.09h-3.54zM875.25 90.23h3.54v7.09h-3.54zM907.09 90.23h3.54v7.09h-3.54zM917.7 90.23h3.54v7.09h-3.54zM815.11 97.32h7.08v7.09h-7.08zM907.09 104.41h3.54v7.09h-3.54zM935.39 111.5h3.54v7.09h-3.54zM797.42 118.59h3.54v7.09h-3.54zM935.39 118.59h7.08v7.09h-7.08zM931.86 125.68h3.54v7.09h-3.54zM953.08 154.03h7.08v7.09h-7.08zM783.27 161.12h3.54v7.09h-3.54zM946.01 161.12h3.54v7.09h-3.54zM956.62 168.21h3.54v7.09h-3.54zM783.27 182.39h3.54v7.09h-3.54zM949.55 182.39h3.54v7.09h-3.54zM956.62 182.39h3.54v7.09h-3.54zM946.01 189.48h3.54v7.09h-3.54zM953.08 189.48h3.54v7.09h-3.54zM953.08 196.57h3.54v7.09h-3.54zM946.01 203.66h3.54v7.09h-3.54zM953.08 203.66h3.54v7.09h-3.54zM935.39 210.74h3.54v7.09h-3.54zM942.47 210.74h3.54v7.09h-3.54zM949.55 210.74h3.54v7.09h-3.54zM942.47 217.83h7.08v7.09h-7.08zM928.32 224.92h3.54v7.09h-3.54zM938.93 224.92h3.54v7.09h-3.54zM921.24 232.01h3.54v7.09h-3.54zM928.32 232.01h7.08v7.09h-7.08zM903.55 239.1h3.54v7.09h-3.54zM818.64 246.19h3.54v7.09h-3.54zM914.17 246.19h3.54v7.09h-3.54zM910.63 253.28h3.54v7.09h-3.54zM885.86 260.37h3.54v7.09h-3.54zM892.94 260.37h3.54v7.09h-3.54zM900.02 260.37h3.54v7.09h-3.54z" fill="#a4f901"/>
<path d="M839.87 83.14h3.54v7.09h-3.54zM854.02 83.14h3.54v7.09h-3.54zM907.09 83.14h3.54v7.09h-3.54zM900.02 90.23h3.54v7.09h-3.54zM910.63 90.23h3.54v7.09h-3.54zM885.86 97.32h3.54v7.09h-3.54zM892.94 97.32h10.61v7.09h-10.61zM808.03 104.41h3.54v7.09h-3.54zM928.32 104.41h3.54v7.09h-3.54zM924.78 111.5h3.54v7.09h-3.54zM935.39 132.77h3.54v7.09h-3.54zM942.47 139.86h3.54v7.09h-3.54zM783.27 154.03h3.54v7.09h-3.54zM783.27 168.21h3.54v7.09h-3.54zM946.01 168.21h7.08v7.09h-7.08zM946.01 182.39h3.54v7.09h-3.54zM953.08 182.39h3.54v7.09h-3.54zM783.27 189.48h3.54v7.09h-3.54zM960.16 189.48h3.54v7.09h-3.54zM949.55 196.57h3.54v7.09h-3.54zM938.93 210.74h3.54v7.09h-3.54zM931.86 217.83h3.54v7.09h-3.54zM938.93 217.83h3.54v7.09h-3.54zM924.78 224.92h3.54v7.09h-3.54zM931.86 224.92h3.54v7.09h-3.54zM800.95 232.01h3.54v7.09h-3.54zM924.78 232.01h3.54v7.09h-3.54zM935.39 239.1h3.54v7.09h-3.54zM917.7 246.19h3.54v7.09h-3.54zM907.09 260.37h3.54v7.09h-3.54z" fill="#b9f702"/>
<path d="M889.4 83.14h7.08v7.09h-7.08zM903.55 90.23h3.54v7.09h-3.54zM921.24 97.32h3.54v7.09h-3.54zM921.24 104.41h3.54v7.09h-3.54zM931.86 104.41h3.54v7.09h-3.54zM800.95 111.5h3.54v7.09h-3.54zM928.32 111.5h7.08v7.09h-7.08zM924.78 118.59h3.54v7.09h-3.54zM931.86 118.59h3.54v7.09h-3.54zM942.47 118.59h3.54v7.09h-3.54zM946.01 125.68h7.08v7.09h-7.08zM942.47 132.77h10.61v7.09h-10.61zM953.08 139.86h3.54v7.09h-3.54zM949.55 154.03h3.54v7.09h-3.54zM960.16 154.03h3.54v7.09h-3.54zM956.62 175.3h3.54v7.09h-3.54zM960.16 182.39h3.54v7.09h-3.54zM956.62 189.48h3.54v7.09h-3.54zM786.8 203.66h3.54v7.09h-3.54zM938.93 203.66h3.54v7.09h-3.54zM956.62 203.66h3.54v7.09h-3.54zM797.42 224.92h3.54v7.09h-3.54zM942.47 224.92h3.54v7.09h-3.54zM935.39 232.01h7.08v7.09h-7.08zM931.86 239.1h3.54v7.09h-3.54zM924.78 246.19h3.54v7.09h-3.54zM914.17 253.28h3.54v7.09h-3.54z" fill="#cff603"/>
<path d="M921.24 90.23h3.54v7.09h-3.54zM938.93 111.5h3.54v7.09h-3.54zM938.93 125.68h7.08v7.09h-7.08zM953.08 132.77h3.54v7.09h-3.54zM786.8 139.86h3.54v7.09h-3.54zM938.93 139.86h3.54v7.09h-3.54zM956.62 139.86h3.54v7.09h-3.54zM956.62 146.94h7.08v7.09h-7.08zM946.01 154.03h3.54v7.09h-3.54zM949.55 161.12h10.61v7.09h-10.61zM953.08 168.21h3.54v7.09h-3.54zM953.08 175.3h3.54v7.09h-3.54zM946.01 196.57h3.54v7.09h-3.54zM949.55 203.66h3.54v7.09h-3.54zM953.08 210.74h3.54v7.09h-3.54zM953.08 217.83h3.54v7.09h-3.54zM946.01 224.92h3.54v7.09h-3.54zM942.47 232.01h3.54v7.09h-3.54z" fill="#e4f504"/>
<path d="M924.78 97.32h7.08v7.09h-7.08zM942.47 111.5h3.54v7.09h-3.54zM783.27 146.94h3.54v7.09h-3.54zM953.08 146.94h3.54v7.09h-3.54zM960.16 168.21h3.54v7.09h-3.54zM779.73 175.3h3.54v7.09h-3.54zM956.62 196.57h7.08v7.09h-7.08zM956.62 210.74h3.54v7.09h-3.54zM949.55 217.83h3.54v7.09h-3.54zM949.55 224.92h3.54v7.09h-3.54zM938.93 239.1h3.54v7.09h-3.54zM928.32 246.19h3.54v7.09h-3.54zM921.24 253.28h3.54v7.09h-3.54z" fill="#f9f405"/>
<path d="M935.39 104.41h3.54v7.09h-3.54zM946.01 118.59h7.08v7.09h-7.08zM790.34 125.68h3.54v7.09h-3.54zM786.8 132.77h3.54v7.09h-3.54zM779.73 168.21h3.54v7.09h-3.54zM960.16 175.3h7.08v7.09h-7.08zM783.27 196.57h3.54v7.09h-3.54z" fill="#ffea05"/>
<path d="M931.86 97.32h3.54v7.09h-3.54zM938.93 104.41h3.54v7.09h-3.54zM960.16 161.12h3.54v7.09h-3.54zM779.73 182.39h3.54v7.09h-3.54zM931.86 246.19h3.54v7.09h-3.54z" fill="#ffdb06"/>
<path d="M946.01 111.5h3.54v7.09h-3.54zM963.7 168.21h3.54v7.09h-3.54zM963.7 182.39h3.54v7.09h-3.54zM790.34 217.83h3.54v7.09h-3.54zM946.01 232.01h3.54v7.09h-3.54z" fill="#ffcd06"/>
<path d="M953.08 125.68h3.54v7.09h-3.54zM956.62 132.77h3.54v7.09h-3.54zM960.16 139.86h3.54v7.09h-3.54zM786.8 210.74h3.54v7.09h-3.54z" fill="#ffbf07"/>
<path d="M963.7 154.03h3.54v7.09h-3.54zM779.73 161.12h3.54v7.09h-3.54zM963.7 161.12h3.54v7.09h-3.54zM963.7 189.48h3.54v7.09h-3.54zM960.16 203.66h3.54v7.09h-3.54z" fill="#ffb108"/>
<path d="M779.73 154.03h3.54v7.09h-3.54zM963.7 196.57h3.54v7.09h-3.54z" fill="#ffa308"/>
<path d="M956.62 125.68h3.54v7.09h-3.54zM960.16 132.77h3.54v7.09h-3.54zM779.73 189.48h3.54v7.09h-3.54z" fill="#ff9208"/>
<path d="M967.23 161.12h3.54v7.09h-3.54zM956.62 217.83h3.54v7.09h-3.54z" fill="#ff7108"/>
<path d="M963.7 146.94h3.54v7.09h-3.54zM967.23 189.48h3.54v7.09h-3.54z" fill="#ff6008"/>
<path d="M967.23 168.21h3.54v7.09h-3.54zM967.23 175.3h3.54v7.09h-3.54zM960.16 210.74h3.54v7.09h-3.54z" fill="#ff5008"/>
<path d="M967.23 182.39h3.54v7.09h-3.54z" fill="#fe4208"/>
<path d="M967.23 154.03h3.54v7.09h-3.54z" fill="#fc3709"/>
<path d="M839.87 83.14h70.76M825.72 90.23h14.15M910.63 90.23h14.15M815.11 97.32h10.61M924.78 97.32h10.61M808.03 104.41h7.08M850.48 104.41h49.53M935.39 104.41h7.08M800.95 111.5h7.08M836.33 111.5h14.15M900.02 111.5h14.15M942.47 111.5h7.08M797.42 118.59h3.54M825.72 118.59h10.61M914.17 118.59h10.61M949.55 118.59h3.54M790.34 125.68h7.08M818.64 125.68h7.08M924.78 125.68h7.08M953.08 125.68h7.08M786.8 132.77h3.54M815.11 132.77h3.54M931.86 132.77h3.54M960.16 132.77h3.54M811.57 139.86h3.54M935.39 139.86h3.54M783.27 146.94h3.54M808.03 146.94h3.54M938.93 146.94h3.54M963.7 146.94h3.54M779.73 154.03h3.54M804.49 154.03h3.54M942.47 154.03h3.54M967.23 154.03h3.54M779.73 196.57h3.54M804.49 196.57h3.54M942.47 196.57h3.54M967.23 196.57h3.54M783.27 203.66h3.54M808.03 203.66h3.54M938.93 203.66h3.54M963.7 203.66h3.54M811.57 210.74h3.54M935.39 210.74h3.54M786.8 217.83h3.54M815.11 217.83h3.54M931.86 217.83h3.54M960.16 217.83h3.54M790.34 224.92h7.08M818.64 224.92h7.08M924.78 224.92h7.08M953.08 224.92h7.08M797.42 232.01h3.54M825.72 232.01h10.61M914.17 232.01h10.61M949.55 232.01h3.54M800.95 239.1h7.08M836.33 239.1h14.15M900.02 239.1h14.15M942.47 239.1h7.08M808.03 246.19h7.08M850.48 246.19h49.53M935.39 246.19h7.08M815.11 253.28h10.61M924.78 253.28h10.61M825.72 260.37h14.15M910.63 260.37h14.15M839.87 267.46h70.76M779.73 154.03v42.53M783.27 146.94v7.09M783.27 196.57v7.09M786.8 132.77v14.18M786.8 203.66v14.18M790.34 125.68v7.09M790.34 217.83v7.09M797.42 118.59v7.09M797.42 224.92v7.09M800.95 111.5v7.09M800.95 232.01v7.09M804.49 154.03v42.53M808.03 104.41v7.09M808.03 146.94v7.09M808.03 196.57v7.09M808.03 239.1v7.09M811.57 139.86v7.09M811.57 203.66v7.09M815.11 97.32v7.09M815.11 132.77v7.09M815.11 210.74v7.09M815.11 246.19v7.09M818.64 125.68v7.09M818.64 217.83v7.09M825.72 90.23v7.09M825.72 118.59v7.09M825.72 224.92v7.09M825.72 253.28v7.09M836.33 111.5v7.09M836.33 232.01v7.09M839.87 83.14v7.09M839.87 260.37v7.09M850.48 104.41v7.09M850.48 239.1v7.09M900.02 104.41v7.09M900.02 239.1v7.09M910.63 83.14v7.09M910.63 260.37v7.09M914.17 111.5v7.09M914.17 232.01v7.09M924.78 90.23v7.09M924.78 118.59v7.09M924.78 224.92v7.09M924.78 253.28v7.09M931.86 125.68v7.09M931.86 217.83v7.09M935.39 97.32v7.09M935.39 132.77v7.09M935.39 210.74v7.09M935.39 246.19v7.09M938.93 139.86v7.09M938.93 203.66v7.09M942.47 104.41v7.09M942.47 146.94v7.09M942.47 196.57v7.09M942.47 239.1v7.09M946.01 154.03v42.53M949.55 111.5v7.09M949.55 232.01v7.09M953.08 118.59v7.09M953.08 224.92v7.09M960.16 125.68v7.09M960.16 217.83v7.09M963.7 132.77v14.18M963.7 203.66v14.18M967.23 146.94v7.09M967.23 196.57v7.09M970.77 154.03v42.53" fill="none" stroke="#000" stroke-width="1.97" stroke-linecap="square"/>
<circle cx="876.7" cy="175.9" r="117.3" fill="none" stroke="#b0b0b0" stroke-width="1.7"/>
<use href="#notch" fill="#fff" stroke="#777" stroke-width="1.61"/>
</g>
<rect x="578.4" y="462" width="1" height="178" fill="#eeeff3"/>
<text x="648.4" y="477.3" font-size="14" fill="#5a5a5a" stroke="#5a5a5a" stroke-width="0.55" text-anchor="middle">E</text>
<g transform="translate(157.71 448.53) scale(0.55925)">
<circle cx="876.7" cy="175.9" r="117.3" fill="#fff"/>
<g clip-path="url(#cw)"><use href="#part" fill="none" stroke="#d6d6d6" stroke-width="1.07"/></g>
<path d="M875.25 267.46h3.54v7.09h-3.54z" fill="#79f900"/>
<path d="M871.71 76.06h3.54v7.09h-3.54zM882.33 267.46h3.54v7.09h-3.54zM889.4 267.46h3.54v7.09h-3.54z" fill="#8efa00"/>
<path d="M864.64 76.06h3.54v7.09h-3.54zM861.1 267.46h14.15v7.09h-14.15z" fill="#a4f901"/>
<path d="M868.17 76.06h3.54v7.09h-3.54zM836.33 83.14h3.54v7.09h-3.54zM857.56 267.46h3.54v7.09h-3.54zM878.79 267.46h3.54v7.09h-3.54zM885.86 267.46h3.54v7.09h-3.54zM892.94 267.46h3.54v7.09h-3.54z" fill="#b9f702"/>
<path d="M875.25 76.06h3.54v7.09h-3.54zM836.33 260.37h3.54v7.09h-3.54zM854.02 267.46h3.54v7.09h-3.54zM896.48 267.46h3.54v7.09h-3.54z" fill="#cff603"/>
<path d="M854.02 76.06h3.54v7.09h-3.54zM878.79 76.06h7.08v7.09h-7.08zM889.4 76.06h3.54v7.09h-3.54zM832.8 260.37h3.54v7.09h-3.54z" fill="#e4f504"/>
<path d="M857.56 76.06h7.08v7.09h-7.08zM822.18 253.28h3.54v7.09h-3.54zM924.78 253.28h3.54v7.09h-3.54zM910.63 260.37h3.54v7.09h-3.54z" fill="#f9f405"/>
<path d="M885.86 76.06h3.54v7.09h-3.54zM832.8 83.14h3.54v7.09h-3.54zM910.63 83.14h3.54v7.09h-3.54zM822.18 90.23h3.54v7.09h-3.54zM793.88 118.59h3.54v7.09h-3.54zM793.88 224.92h3.54v7.09h-3.54zM935.39 246.19h3.54v7.09h-3.54zM914.17 260.37h3.54v7.09h-3.54z" fill="#ffea05"/>
<path d="M924.78 90.23h3.54v7.09h-3.54zM811.57 246.19h3.54v7.09h-3.54zM850.48 267.46h3.54v7.09h-3.54z" fill="#ffdb06"/>
<path d="M892.94 76.06h3.54v7.09h-3.54zM811.57 97.32h3.54v7.09h-3.54zM783.27 203.66h3.54v7.09h-3.54zM797.42 232.01h3.54v7.09h-3.54zM942.47 239.1h3.54v7.09h-3.54zM829.26 260.37h3.54v7.09h-3.54zM846.95 267.46h3.54v7.09h-3.54z" fill="#ffcd06"/>
<path d="M846.95 76.06h3.54v7.09h-3.54zM896.48 76.06h3.54v7.09h-3.54zM829.26 83.14h3.54v7.09h-3.54zM914.17 83.14h3.54v7.09h-3.54zM804.49 239.1h3.54v7.09h-3.54zM900.02 267.46h3.54v7.09h-3.54z" fill="#ffbf07"/>
<path d="M850.48 76.06h3.54v7.09h-3.54zM818.64 253.28h3.54v7.09h-3.54zM928.32 253.28h3.54v7.09h-3.54zM843.41 267.46h3.54v7.09h-3.54zM868.17 274.54h3.54v7.09h-3.54z" fill="#ffb108"/>
<path d="M900.02 76.06h3.54v7.09h-3.54zM917.7 83.14h3.54v7.09h-3.54zM783.27 139.86h3.54v7.09h-3.54zM949.55 232.01h3.54v7.09h-3.54zM815.11 253.28h3.54v7.09h-3.54zM917.7 260.37h3.54v7.09h-3.54z" fill="#ffa308"/>
<path d="M818.64 90.23h3.54v7.09h-3.54zM935.39 97.32h3.54v7.09h-3.54zM804.49 104.41h3.54v7.09h-3.54zM953.08 118.59h3.54v7.09h-3.54zM808.03 246.19h3.54v7.09h-3.54zM921.24 260.37h3.54v7.09h-3.54zM829.26 267.46h3.54v7.09h-3.54zM839.87 267.46h3.54v7.09h-3.54zM903.55 267.46h3.54v7.09h-3.54zM846.95 274.54h7.08v7.09h-7.08zM871.71 274.54h3.54v7.09h-3.54z" fill="#ff9208"/>
<path d="M843.41 76.06h3.54v7.09h-3.54zM903.55 76.06h3.54v7.09h-3.54zM808.03 97.32h3.54v7.09h-3.54zM797.42 111.5h3.54v7.09h-3.54zM776.19 189.48h3.54v7.09h-3.54zM779.73 203.66h3.54v7.09h-3.54zM779.73 210.74h3.54v7.09h-3.54zM953.08 224.92h3.54v7.09h-3.54zM822.18 260.37h3.54v7.09h-3.54zM832.8 267.46h3.54v7.09h-3.54zM907.09 267.46h3.54v7.09h-3.54zM839.87 274.54h3.54v7.09h-3.54zM864.64 274.54h3.54v7.09h-3.54zM875.25 274.54h3.54v7.09h-3.54zM892.94 274.54h3.54v7.09h-3.54zM875.25 281.63h3.54v7.09h-3.54z" fill="#ff8108"/>
<path d="M822.18 83.14h3.54v7.09h-3.54zM921.24 83.14h3.54v7.09h-3.54zM928.32 90.23h3.54v7.09h-3.54zM942.47 104.41h3.54v7.09h-3.54zM772.65 168.21h7.08v7.09h-7.08zM776.19 175.3h3.54v7.09h-3.54zM776.19 182.39h3.54v7.09h-3.54zM776.19 203.66h3.54v7.09h-3.54zM786.8 224.92h7.08v7.09h-7.08zM793.88 232.01h3.54v7.09h-3.54zM797.42 239.1h7.08v7.09h-7.08zM811.57 253.28h3.54v7.09h-3.54zM808.03 260.37h3.54v7.09h-3.54zM825.72 260.37h3.54v7.09h-3.54zM924.78 260.37h3.54v7.09h-3.54zM822.18 267.46h7.08v7.09h-7.08zM910.63 267.46h3.54v7.09h-3.54zM857.56 274.54h3.54v7.09h-3.54zM885.86 274.54h7.08v7.09h-7.08zM900.02 274.54h14.15v7.09h-14.15zM846.95 281.63h3.54v7.09h-3.54zM854.02 281.63h7.08v7.09h-7.08zM864.64 281.63h3.54v7.09h-3.54zM871.71 281.63h3.54v7.09h-3.54z" fill="#ff7108"/>
<path d="M850.48 68.97h3.54v7.09h-3.54zM861.1 68.97h10.61v7.09h-10.61zM875.25 68.97h3.54v7.09h-3.54zM825.72 83.14h3.54v7.09h-3.54zM790.34 118.59h3.54v7.09h-3.54zM779.73 132.77h7.08v7.09h-7.08zM963.7 139.86h3.54v7.09h-3.54zM769.11 161.12h3.54v7.09h-3.54zM776.19 161.12h3.54v7.09h-3.54zM772.65 182.39h3.54v7.09h-3.54zM772.65 196.57h3.54v7.09h-3.54zM963.7 210.74h3.54v7.09h-3.54zM772.65 217.83h7.08v7.09h-7.08zM786.8 217.83h3.54v7.09h-3.54zM960.16 217.83h7.08v7.09h-7.08zM779.73 232.01h14.15v7.09h-14.15zM790.34 246.19h7.08v7.09h-7.08zM804.49 246.19h3.54v7.09h-3.54zM938.93 246.19h3.54v7.09h-3.54zM946.01 246.19h3.54v7.09h-3.54zM797.42 253.28h10.61v7.09h-10.61zM931.86 253.28h3.54v7.09h-3.54zM928.32 260.37h3.54v7.09h-3.54zM843.41 274.54h3.54v7.09h-3.54zM878.79 274.54h3.54v7.09h-3.54zM892.94 281.63h3.54v7.09h-3.54z" fill="#ff6008"/>
<path d="M857.56 68.97h3.54v7.09h-3.54zM892.94 68.97h7.08v7.09h-7.08zM804.49 90.23h3.54v7.09h-3.54zM931.86 90.23h7.08v7.09h-7.08zM797.42 104.41h3.54v7.09h-3.54zM779.73 111.5h3.54v7.09h-3.54zM949.55 111.5h3.54v7.09h-3.54zM783.27 125.68h7.08v7.09h-7.08zM772.65 132.77h3.54v7.09h-3.54zM779.73 139.86h3.54v7.09h-3.54zM769.11 146.94h3.54v7.09h-3.54zM762.04 154.03h3.54v7.09h-3.54zM772.65 161.12h3.54v7.09h-3.54zM769.11 168.21h3.54v7.09h-3.54zM765.58 175.3h7.08v7.09h-7.08zM765.58 182.39h3.54v7.09h-3.54zM970.77 182.39h3.54v7.09h-3.54zM762.04 189.48h3.54v7.09h-3.54zM970.77 196.57h3.54v7.09h-3.54zM772.65 203.66h3.54v7.09h-3.54zM963.7 203.66h3.54v7.09h-3.54zM783.27 210.74h3.54v7.09h-3.54zM967.23 210.74h3.54v7.09h-3.54zM783.27 217.83h3.54v7.09h-3.54zM960.16 224.92h3.54v7.09h-3.54zM956.62 232.01h3.54v7.09h-3.54zM783.27 239.1h14.15v7.09h-14.15zM946.01 239.1h3.54v7.09h-3.54zM949.55 246.19h3.54v7.09h-3.54zM808.03 253.28h3.54v7.09h-3.54zM938.93 253.28h3.54v7.09h-3.54zM815.11 260.37h3.54v7.09h-3.54zM942.47 260.37h3.54v7.09h-3.54zM836.33 267.46h3.54v7.09h-3.54zM924.78 267.46h3.54v7.09h-3.54zM829.26 274.54h3.54v7.09h-3.54zM854.02 274.54h3.54v7.09h-3.54zM861.1 274.54h3.54v7.09h-3.54zM882.33 274.54h3.54v7.09h-3.54zM896.48 274.54h3.54v7.09h-3.54zM917.7 274.54h3.54v7.09h-3.54z" fill="#ff5008"/>
<path d="M861.1 61.88h3.54v7.09h-3.54zM871.71 61.88h3.54v7.09h-3.54zM878.79 61.88h3.54v7.09h-3.54zM885.86 61.88h3.54v7.09h-3.54zM878.79 68.97h3.54v7.09h-3.54zM885.86 68.97h3.54v7.09h-3.54zM900.02 68.97h3.54v7.09h-3.54zM829.26 76.06h3.54v7.09h-3.54zM836.33 76.06h7.08v7.09h-7.08zM907.09 76.06h3.54v7.09h-3.54zM921.24 76.06h3.54v7.09h-3.54zM815.11 90.23h3.54v7.09h-3.54zM790.34 97.32h3.54v7.09h-3.54zM942.47 97.32h3.54v7.09h-3.54zM790.34 104.41h3.54v7.09h-3.54zM800.95 104.41h3.54v7.09h-3.54zM786.8 111.5h7.08v7.09h-7.08zM779.73 118.59h3.54v7.09h-3.54zM786.8 118.59h3.54v7.09h-3.54zM963.7 125.68h3.54v7.09h-3.54zM776.19 132.77h3.54v7.09h-3.54zM776.19 139.86h3.54v7.09h-3.54zM779.73 146.94h3.54v7.09h-3.54zM765.58 154.03h7.08v7.09h-7.08zM970.77 154.03h3.54v7.09h-3.54zM762.04 161.12h3.54v7.09h-3.54zM970.77 161.12h3.54v7.09h-3.54zM762.04 168.21h7.08v7.09h-7.08zM769.11 182.39h3.54v7.09h-3.54zM772.65 189.48h3.54v7.09h-3.54zM765.58 196.57h3.54v7.09h-3.54zM779.73 196.57h3.54v7.09h-3.54zM776.19 224.92h7.08v7.09h-7.08zM963.7 224.92h3.54v7.09h-3.54zM953.08 232.01h3.54v7.09h-3.54zM956.62 239.1h3.54v7.09h-3.54zM800.95 246.19h3.54v7.09h-3.54zM942.47 246.19h3.54v7.09h-3.54zM942.47 253.28h3.54v7.09h-3.54zM949.55 253.28h3.54v7.09h-3.54zM804.49 260.37h3.54v7.09h-3.54zM811.57 260.37h3.54v7.09h-3.54zM818.64 260.37h3.54v7.09h-3.54zM931.86 260.37h3.54v7.09h-3.54zM818.64 267.46h3.54v7.09h-3.54zM914.17 267.46h10.61v7.09h-10.61zM928.32 267.46h3.54v7.09h-3.54zM935.39 267.46h3.54v7.09h-3.54zM832.8 274.54h3.54v7.09h-3.54zM861.1 281.63h3.54v7.09h-3.54zM868.17 281.63h3.54v7.09h-3.54zM878.79 281.63h7.08v7.09h-7.08zM903.55 281.63h3.54v7.09h-3.54z" fill="#fe4208"/>
<path d="M854.02 61.88h3.54v7.09h-3.54zM868.17 61.88h3.54v7.09h-3.54zM889.4 61.88h3.54v7.09h-3.54zM900.02 61.88h3.54v7.09h-3.54zM829.26 68.97h3.54v7.09h-3.54zM843.41 68.97h3.54v7.09h-3.54zM871.71 68.97h3.54v7.09h-3.54zM882.33 68.97h3.54v7.09h-3.54zM889.4 68.97h3.54v7.09h-3.54zM818.64 76.06h3.54v7.09h-3.54zM832.8 76.06h3.54v7.09h-3.54zM914.17 76.06h3.54v7.09h-3.54zM811.57 83.14h10.61v7.09h-10.61zM924.78 83.14h7.08v7.09h-7.08zM811.57 90.23h3.54v7.09h-3.54zM804.49 97.32h3.54v7.09h-3.54zM938.93 97.32h3.54v7.09h-3.54zM946.01 104.41h3.54v7.09h-3.54zM793.88 111.5h3.54v7.09h-3.54zM956.62 111.5h3.54v7.09h-3.54zM783.27 118.59h3.54v7.09h-3.54zM960.16 118.59h3.54v7.09h-3.54zM772.65 125.68h7.08v7.09h-7.08zM960.16 125.68h3.54v7.09h-3.54zM967.23 132.77h3.54v7.09h-3.54zM772.65 139.86h3.54v7.09h-3.54zM967.23 139.86h3.54v7.09h-3.54zM776.19 146.94h3.54v7.09h-3.54zM772.65 154.03h7.08v7.09h-7.08zM974.31 154.03h3.54v7.09h-3.54zM772.65 175.3h3.54v7.09h-3.54zM970.77 175.3h7.08v7.09h-7.08zM981.39 189.48h3.54v7.09h-3.54zM776.19 196.57h3.54v7.09h-3.54zM765.58 203.66h7.08v7.09h-7.08zM974.31 203.66h3.54v7.09h-3.54zM984.92 203.66h3.54v7.09h-3.54zM776.19 210.74h3.54v7.09h-3.54zM970.77 210.74h3.54v7.09h-3.54zM779.73 217.83h3.54v7.09h-3.54zM967.23 217.83h3.54v7.09h-3.54zM977.85 217.83h3.54v7.09h-3.54zM783.27 224.92h3.54v7.09h-3.54zM967.23 224.92h3.54v7.09h-3.54zM960.16 232.01h3.54v7.09h-3.54zM953.08 239.1h3.54v7.09h-3.54zM797.42 246.19h3.54v7.09h-3.54zM960.16 246.19h3.54v7.09h-3.54zM935.39 253.28h3.54v7.09h-3.54zM935.39 260.37h3.54v7.09h-3.54zM815.11 267.46h3.54v7.09h-3.54zM931.86 267.46h3.54v7.09h-3.54zM836.33 274.54h3.54v7.09h-3.54zM914.17 274.54h3.54v7.09h-3.54zM850.48 281.63h3.54v7.09h-3.54zM885.86 281.63h7.08v7.09h-7.08zM896.48 281.63h7.08v7.09h-7.08z" fill="#fc3709"/>
<path d="M850.48 61.88h3.54v7.09h-3.54zM864.64 61.88h3.54v7.09h-3.54zM875.25 61.88h3.54v7.09h-3.54zM882.33 61.88h3.54v7.09h-3.54zM839.87 68.97h3.54v7.09h-3.54zM854.02 68.97h3.54v7.09h-3.54zM907.09 68.97h7.08v7.09h-7.08zM825.72 76.06h3.54v7.09h-3.54zM946.01 90.23h3.54v7.09h-3.54zM793.88 97.32h3.54v7.09h-3.54zM800.95 97.32h3.54v7.09h-3.54zM786.8 104.41h3.54v7.09h-3.54zM793.88 104.41h3.54v7.09h-3.54zM949.55 104.41h3.54v7.09h-3.54zM956.62 104.41h3.54v7.09h-3.54zM956.62 118.59h3.54v7.09h-3.54zM963.7 118.59h10.61v7.09h-10.61zM779.73 125.68h3.54v7.09h-3.54zM769.11 132.77h3.54v7.09h-3.54zM970.77 132.77h3.54v7.09h-3.54zM970.77 139.86h3.54v7.09h-3.54zM977.85 139.86h3.54v7.09h-3.54zM970.77 146.94h14.15v7.09h-14.15zM765.58 161.12h3.54v7.09h-3.54zM981.39 161.12h3.54v7.09h-3.54zM762.04 175.3h3.54v7.09h-3.54zM984.92 175.3h3.54v7.09h-3.54zM762.04 182.39h3.54v7.09h-3.54zM974.31 182.39h3.54v7.09h-3.54zM984.92 182.39h3.54v7.09h-3.54zM970.77 189.48h3.54v7.09h-3.54zM967.23 196.57h3.54v7.09h-3.54zM977.85 196.57h3.54v7.09h-3.54zM967.23 203.66h3.54v7.09h-3.54zM977.85 203.66h7.08v7.09h-7.08zM769.11 210.74h7.08v7.09h-7.08zM977.85 210.74h7.08v7.09h-7.08zM956.62 224.92h3.54v7.09h-3.54zM949.55 239.1h3.54v7.09h-3.54zM963.7 239.1h3.54v7.09h-3.54z" fill="#fa2d0a"/>
<path d="M857.56 61.88h3.54v7.09h-3.54zM892.94 61.88h3.54v7.09h-3.54zM832.8 68.97h3.54v7.09h-3.54zM846.95 68.97h3.54v7.09h-3.54zM903.55 68.97h3.54v7.09h-3.54zM917.7 68.97h3.54v7.09h-3.54zM822.18 76.06h3.54v7.09h-3.54zM910.63 76.06h3.54v7.09h-3.54zM917.7 76.06h3.54v7.09h-3.54zM931.86 83.14h3.54v7.09h-3.54zM797.42 90.23h7.08v7.09h-7.08zM808.03 90.23h3.54v7.09h-3.54zM946.01 97.32h3.54v7.09h-3.54zM953.08 104.41h3.54v7.09h-3.54zM963.7 104.41h3.54v7.09h-3.54zM783.27 111.5h3.54v7.09h-3.54zM776.19 118.59h3.54v7.09h-3.54zM974.31 118.59h3.54v7.09h-3.54zM967.23 125.68h3.54v7.09h-3.54zM977.85 125.68h3.54v7.09h-3.54zM963.7 132.77h3.54v7.09h-3.54zM974.31 132.77h3.54v7.09h-3.54zM981.39 132.77h3.54v7.09h-3.54zM765.58 139.86h3.54v7.09h-3.54zM765.58 146.94h3.54v7.09h-3.54zM772.65 146.94h3.54v7.09h-3.54zM970.77 168.21h17.69v7.09h-17.69zM765.58 189.48h7.08v7.09h-7.08zM977.85 189.48h3.54v7.09h-3.54zM769.11 196.57h3.54v7.09h-3.54zM970.77 232.01h3.54v7.09h-3.54zM956.62 246.19h3.54v7.09h-3.54zM953.08 253.28h3.54v7.09h-3.54zM938.93 260.37h3.54v7.09h-3.54zM946.01 260.37h3.54v7.09h-3.54zM921.24 274.54h3.54v7.09h-3.54z" fill="#f9220b"/>
<path d="M896.48 61.88h3.54v7.09h-3.54zM836.33 68.97h3.54v7.09h-3.54zM914.17 68.97h3.54v7.09h-3.54zM924.78 76.06h10.61v7.09h-10.61zM808.03 83.14h3.54v7.09h-3.54zM935.39 83.14h10.61v7.09h-10.61zM938.93 90.23h7.08v7.09h-7.08zM949.55 90.23h3.54v7.09h-3.54zM797.42 97.32h3.54v7.09h-3.54zM949.55 97.32h10.61v7.09h-10.61zM960.16 104.41h3.54v7.09h-3.54zM953.08 111.5h3.54v7.09h-3.54zM960.16 111.5h14.15v7.09h-14.15zM970.77 125.68h7.08v7.09h-7.08zM977.85 132.77h3.54v7.09h-3.54zM769.11 139.86h3.54v7.09h-3.54zM974.31 139.86h3.54v7.09h-3.54zM981.39 139.86h3.54v7.09h-3.54zM967.23 146.94h3.54v7.09h-3.54zM984.92 146.94h3.54v7.09h-3.54zM977.85 154.03h10.61v7.09h-10.61zM974.31 161.12h7.08v7.09h-7.08zM984.92 161.12h7.08v7.09h-7.08zM977.85 175.3h7.08v7.09h-7.08zM988.46 175.3h3.54v7.09h-3.54zM977.85 182.39h7.08v7.09h-7.08zM974.31 189.48h3.54v7.09h-3.54zM984.92 189.48h3.54v7.09h-3.54zM974.31 196.57h3.54v7.09h-3.54zM981.39 196.57h7.08v7.09h-7.08zM970.77 203.66h3.54v7.09h-3.54zM974.31 210.74h3.54v7.09h-3.54zM970.77 217.83h7.08v7.09h-7.08zM970.77 224.92h7.08v7.09h-7.08zM963.7 232.01h7.08v7.09h-7.08zM960.16 239.1h3.54v7.09h-3.54zM953.08 246.19h3.54v7.09h-3.54zM946.01 253.28h3.54v7.09h-3.54z" fill="#f7170c"/>
<path d="M850.48 61.88h53.07M829.26 68.97h21.23M903.55 68.97h17.69M818.64 76.06h10.61M921.24 76.06h14.15M808.03 83.14h10.61M839.87 83.14h70.76M935.39 83.14h10.61M797.42 90.23h10.61M825.72 90.23h14.15M910.63 90.23h14.15M946.01 90.23h7.08M790.34 97.32h7.08M815.11 97.32h10.61M924.78 97.32h10.61M953.08 97.32h7.08M786.8 104.41h3.54M808.03 104.41h7.08M935.39 104.41h7.08M960.16 104.41h7.08M779.73 111.5h7.08M800.95 111.5h7.08M942.47 111.5h7.08M967.23 111.5h7.08M776.19 118.59h3.54M797.42 118.59h3.54M949.55 118.59h3.54M974.31 118.59h3.54M772.65 125.68h3.54M790.34 125.68h7.08M953.08 125.68h7.08M977.85 125.68h3.54M769.11 132.77h3.54M786.8 132.77h3.54M960.16 132.77h3.54M981.39 132.77h3.54M765.58 139.86h3.54M783.27 146.94h3.54M963.7 146.94h3.54M984.92 146.94h3.54M762.04 154.03h3.54M779.73 154.03h3.54M967.23 154.03h3.54M988.46 161.12h3.54M988.46 168.21h3.54M988.46 175.3h3.54M988.46 182.39h3.54M762.04 196.57h3.54M779.73 196.57h3.54M967.23 196.57h3.54M783.27 203.66h3.54M963.7 203.66h3.54M765.58 210.74h3.54M984.92 210.74h3.54M769.11 217.83h3.54M786.8 217.83h3.54M960.16 217.83h3.54M981.39 217.83h3.54M772.65 224.92h3.54M790.34 224.92h7.08M953.08 224.92h7.08M977.85 224.92h3.54M776.19 232.01h3.54M797.42 232.01h3.54M949.55 232.01h3.54M974.31 232.01h3.54M779.73 239.1h3.54M800.95 239.1h7.08M942.47 239.1h7.08M967.23 239.1h7.08M783.27 246.19h7.08M808.03 246.19h7.08M935.39 246.19h7.08M963.7 246.19h3.54M790.34 253.28h7.08M815.11 253.28h10.61M924.78 253.28h10.61M956.62 253.28h7.08M797.42 260.37h7.08M825.72 260.37h14.15M910.63 260.37h14.15M949.55 260.37h7.08M804.49 267.46h10.61M839.87 267.46h70.76M938.93 267.46h10.61M815.11 274.54h14.15M924.78 274.54h14.15M829.26 281.63h17.69M907.09 281.63h17.69M846.95 288.72h60.14M762.04 154.03v42.53M765.58 139.86v14.18M765.58 196.57v14.18M769.11 132.77v7.09M769.11 210.74v7.09M772.65 125.68v7.09M772.65 217.83v7.09M776.19 118.59v7.09M776.19 224.92v7.09M779.73 111.5v7.09M779.73 154.03v42.53M779.73 232.01v7.09M783.27 146.94v7.09M783.27 196.57v7.09M783.27 239.1v7.09M786.8 104.41v7.09M786.8 132.77v14.18M786.8 203.66v14.18M790.34 97.32v7.09M790.34 125.68v7.09M790.34 217.83v7.09M790.34 246.19v7.09M797.42 90.23v7.09M797.42 118.59v7.09M797.42 224.92v7.09M797.42 253.28v7.09M800.95 111.5v7.09M800.95 232.01v7.09M804.49 260.37v7.09M808.03 83.14v7.09M808.03 104.41v7.09M808.03 239.1v7.09M815.11 97.32v7.09M815.11 246.19v7.09M815.11 267.46v7.09M818.64 76.06v7.09M825.72 90.23v7.09M825.72 253.28v7.09M829.26 68.97v7.09M829.26 274.54v7.09M839.87 83.14v7.09M839.87 260.37v7.09M846.95 281.63v7.09M850.48 61.88v7.09M903.55 61.88v7.09M907.09 281.63v7.09M910.63 83.14v7.09M910.63 260.37v7.09M921.24 68.97v7.09M924.78 90.23v7.09M924.78 253.28v7.09M924.78 274.54v7.09M935.39 76.06v7.09M935.39 97.32v7.09M935.39 246.19v7.09M938.93 267.46v7.09M942.47 104.41v7.09M942.47 239.1v7.09M946.01 83.14v7.09M949.55 111.5v7.09M949.55 232.01v7.09M949.55 260.37v7.09M953.08 90.23v7.09M953.08 118.59v7.09M953.08 224.92v7.09M956.62 253.28v7.09M960.16 97.32v7.09M960.16 125.68v7.09M960.16 217.83v7.09M963.7 132.77v14.18M963.7 203.66v14.18M963.7 246.19v7.09M967.23 104.41v7.09M967.23 146.94v7.09M967.23 196.57v7.09M967.23 239.1v7.09M970.77 154.03v42.53M974.31 111.5v7.09M974.31 232.01v7.09M977.85 118.59v7.09M977.85 224.92v7.09M981.39 125.68v7.09M981.39 217.83v7.09M984.92 132.77v14.18M984.92 210.74v7.09M988.46 146.94v14.18M988.46 168.21v7.09M988.46 182.39v28.36M992 161.12v7.09M992 175.3v7.09" fill="none" stroke="#000" stroke-width="1.97" stroke-linecap="square"/>
<circle cx="876.7" cy="175.9" r="117.3" fill="none" stroke="#b0b0b0" stroke-width="1.7"/>
<use href="#notch" fill="#fff" stroke="#777" stroke-width="1.61"/>
</g>
<rect x="26.3" y="479.8" width="693.6" height="1" fill="#eeeff3"/>
<rect x="26.0" y="462" width="1" height="178" fill="#eeeff3"/>
</svg></body></html>
